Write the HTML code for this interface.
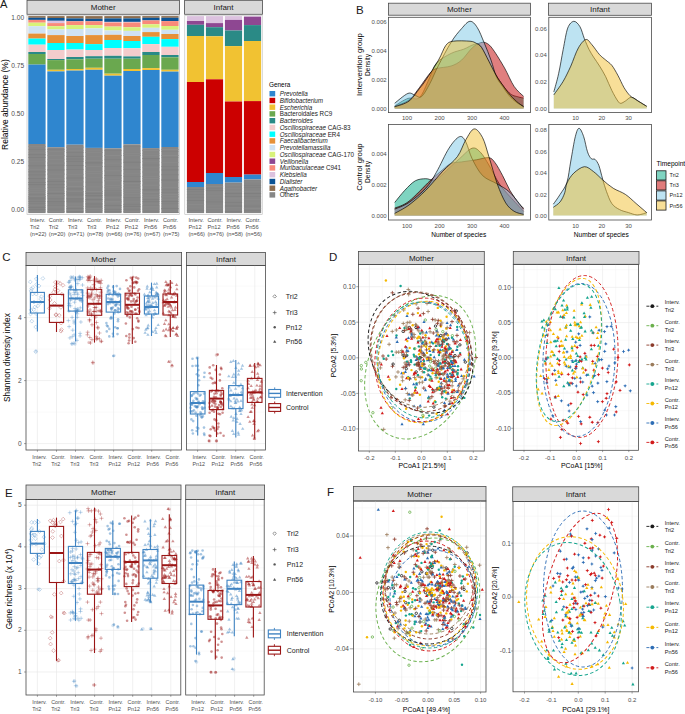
<!DOCTYPE html>
<html><head><meta charset="utf-8"><style>
html,body{margin:0;padding:0;background:#fff;}
svg{display:block;font-family:"Liberation Sans",sans-serif;}
</style></head><body>
<svg width="685" height="714" viewBox="0 0 685 714">
<rect width="685" height="714" fill="#fff"/>
<text x="0" y="8.4" font-size="11.2" fill="#1a1a1a">A</text>
<rect x="27" y="0.3" width="152.5" height="14" fill="#d9d9d9" stroke="#4a4a4a" stroke-width="0.8"/>
<text x="103.2" y="10.1" font-size="8" text-anchor="middle" fill="#1a1a1a">Mother</text>
<rect x="184.6" y="0.3" width="77.8" height="14" fill="#d9d9d9" stroke="#4a4a4a" stroke-width="0.8"/>
<text x="223.5" y="10.1" font-size="8" text-anchor="middle" fill="#1a1a1a">Infant</text>
<rect x="27" y="15.2" width="152.6" height="199.4" fill="none" stroke="#b8b8b8" stroke-width="0.6"/>
<rect x="184.8" y="15.2" width="77.4" height="199.4" fill="none" stroke="#b8b8b8" stroke-width="0.6"/>
<rect x="28.3" y="16.1" width="17.3" height="1.7" fill="#8c6d4f"/>
<rect x="28.3" y="17.8" width="17.3" height="2.1" fill="#0b5394"/>
<rect x="28.3" y="19.9" width="17.3" height="2.8" fill="#f98a7a"/>
<rect x="28.3" y="22.7" width="17.3" height="3.5" fill="#d9f27a"/>
<rect x="28.3" y="26.2" width="17.3" height="7.4" fill="#cfe2f3"/>
<rect x="28.3" y="33.6" width="17.3" height="5" fill="#e69138"/>
<rect x="28.3" y="38.6" width="17.3" height="6.1" fill="#00ffff"/>
<rect x="28.3" y="44.7" width="17.3" height="7.3" fill="#f4cccc"/>
<rect x="28.3" y="52" width="17.3" height="2" fill="#2a8a86"/>
<rect x="28.3" y="54" width="17.3" height="10.6" fill="#6aa84f"/>
<rect x="28.3" y="64.6" width="17.3" height="79.4" fill="#2f86cf"/>
<rect x="28.3" y="144" width="17.3" height="69.1" fill="#868686"/>
<rect x="28.3" y="146" width="17.3" height="0.6" fill="#8c8c8c"/>
<rect x="28.3" y="149.2" width="17.3" height="0.4" fill="#7e7e7e"/>
<rect x="28.3" y="152.3" width="17.3" height="0.4" fill="#8c8c8c"/>
<rect x="28.3" y="154.4" width="17.3" height="0.7" fill="#7e7e7e"/>
<rect x="28.3" y="157.1" width="17.3" height="0.7" fill="#7e7e7e"/>
<rect x="28.3" y="161.6" width="17.3" height="0.5" fill="#8c8c8c"/>
<rect x="28.3" y="165.5" width="17.3" height="0.7" fill="#7e7e7e"/>
<rect x="28.3" y="169.2" width="17.3" height="0.6" fill="#8c8c8c"/>
<rect x="28.3" y="171.4" width="17.3" height="0.9" fill="#808080"/>
<rect x="28.3" y="174.6" width="17.3" height="0.7" fill="#808080"/>
<rect x="28.3" y="178.3" width="17.3" height="0.8" fill="#7e7e7e"/>
<rect x="28.3" y="182" width="17.3" height="0.8" fill="#808080"/>
<rect x="28.3" y="184.3" width="17.3" height="0.8" fill="#7e7e7e"/>
<rect x="28.3" y="188.2" width="17.3" height="0.7" fill="#8a8a8a"/>
<rect x="28.3" y="190.4" width="17.3" height="0.7" fill="#8a8a8a"/>
<rect x="28.3" y="192.1" width="17.3" height="0.5" fill="#8c8c8c"/>
<rect x="28.3" y="194.2" width="17.3" height="0.5" fill="#808080"/>
<rect x="28.3" y="196.1" width="17.3" height="0.9" fill="#8a8a8a"/>
<rect x="28.3" y="197.6" width="17.3" height="1" fill="#7e7e7e"/>
<rect x="28.3" y="199.5" width="17.3" height="0.5" fill="#808080"/>
<rect x="28.3" y="200.9" width="17.3" height="0.7" fill="#7e7e7e"/>
<rect x="28.3" y="203.4" width="17.3" height="0.4" fill="#808080"/>
<rect x="28.3" y="205" width="17.3" height="0.6" fill="#8a8a8a"/>
<rect x="28.3" y="206.9" width="17.3" height="0.7" fill="#7e7e7e"/>
<rect x="28.3" y="209.4" width="17.3" height="0.7" fill="#7e7e7e"/>
<rect x="28.3" y="210.7" width="17.3" height="0.8" fill="#8a8a8a"/>
<rect x="47.3" y="16.1" width="17.3" height="1.9" fill="#8c6d4f"/>
<rect x="47.3" y="18" width="17.3" height="2.8" fill="#0b5394"/>
<rect x="47.3" y="20.8" width="17.3" height="2.3" fill="#dcc2df"/>
<rect x="47.3" y="23.1" width="17.3" height="3.1" fill="#f98a7a"/>
<rect x="47.3" y="26.2" width="17.3" height="3.3" fill="#d9f27a"/>
<rect x="47.3" y="29.5" width="17.3" height="5.6" fill="#cfe2f3"/>
<rect x="47.3" y="35.1" width="17.3" height="7.9" fill="#e69138"/>
<rect x="47.3" y="43" width="17.3" height="7" fill="#00ffff"/>
<rect x="47.3" y="50" width="17.3" height="9" fill="#f4cccc"/>
<rect x="47.3" y="59" width="17.3" height="1.1" fill="#2a8a86"/>
<rect x="47.3" y="60.1" width="17.3" height="9.7" fill="#6aa84f"/>
<rect x="47.3" y="69.8" width="17.3" height="1.6" fill="#f1c232"/>
<rect x="47.3" y="71.4" width="17.3" height="75.8" fill="#2f86cf"/>
<rect x="47.3" y="147.2" width="17.3" height="65.9" fill="#868686"/>
<rect x="47.3" y="149.2" width="17.3" height="0.6" fill="#808080"/>
<rect x="47.3" y="151.3" width="17.3" height="0.7" fill="#8c8c8c"/>
<rect x="47.3" y="155.1" width="17.3" height="0.7" fill="#8c8c8c"/>
<rect x="47.3" y="159.4" width="17.3" height="0.5" fill="#8c8c8c"/>
<rect x="47.3" y="162.6" width="17.3" height="1" fill="#8a8a8a"/>
<rect x="47.3" y="164.8" width="17.3" height="0.7" fill="#808080"/>
<rect x="47.3" y="169.5" width="17.3" height="0.9" fill="#808080"/>
<rect x="47.3" y="173.6" width="17.3" height="1" fill="#8a8a8a"/>
<rect x="47.3" y="178.5" width="17.3" height="0.5" fill="#8c8c8c"/>
<rect x="47.3" y="180.9" width="17.3" height="0.8" fill="#7e7e7e"/>
<rect x="47.3" y="184.4" width="17.3" height="0.8" fill="#808080"/>
<rect x="47.3" y="187.2" width="17.3" height="0.5" fill="#808080"/>
<rect x="47.3" y="191.1" width="17.3" height="0.6" fill="#8c8c8c"/>
<rect x="47.3" y="193.2" width="17.3" height="0.7" fill="#7e7e7e"/>
<rect x="47.3" y="195" width="17.3" height="0.9" fill="#8a8a8a"/>
<rect x="47.3" y="196.7" width="17.3" height="0.6" fill="#8a8a8a"/>
<rect x="47.3" y="198.7" width="17.3" height="0.4" fill="#7e7e7e"/>
<rect x="47.3" y="201.2" width="17.3" height="0.7" fill="#7e7e7e"/>
<rect x="47.3" y="202.8" width="17.3" height="0.4" fill="#7e7e7e"/>
<rect x="47.3" y="204.8" width="17.3" height="0.7" fill="#808080"/>
<rect x="47.3" y="206.8" width="17.3" height="0.4" fill="#8c8c8c"/>
<rect x="47.3" y="208.8" width="17.3" height="0.5" fill="#808080"/>
<rect x="47.3" y="211.2" width="17.3" height="0.8" fill="#8a8a8a"/>
<rect x="66.3" y="16.1" width="17.3" height="2.3" fill="#8c6d4f"/>
<rect x="66.3" y="18.4" width="17.3" height="2.9" fill="#0b5394"/>
<rect x="66.3" y="21.3" width="17.3" height="3.8" fill="#f98a7a"/>
<rect x="66.3" y="25.1" width="17.3" height="3.9" fill="#d9f27a"/>
<rect x="66.3" y="29" width="17.3" height="7" fill="#cfe2f3"/>
<rect x="66.3" y="36" width="17.3" height="7" fill="#e69138"/>
<rect x="66.3" y="43" width="17.3" height="6.6" fill="#00ffff"/>
<rect x="66.3" y="49.6" width="17.3" height="7.4" fill="#f4cccc"/>
<rect x="66.3" y="57" width="17.3" height="2.3" fill="#2a8a86"/>
<rect x="66.3" y="59.3" width="17.3" height="9.7" fill="#6aa84f"/>
<rect x="66.3" y="69" width="17.3" height="1.6" fill="#f1c232"/>
<rect x="66.3" y="70.6" width="17.3" height="74.1" fill="#2f86cf"/>
<rect x="66.3" y="144.7" width="17.3" height="68.4" fill="#868686"/>
<rect x="66.3" y="146.7" width="17.3" height="0.9" fill="#8a8a8a"/>
<rect x="66.3" y="150.1" width="17.3" height="0.6" fill="#8c8c8c"/>
<rect x="66.3" y="152.4" width="17.3" height="0.6" fill="#808080"/>
<rect x="66.3" y="155.9" width="17.3" height="0.8" fill="#7e7e7e"/>
<rect x="66.3" y="158.5" width="17.3" height="1" fill="#808080"/>
<rect x="66.3" y="160.9" width="17.3" height="0.7" fill="#7e7e7e"/>
<rect x="66.3" y="165.2" width="17.3" height="0.6" fill="#7e7e7e"/>
<rect x="66.3" y="169.3" width="17.3" height="0.6" fill="#808080"/>
<rect x="66.3" y="174" width="17.3" height="0.6" fill="#8c8c8c"/>
<rect x="66.3" y="177.6" width="17.3" height="0.9" fill="#808080"/>
<rect x="66.3" y="181.5" width="17.3" height="0.8" fill="#8c8c8c"/>
<rect x="66.3" y="186" width="17.3" height="0.9" fill="#8c8c8c"/>
<rect x="66.3" y="188.6" width="17.3" height="0.7" fill="#7e7e7e"/>
<rect x="66.3" y="191" width="17.3" height="0.9" fill="#8a8a8a"/>
<rect x="66.3" y="192.6" width="17.3" height="0.8" fill="#808080"/>
<rect x="66.3" y="194.4" width="17.3" height="1" fill="#808080"/>
<rect x="66.3" y="196.8" width="17.3" height="0.6" fill="#8c8c8c"/>
<rect x="66.3" y="198.1" width="17.3" height="0.7" fill="#808080"/>
<rect x="66.3" y="199.6" width="17.3" height="0.8" fill="#7e7e7e"/>
<rect x="66.3" y="201.4" width="17.3" height="0.8" fill="#7e7e7e"/>
<rect x="66.3" y="203.7" width="17.3" height="0.5" fill="#8a8a8a"/>
<rect x="66.3" y="205.9" width="17.3" height="0.9" fill="#8a8a8a"/>
<rect x="66.3" y="208.3" width="17.3" height="0.7" fill="#808080"/>
<rect x="66.3" y="209.6" width="17.3" height="1" fill="#8a8a8a"/>
<rect x="66.3" y="211.4" width="17.3" height="0.8" fill="#7e7e7e"/>
<rect x="85.3" y="16.1" width="17.3" height="2.7" fill="#8c6d4f"/>
<rect x="85.3" y="18.8" width="17.3" height="2.5" fill="#0b5394"/>
<rect x="85.3" y="21.3" width="17.3" height="3.8" fill="#f98a7a"/>
<rect x="85.3" y="25.1" width="17.3" height="3.3" fill="#d9f27a"/>
<rect x="85.3" y="28.4" width="17.3" height="6.7" fill="#cfe2f3"/>
<rect x="85.3" y="35.1" width="17.3" height="9" fill="#e69138"/>
<rect x="85.3" y="44.1" width="17.3" height="5.9" fill="#00ffff"/>
<rect x="85.3" y="50" width="17.3" height="6.2" fill="#f4cccc"/>
<rect x="85.3" y="56.2" width="17.3" height="2.5" fill="#2a8a86"/>
<rect x="85.3" y="58.7" width="17.3" height="9.1" fill="#6aa84f"/>
<rect x="85.3" y="67.8" width="17.3" height="2" fill="#f1c232"/>
<rect x="85.3" y="69.8" width="17.3" height="78.1" fill="#2f86cf"/>
<rect x="85.3" y="147.9" width="17.3" height="65.2" fill="#868686"/>
<rect x="85.3" y="149.9" width="17.3" height="0.5" fill="#8c8c8c"/>
<rect x="85.3" y="152" width="17.3" height="0.8" fill="#8a8a8a"/>
<rect x="85.3" y="156.4" width="17.3" height="0.5" fill="#8a8a8a"/>
<rect x="85.3" y="160.4" width="17.3" height="0.6" fill="#8c8c8c"/>
<rect x="85.3" y="162.4" width="17.3" height="0.9" fill="#7e7e7e"/>
<rect x="85.3" y="166" width="17.3" height="1" fill="#8a8a8a"/>
<rect x="85.3" y="171" width="17.3" height="0.5" fill="#8c8c8c"/>
<rect x="85.3" y="173.1" width="17.3" height="0.5" fill="#8c8c8c"/>
<rect x="85.3" y="177.4" width="17.3" height="0.6" fill="#8a8a8a"/>
<rect x="85.3" y="181.9" width="17.3" height="0.4" fill="#808080"/>
<rect x="85.3" y="186.5" width="17.3" height="0.8" fill="#8a8a8a"/>
<rect x="85.3" y="191" width="17.3" height="0.9" fill="#8c8c8c"/>
<rect x="85.3" y="192.9" width="17.3" height="0.7" fill="#7e7e7e"/>
<rect x="85.3" y="195.3" width="17.3" height="0.9" fill="#7e7e7e"/>
<rect x="85.3" y="197.5" width="17.3" height="0.5" fill="#8c8c8c"/>
<rect x="85.3" y="199.3" width="17.3" height="0.8" fill="#7e7e7e"/>
<rect x="85.3" y="200.9" width="17.3" height="0.7" fill="#8a8a8a"/>
<rect x="85.3" y="203.1" width="17.3" height="0.5" fill="#7e7e7e"/>
<rect x="85.3" y="204.6" width="17.3" height="0.6" fill="#7e7e7e"/>
<rect x="85.3" y="206.5" width="17.3" height="0.7" fill="#7e7e7e"/>
<rect x="85.3" y="208.3" width="17.3" height="0.8" fill="#8c8c8c"/>
<rect x="85.3" y="210.4" width="17.3" height="0.7" fill="#8a8a8a"/>
<rect x="104.3" y="16.1" width="17.3" height="2.3" fill="#8c6d4f"/>
<rect x="104.3" y="18.4" width="17.3" height="3.5" fill="#0b5394"/>
<rect x="104.3" y="21.9" width="17.3" height="0.6" fill="#dcc2df"/>
<rect x="104.3" y="22.5" width="17.3" height="4.1" fill="#f98a7a"/>
<rect x="104.3" y="26.6" width="17.3" height="3.9" fill="#d9f27a"/>
<rect x="104.3" y="30.5" width="17.3" height="4.3" fill="#cfe2f3"/>
<rect x="104.3" y="34.8" width="17.3" height="5.2" fill="#e69138"/>
<rect x="104.3" y="40" width="17.3" height="8" fill="#00ffff"/>
<rect x="104.3" y="48" width="17.3" height="7.8" fill="#f4cccc"/>
<rect x="104.3" y="55.8" width="17.3" height="2.9" fill="#2a8a86"/>
<rect x="104.3" y="58.7" width="17.3" height="15" fill="#6aa84f"/>
<rect x="104.3" y="73.7" width="17.3" height="2" fill="#f1c232"/>
<rect x="104.3" y="75.7" width="17.3" height="72.6" fill="#2f86cf"/>
<rect x="104.3" y="148.3" width="17.3" height="64.8" fill="#868686"/>
<rect x="104.3" y="150.3" width="17.3" height="0.5" fill="#808080"/>
<rect x="104.3" y="155.1" width="17.3" height="0.9" fill="#8c8c8c"/>
<rect x="104.3" y="159.6" width="17.3" height="0.5" fill="#7e7e7e"/>
<rect x="104.3" y="162.8" width="17.3" height="0.6" fill="#8c8c8c"/>
<rect x="104.3" y="166.1" width="17.3" height="0.5" fill="#808080"/>
<rect x="104.3" y="170.4" width="17.3" height="0.9" fill="#8c8c8c"/>
<rect x="104.3" y="175.2" width="17.3" height="0.8" fill="#808080"/>
<rect x="104.3" y="177.6" width="17.3" height="0.9" fill="#8a8a8a"/>
<rect x="104.3" y="180.3" width="17.3" height="1" fill="#8a8a8a"/>
<rect x="104.3" y="185" width="17.3" height="0.5" fill="#8c8c8c"/>
<rect x="104.3" y="187.4" width="17.3" height="0.7" fill="#8a8a8a"/>
<rect x="104.3" y="190.5" width="17.3" height="0.5" fill="#808080"/>
<rect x="104.3" y="191.8" width="17.3" height="0.6" fill="#808080"/>
<rect x="104.3" y="193.7" width="17.3" height="0.7" fill="#7e7e7e"/>
<rect x="104.3" y="195.4" width="17.3" height="0.7" fill="#808080"/>
<rect x="104.3" y="197.3" width="17.3" height="0.4" fill="#8c8c8c"/>
<rect x="104.3" y="199.7" width="17.3" height="0.5" fill="#808080"/>
<rect x="104.3" y="201.3" width="17.3" height="0.9" fill="#8c8c8c"/>
<rect x="104.3" y="202.8" width="17.3" height="0.5" fill="#8a8a8a"/>
<rect x="104.3" y="205.1" width="17.3" height="0.8" fill="#808080"/>
<rect x="104.3" y="206.9" width="17.3" height="0.7" fill="#8a8a8a"/>
<rect x="104.3" y="209" width="17.3" height="0.5" fill="#7e7e7e"/>
<rect x="104.3" y="211.2" width="17.3" height="0.5" fill="#7e7e7e"/>
<rect x="123.3" y="16.1" width="17.3" height="2.3" fill="#8c6d4f"/>
<rect x="123.3" y="18.4" width="17.3" height="3.5" fill="#0b5394"/>
<rect x="123.3" y="21.9" width="17.3" height="0.6" fill="#dcc2df"/>
<rect x="123.3" y="22.5" width="17.3" height="4.7" fill="#f98a7a"/>
<rect x="123.3" y="27.2" width="17.3" height="3.7" fill="#d9f27a"/>
<rect x="123.3" y="30.9" width="17.3" height="5.1" fill="#cfe2f3"/>
<rect x="123.3" y="36" width="17.3" height="5" fill="#e69138"/>
<rect x="123.3" y="41" width="17.3" height="7.2" fill="#00ffff"/>
<rect x="123.3" y="48.2" width="17.3" height="8.2" fill="#f4cccc"/>
<rect x="123.3" y="56.4" width="17.3" height="2.3" fill="#2a8a86"/>
<rect x="123.3" y="58.7" width="17.3" height="10.3" fill="#6aa84f"/>
<rect x="123.3" y="69" width="17.3" height="2" fill="#f1c232"/>
<rect x="123.3" y="71" width="17.3" height="73.3" fill="#2f86cf"/>
<rect x="123.3" y="144.3" width="17.3" height="68.8" fill="#868686"/>
<rect x="123.3" y="146.3" width="17.3" height="0.4" fill="#7e7e7e"/>
<rect x="123.3" y="150.7" width="17.3" height="0.5" fill="#8c8c8c"/>
<rect x="123.3" y="152.9" width="17.3" height="0.9" fill="#8a8a8a"/>
<rect x="123.3" y="154.9" width="17.3" height="1" fill="#8a8a8a"/>
<rect x="123.3" y="159.7" width="17.3" height="0.6" fill="#8c8c8c"/>
<rect x="123.3" y="161.8" width="17.3" height="0.8" fill="#7e7e7e"/>
<rect x="123.3" y="166.8" width="17.3" height="0.6" fill="#8c8c8c"/>
<rect x="123.3" y="169.4" width="17.3" height="0.6" fill="#808080"/>
<rect x="123.3" y="173" width="17.3" height="0.5" fill="#8a8a8a"/>
<rect x="123.3" y="176.5" width="17.3" height="0.5" fill="#808080"/>
<rect x="123.3" y="180.9" width="17.3" height="1" fill="#7e7e7e"/>
<rect x="123.3" y="182.9" width="17.3" height="0.8" fill="#8c8c8c"/>
<rect x="123.3" y="186.5" width="17.3" height="0.5" fill="#8a8a8a"/>
<rect x="123.3" y="188.8" width="17.3" height="0.9" fill="#8a8a8a"/>
<rect x="123.3" y="190.8" width="17.3" height="0.7" fill="#8a8a8a"/>
<rect x="123.3" y="193.3" width="17.3" height="0.6" fill="#8c8c8c"/>
<rect x="123.3" y="195.8" width="17.3" height="0.6" fill="#8c8c8c"/>
<rect x="123.3" y="197.5" width="17.3" height="0.6" fill="#7e7e7e"/>
<rect x="123.3" y="199.8" width="17.3" height="0.4" fill="#808080"/>
<rect x="123.3" y="201.5" width="17.3" height="0.4" fill="#8a8a8a"/>
<rect x="123.3" y="203.9" width="17.3" height="0.8" fill="#808080"/>
<rect x="123.3" y="205.9" width="17.3" height="0.8" fill="#7e7e7e"/>
<rect x="123.3" y="207.6" width="17.3" height="0.5" fill="#8a8a8a"/>
<rect x="123.3" y="208.9" width="17.3" height="0.6" fill="#808080"/>
<rect x="123.3" y="211.3" width="17.3" height="0.7" fill="#8c8c8c"/>
<rect x="142.3" y="16.1" width="17.3" height="1.7" fill="#8c6d4f"/>
<rect x="142.3" y="17.8" width="17.3" height="2.6" fill="#0b5394"/>
<rect x="142.3" y="20.4" width="17.3" height="3.9" fill="#f98a7a"/>
<rect x="142.3" y="24.3" width="17.3" height="3.5" fill="#d9f27a"/>
<rect x="142.3" y="27.8" width="17.3" height="4.3" fill="#cfe2f3"/>
<rect x="142.3" y="32.1" width="17.3" height="4.7" fill="#e69138"/>
<rect x="142.3" y="36.8" width="17.3" height="7.3" fill="#00ffff"/>
<rect x="142.3" y="44.1" width="17.3" height="7.9" fill="#f4cccc"/>
<rect x="142.3" y="52" width="17.3" height="3" fill="#2a8a86"/>
<rect x="142.3" y="55" width="17.3" height="13.1" fill="#6aa84f"/>
<rect x="142.3" y="68.1" width="17.3" height="1.9" fill="#f1c232"/>
<rect x="142.3" y="70" width="17.3" height="78.1" fill="#2f86cf"/>
<rect x="142.3" y="148.1" width="17.3" height="65" fill="#868686"/>
<rect x="142.3" y="150.1" width="17.3" height="0.9" fill="#8c8c8c"/>
<rect x="142.3" y="153.2" width="17.3" height="0.4" fill="#8a8a8a"/>
<rect x="142.3" y="155.4" width="17.3" height="0.6" fill="#8c8c8c"/>
<rect x="142.3" y="158.2" width="17.3" height="0.9" fill="#7e7e7e"/>
<rect x="142.3" y="161" width="17.3" height="0.5" fill="#8a8a8a"/>
<rect x="142.3" y="164.7" width="17.3" height="0.6" fill="#808080"/>
<rect x="142.3" y="167.6" width="17.3" height="0.5" fill="#8c8c8c"/>
<rect x="142.3" y="171.6" width="17.3" height="0.8" fill="#8a8a8a"/>
<rect x="142.3" y="175.9" width="17.3" height="0.8" fill="#8a8a8a"/>
<rect x="142.3" y="178.3" width="17.3" height="0.8" fill="#8c8c8c"/>
<rect x="142.3" y="180.5" width="17.3" height="0.9" fill="#8a8a8a"/>
<rect x="142.3" y="184.7" width="17.3" height="0.9" fill="#8c8c8c"/>
<rect x="142.3" y="189.4" width="17.3" height="0.9" fill="#7e7e7e"/>
<rect x="142.3" y="191.7" width="17.3" height="0.8" fill="#8c8c8c"/>
<rect x="142.3" y="193" width="17.3" height="0.4" fill="#808080"/>
<rect x="142.3" y="195.4" width="17.3" height="0.6" fill="#8a8a8a"/>
<rect x="142.3" y="197.4" width="17.3" height="0.8" fill="#8c8c8c"/>
<rect x="142.3" y="199.2" width="17.3" height="0.4" fill="#7e7e7e"/>
<rect x="142.3" y="201.4" width="17.3" height="0.7" fill="#7e7e7e"/>
<rect x="142.3" y="203.4" width="17.3" height="0.4" fill="#8a8a8a"/>
<rect x="142.3" y="205" width="17.3" height="0.4" fill="#808080"/>
<rect x="142.3" y="206.5" width="17.3" height="0.9" fill="#8c8c8c"/>
<rect x="142.3" y="208.6" width="17.3" height="1" fill="#8a8a8a"/>
<rect x="142.3" y="210.9" width="17.3" height="0.4" fill="#808080"/>
<rect x="161.3" y="16.1" width="17.3" height="1.7" fill="#8c6d4f"/>
<rect x="161.3" y="17.8" width="17.3" height="3.3" fill="#0b5394"/>
<rect x="161.3" y="21.1" width="17.3" height="4.9" fill="#f98a7a"/>
<rect x="161.3" y="26" width="17.3" height="3.8" fill="#d9f27a"/>
<rect x="161.3" y="29.8" width="17.3" height="4.2" fill="#cfe2f3"/>
<rect x="161.3" y="34" width="17.3" height="5.1" fill="#e69138"/>
<rect x="161.3" y="39.1" width="17.3" height="7.7" fill="#00ffff"/>
<rect x="161.3" y="46.8" width="17.3" height="8.2" fill="#f4cccc"/>
<rect x="161.3" y="55" width="17.3" height="2.3" fill="#2a8a86"/>
<rect x="161.3" y="57.3" width="17.3" height="12.5" fill="#6aa84f"/>
<rect x="161.3" y="69.8" width="17.3" height="1.8" fill="#f1c232"/>
<rect x="161.3" y="71.6" width="17.3" height="75.4" fill="#2f86cf"/>
<rect x="161.3" y="147" width="17.3" height="66.1" fill="#868686"/>
<rect x="161.3" y="149" width="17.3" height="0.8" fill="#8c8c8c"/>
<rect x="161.3" y="151.2" width="17.3" height="0.5" fill="#808080"/>
<rect x="161.3" y="155.2" width="17.3" height="0.8" fill="#8c8c8c"/>
<rect x="161.3" y="157.2" width="17.3" height="0.4" fill="#808080"/>
<rect x="161.3" y="162.1" width="17.3" height="0.5" fill="#8c8c8c"/>
<rect x="161.3" y="166.2" width="17.3" height="0.6" fill="#808080"/>
<rect x="161.3" y="169.6" width="17.3" height="0.7" fill="#7e7e7e"/>
<rect x="161.3" y="174.5" width="17.3" height="0.7" fill="#808080"/>
<rect x="161.3" y="179.5" width="17.3" height="1" fill="#7e7e7e"/>
<rect x="161.3" y="182.3" width="17.3" height="0.4" fill="#8a8a8a"/>
<rect x="161.3" y="187.3" width="17.3" height="0.6" fill="#8c8c8c"/>
<rect x="161.3" y="189.6" width="17.3" height="0.5" fill="#808080"/>
<rect x="161.3" y="192" width="17.3" height="0.5" fill="#808080"/>
<rect x="161.3" y="194.3" width="17.3" height="0.8" fill="#8c8c8c"/>
<rect x="161.3" y="196.2" width="17.3" height="0.9" fill="#8a8a8a"/>
<rect x="161.3" y="197.4" width="17.3" height="0.4" fill="#8a8a8a"/>
<rect x="161.3" y="199.5" width="17.3" height="0.6" fill="#8c8c8c"/>
<rect x="161.3" y="201.2" width="17.3" height="0.6" fill="#7e7e7e"/>
<rect x="161.3" y="203.5" width="17.3" height="0.4" fill="#808080"/>
<rect x="161.3" y="205.8" width="17.3" height="0.5" fill="#8c8c8c"/>
<rect x="161.3" y="208" width="17.3" height="0.9" fill="#808080"/>
<rect x="161.3" y="209.5" width="17.3" height="0.4" fill="#8a8a8a"/>
<rect x="161.3" y="212" width="17.3" height="0.8" fill="#808080"/>
<rect x="186.9" y="16.1" width="17.2" height="4.9" fill="#dcc2df"/>
<rect x="186.9" y="21" width="17.2" height="3.8" fill="#8e4792"/>
<rect x="186.9" y="24.8" width="17.2" height="11.2" fill="#2a8a86"/>
<rect x="186.9" y="36" width="17.2" height="46" fill="#f1c232"/>
<rect x="186.9" y="82" width="17.2" height="100" fill="#cc0000"/>
<rect x="186.9" y="182" width="17.2" height="5" fill="#2f86cf"/>
<rect x="186.9" y="187" width="17.2" height="26.1" fill="#868686"/>
<rect x="186.9" y="189" width="17.2" height="0.9" fill="#7e7e7e"/>
<rect x="186.9" y="191.2" width="17.2" height="0.4" fill="#808080"/>
<rect x="186.9" y="194.3" width="17.2" height="0.5" fill="#808080"/>
<rect x="186.9" y="196.9" width="17.2" height="0.6" fill="#808080"/>
<rect x="186.9" y="200.3" width="17.2" height="0.7" fill="#7e7e7e"/>
<rect x="186.9" y="203.9" width="17.2" height="0.8" fill="#8c8c8c"/>
<rect x="186.9" y="207.2" width="17.2" height="0.4" fill="#8a8a8a"/>
<rect x="186.9" y="209.8" width="17.2" height="0.9" fill="#808080"/>
<rect x="205.9" y="16.1" width="17.2" height="7" fill="#dcc2df"/>
<rect x="205.9" y="23.1" width="17.2" height="4.1" fill="#8e4792"/>
<rect x="205.9" y="27.2" width="17.2" height="9.1" fill="#2a8a86"/>
<rect x="205.9" y="36.3" width="17.2" height="43" fill="#f1c232"/>
<rect x="205.9" y="79.3" width="17.2" height="93.7" fill="#cc0000"/>
<rect x="205.9" y="173" width="17.2" height="11" fill="#2f86cf"/>
<rect x="205.9" y="184" width="17.2" height="29.1" fill="#868686"/>
<rect x="205.9" y="186" width="17.2" height="0.9" fill="#8c8c8c"/>
<rect x="205.9" y="187.9" width="17.2" height="0.6" fill="#808080"/>
<rect x="205.9" y="190.2" width="17.2" height="0.8" fill="#808080"/>
<rect x="205.9" y="192.7" width="17.2" height="0.5" fill="#8a8a8a"/>
<rect x="205.9" y="195.6" width="17.2" height="0.6" fill="#8c8c8c"/>
<rect x="205.9" y="198.7" width="17.2" height="0.4" fill="#8a8a8a"/>
<rect x="205.9" y="201.6" width="17.2" height="0.7" fill="#808080"/>
<rect x="205.9" y="205.6" width="17.2" height="0.7" fill="#8c8c8c"/>
<rect x="205.9" y="208.4" width="17.2" height="0.5" fill="#8c8c8c"/>
<rect x="205.9" y="210.8" width="17.2" height="0.5" fill="#8c8c8c"/>
<rect x="224.9" y="16.1" width="17.2" height="3.8" fill="#dcc2df"/>
<rect x="224.9" y="19.9" width="17.2" height="10.6" fill="#8e4792"/>
<rect x="224.9" y="30.5" width="17.2" height="15.6" fill="#2a8a86"/>
<rect x="224.9" y="46.1" width="17.2" height="55.4" fill="#f1c232"/>
<rect x="224.9" y="101.5" width="17.2" height="75.5" fill="#cc0000"/>
<rect x="224.9" y="177" width="17.2" height="5.6" fill="#2f86cf"/>
<rect x="224.9" y="182.6" width="17.2" height="30.5" fill="#868686"/>
<rect x="224.9" y="184.6" width="17.2" height="0.9" fill="#8c8c8c"/>
<rect x="224.9" y="188.3" width="17.2" height="0.8" fill="#8a8a8a"/>
<rect x="224.9" y="190.8" width="17.2" height="0.8" fill="#8c8c8c"/>
<rect x="224.9" y="193.2" width="17.2" height="0.6" fill="#7e7e7e"/>
<rect x="224.9" y="196" width="17.2" height="0.7" fill="#808080"/>
<rect x="224.9" y="197.8" width="17.2" height="0.7" fill="#8c8c8c"/>
<rect x="224.9" y="199.5" width="17.2" height="0.9" fill="#8a8a8a"/>
<rect x="224.9" y="202" width="17.2" height="0.7" fill="#808080"/>
<rect x="224.9" y="205.6" width="17.2" height="0.9" fill="#7e7e7e"/>
<rect x="224.9" y="207.4" width="17.2" height="0.7" fill="#8a8a8a"/>
<rect x="224.9" y="211.4" width="17.2" height="0.7" fill="#7e7e7e"/>
<rect x="243.9" y="16.1" width="17.2" height="0.6" fill="#dcc2df"/>
<rect x="243.9" y="16.7" width="17.2" height="8.4" fill="#8e4792"/>
<rect x="243.9" y="25.1" width="17.2" height="15.9" fill="#2a8a86"/>
<rect x="243.9" y="41" width="17.2" height="60.1" fill="#f1c232"/>
<rect x="243.9" y="101.1" width="17.2" height="73.5" fill="#cc0000"/>
<rect x="243.9" y="174.6" width="17.2" height="4.8" fill="#2f86cf"/>
<rect x="243.9" y="179.4" width="17.2" height="33.7" fill="#868686"/>
<rect x="243.9" y="181.4" width="17.2" height="1" fill="#8a8a8a"/>
<rect x="243.9" y="185.3" width="17.2" height="0.5" fill="#7e7e7e"/>
<rect x="243.9" y="187.4" width="17.2" height="0.5" fill="#7e7e7e"/>
<rect x="243.9" y="191.2" width="17.2" height="0.8" fill="#8a8a8a"/>
<rect x="243.9" y="193" width="17.2" height="0.9" fill="#7e7e7e"/>
<rect x="243.9" y="196.4" width="17.2" height="0.5" fill="#7e7e7e"/>
<rect x="243.9" y="199.5" width="17.2" height="0.6" fill="#8c8c8c"/>
<rect x="243.9" y="202.6" width="17.2" height="0.7" fill="#8a8a8a"/>
<rect x="243.9" y="205.8" width="17.2" height="0.5" fill="#7e7e7e"/>
<rect x="243.9" y="208.1" width="17.2" height="1" fill="#8c8c8c"/>
<rect x="243.9" y="210.6" width="17.2" height="0.5" fill="#7e7e7e"/>
<rect x="243.9" y="212.1" width="17.2" height="0.6" fill="#8a8a8a"/>
<text x="24.2" y="20" font-size="6.6" text-anchor="end" fill="#4d4d4d">1.00</text>
<text x="24.2" y="68" font-size="6.6" text-anchor="end" fill="#4d4d4d">0.75</text>
<text x="24.2" y="116.1" font-size="6.6" text-anchor="end" fill="#4d4d4d">0.50</text>
<text x="24.2" y="164.1" font-size="6.6" text-anchor="end" fill="#4d4d4d">0.25</text>
<text x="24.2" y="212.2" font-size="6.6" text-anchor="end" fill="#4d4d4d">0.00</text>
<text transform="translate(4.6,104.6) rotate(-90)" x="0" y="3.1" font-size="8.5" text-anchor="middle" fill="#000">Relative abundance (%)</text>
<text x="29.9" y="222.1" font-size="5.7" text-anchor="start" fill="#4d4d4d">Interv.</text>
<text x="29.9" y="229.2" font-size="5.7" text-anchor="start" fill="#4d4d4d">Tri2</text>
<text x="29.9" y="236.3" font-size="5.7" text-anchor="start" fill="#4d4d4d">(n=22)</text>
<text x="48.8" y="222.1" font-size="5.7" text-anchor="start" fill="#4d4d4d">Contr.</text>
<text x="48.8" y="229.2" font-size="5.7" text-anchor="start" fill="#4d4d4d">Tri2</text>
<text x="48.8" y="236.3" font-size="5.7" text-anchor="start" fill="#4d4d4d">(n=20)</text>
<text x="67.9" y="222.1" font-size="5.7" text-anchor="start" fill="#4d4d4d">Interv.</text>
<text x="67.9" y="229.2" font-size="5.7" text-anchor="start" fill="#4d4d4d">Tri3</text>
<text x="67.9" y="236.3" font-size="5.7" text-anchor="start" fill="#4d4d4d">(n=71)</text>
<text x="86.9" y="222.1" font-size="5.7" text-anchor="start" fill="#4d4d4d">Contr.</text>
<text x="86.9" y="229.2" font-size="5.7" text-anchor="start" fill="#4d4d4d">Tri3</text>
<text x="86.9" y="236.3" font-size="5.7" text-anchor="start" fill="#4d4d4d">(n=78)</text>
<text x="105.9" y="222.1" font-size="5.7" text-anchor="start" fill="#4d4d4d">Interv.</text>
<text x="105.9" y="229.2" font-size="5.7" text-anchor="start" fill="#4d4d4d">Pn12</text>
<text x="105.9" y="236.3" font-size="5.7" text-anchor="start" fill="#4d4d4d">(n=66)</text>
<text x="124.8" y="222.1" font-size="5.7" text-anchor="start" fill="#4d4d4d">Contr.</text>
<text x="124.8" y="229.2" font-size="5.7" text-anchor="start" fill="#4d4d4d">Pn12</text>
<text x="124.8" y="236.3" font-size="5.7" text-anchor="start" fill="#4d4d4d">(n=76)</text>
<text x="143.9" y="222.1" font-size="5.7" text-anchor="start" fill="#4d4d4d">Interv.</text>
<text x="143.9" y="229.2" font-size="5.7" text-anchor="start" fill="#4d4d4d">Pn56</text>
<text x="143.9" y="236.3" font-size="5.7" text-anchor="start" fill="#4d4d4d">(n=67)</text>
<text x="162.9" y="222.1" font-size="5.7" text-anchor="start" fill="#4d4d4d">Contr.</text>
<text x="162.9" y="229.2" font-size="5.7" text-anchor="start" fill="#4d4d4d">Pn56</text>
<text x="162.9" y="236.3" font-size="5.7" text-anchor="start" fill="#4d4d4d">(n=75)</text>
<text x="188.4" y="222.1" font-size="5.7" text-anchor="start" fill="#4d4d4d">Interv.</text>
<text x="188.4" y="229.2" font-size="5.7" text-anchor="start" fill="#4d4d4d">Pn12</text>
<text x="188.4" y="236.3" font-size="5.7" text-anchor="start" fill="#4d4d4d">(n=66)</text>
<text x="207.4" y="222.1" font-size="5.7" text-anchor="start" fill="#4d4d4d">Contr.</text>
<text x="207.4" y="229.2" font-size="5.7" text-anchor="start" fill="#4d4d4d">Pn12</text>
<text x="207.4" y="236.3" font-size="5.7" text-anchor="start" fill="#4d4d4d">(n=76)</text>
<text x="226.4" y="222.1" font-size="5.7" text-anchor="start" fill="#4d4d4d">Interv.</text>
<text x="226.4" y="229.2" font-size="5.7" text-anchor="start" fill="#4d4d4d">Pn56</text>
<text x="226.4" y="236.3" font-size="5.7" text-anchor="start" fill="#4d4d4d">(n=58)</text>
<text x="245.4" y="222.1" font-size="5.7" text-anchor="start" fill="#4d4d4d">Contr.</text>
<text x="245.4" y="229.2" font-size="5.7" text-anchor="start" fill="#4d4d4d">Pn56</text>
<text x="245.4" y="236.3" font-size="5.7" text-anchor="start" fill="#4d4d4d">(n=56)</text>
<text x="269" y="86.9" font-size="6.4" text-anchor="start" fill="#000">Genera</text>
<rect x="269.5" y="91" width="5.7" height="5.4" fill="#2f86cf"/>
<text x="279.7" y="96" font-size="6.3" fill="#1a1a1a" font-style="italic">Prevotella</text>
<rect x="269.5" y="97.8" width="5.7" height="5.4" fill="#cc0000"/>
<text x="279.7" y="102.7" font-size="6.3" fill="#1a1a1a" font-style="italic">Bifidobacterium</text>
<rect x="269.5" y="104.5" width="5.7" height="5.4" fill="#f1c232"/>
<text x="279.7" y="109.5" font-size="6.3" fill="#1a1a1a" font-style="italic">Escherichia</text>
<rect x="269.5" y="111.2" width="5.7" height="5.4" fill="#6aa84f"/>
<text x="279.7" y="116.2" font-size="6.3" fill="#1a1a1a">Bacteroidales RC9</text>
<rect x="269.5" y="118" width="5.7" height="5.4" fill="#2a8a86"/>
<text x="279.7" y="123" font-size="6.3" fill="#1a1a1a" font-style="italic">Bacteroides</text>
<rect x="269.5" y="124.8" width="5.7" height="5.4" fill="#f4cccc"/>
<text x="279.7" y="129.7" font-size="6.3" fill="#1a1a1a"><tspan font-style="italic">Oscillospiraceae</tspan> CAG-83</text>
<rect x="269.5" y="131.5" width="5.7" height="5.4" fill="#00ffff"/>
<text x="279.7" y="136.5" font-size="6.3" fill="#1a1a1a"><tspan font-style="italic">Oscillospiraceae</tspan> ER4</text>
<rect x="269.5" y="138.2" width="5.7" height="5.4" fill="#e69138"/>
<text x="279.7" y="143.2" font-size="6.3" fill="#1a1a1a" font-style="italic">Faecalibacterium</text>
<rect x="269.5" y="145" width="5.7" height="5.4" fill="#cfe2f3"/>
<text x="279.7" y="150" font-size="6.3" fill="#1a1a1a" font-style="italic">Prevotellamassilia</text>
<rect x="269.5" y="151.8" width="5.7" height="5.4" fill="#d9f27a"/>
<text x="279.7" y="156.7" font-size="6.3" fill="#1a1a1a"><tspan font-style="italic">Oscillospiraceae</tspan> CAG-170</text>
<rect x="269.5" y="158.5" width="5.7" height="5.4" fill="#8e4792"/>
<text x="279.7" y="163.5" font-size="6.3" fill="#1a1a1a" font-style="italic">Veillonella</text>
<rect x="269.5" y="165.2" width="5.7" height="5.4" fill="#f98a7a"/>
<text x="279.7" y="170.2" font-size="6.3" fill="#1a1a1a"><tspan font-style="italic">Muribaculaceae</tspan> C941</text>
<rect x="269.5" y="172" width="5.7" height="5.4" fill="#dcc2df"/>
<text x="279.7" y="177" font-size="6.3" fill="#1a1a1a" font-style="italic">Klebsiella</text>
<rect x="269.5" y="178.8" width="5.7" height="5.4" fill="#0b5394"/>
<text x="279.7" y="183.7" font-size="6.3" fill="#1a1a1a" font-style="italic">Dialister</text>
<rect x="269.5" y="185.5" width="5.7" height="5.4" fill="#8c6d4f"/>
<text x="279.7" y="190.5" font-size="6.3" fill="#1a1a1a" font-style="italic">Agathobacter</text>
<rect x="269.5" y="192.2" width="5.7" height="5.4" fill="#868686"/>
<text x="279.7" y="197.2" font-size="6.3" fill="#1a1a1a">Others</text>
<text x="356.1" y="14.3" font-size="11.5" fill="#1a1a1a">B</text>
<rect x="388.4" y="3.2" width="142" height="12" fill="#d9d9d9" stroke="#4a4a4a" stroke-width="0.8"/>
<text x="459.4" y="12" font-size="8" text-anchor="middle" fill="#1a1a1a">Mother</text>
<rect x="548.5" y="3.2" width="103.1" height="12.1" fill="#d9d9d9" stroke="#4a4a4a" stroke-width="0.8"/>
<text x="600" y="12.1" font-size="8" text-anchor="middle" fill="#1a1a1a">Infant</text>
<rect x="388.4" y="17.3" width="142" height="95.3" fill="none" stroke="#4a4a4a" stroke-width="0.8"/>
<rect x="388.4" y="124.4" width="142" height="95.6" fill="none" stroke="#4a4a4a" stroke-width="0.8"/>
<rect x="548.8" y="17.3" width="102.6" height="95.3" fill="none" stroke="#4a4a4a" stroke-width="0.8"/>
<rect x="548.8" y="124.4" width="102.6" height="95.6" fill="none" stroke="#4a4a4a" stroke-width="0.8"/>
<path d="M394.7,106 C396.9,104.7 403.8,99.8 408,98.4 C412.1,97 416,100.8 419.5,97.6 C423,94.3 426.2,84.8 429,79.1 C431.8,73.4 432.7,67.6 436.3,63.3 C440,59 446.5,55.8 451.1,53.4 C455.6,51.1 459.8,50.7 463.7,49.2 C467.5,47.7 471.4,45 474.2,44.4 C477,43.7 478.3,43 480.5,45.4 C482.7,47.8 484.6,53.6 487.2,58.7 C489.9,63.8 492.8,70.2 496.5,75.9 C500.1,81.6 505.4,89.2 509.1,92.7 C512.7,96.2 515.9,96.1 518.3,96.9 C520.8,97.8 522.7,97.8 523.6,98 L523.6,108.6 L394.7,108.6 Z" fill="#00a983" fill-opacity="0.5" stroke="none"/>
<path d="M394.7,106 C396.9,104.7 403.8,99.8 408,98.4 C412.1,97 416,100.8 419.5,97.6 C423,94.3 426.2,84.8 429,79.1 C431.8,73.4 432.7,67.6 436.3,63.3 C440,59 446.5,55.8 451.1,53.4 C455.6,51.1 459.8,50.7 463.7,49.2 C467.5,47.7 471.4,45 474.2,44.4 C477,43.7 478.3,43 480.5,45.4 C482.7,47.8 484.6,53.6 487.2,58.7 C489.9,63.8 492.8,70.2 496.5,75.9 C500.1,81.6 505.4,89.2 509.1,92.7 C512.7,96.2 515.9,96.1 518.3,96.9 C520.8,97.8 522.7,97.8 523.6,98" fill="none" stroke="#000" stroke-width="0.65"/>
<path d="M394.7,106.4 C397.1,105.3 404.9,103.2 409,100.1 C413.2,96.9 416,92 419.5,87.5 C423,83 427.2,76.3 430,73.2 C432.8,70 432.8,69.7 436.3,68.6 C439.9,67.4 446.9,67.4 451.1,66 C455.3,64.6 458.1,63.2 461.6,60.1 C465.1,57.1 468.9,50.9 472.1,48 C475.2,45 478,43.5 480.5,42.7 C482.9,41.9 484.7,42.2 486.8,43.3 C488.9,44.5 490.2,45.5 493.1,49.6 C496.1,53.7 501,61.8 504.5,67.9 C508,74.1 510.9,81.7 514.1,86.4 C517.3,91.2 522,94.7 523.6,96.3 L523.6,108.6 L394.7,108.6 Z" fill="#c10000" fill-opacity="0.5" stroke="none"/>
<path d="M394.7,106.4 C397.1,105.3 404.9,103.2 409,100.1 C413.2,96.9 416,92 419.5,87.5 C423,83 427.2,76.3 430,73.2 C432.8,70 432.8,69.7 436.3,68.6 C439.9,67.4 446.9,67.4 451.1,66 C455.3,64.6 458.1,63.2 461.6,60.1 C465.1,57.1 468.9,50.9 472.1,48 C475.2,45 478,43.5 480.5,42.7 C482.9,41.9 484.7,42.2 486.8,43.3 C488.9,44.5 490.2,45.5 493.1,49.6 C496.1,53.7 501,61.8 504.5,67.9 C508,74.1 510.9,81.7 514.1,86.4 C517.3,91.2 522,94.7 523.6,96.3" fill="none" stroke="#000" stroke-width="0.65"/>
<path d="M394.7,103.2 C396.9,101.6 404.5,94.7 408,93.4 C411.4,92.1 413.1,94.9 415.3,95.5 C417.6,96 419.2,98.5 421.6,96.5 C424.1,94.5 427.2,88.5 430,83.3 C432.8,78.1 434.9,72.2 438.5,65.4 C442,58.6 447.2,48.4 451.1,42.3 C454.9,36.1 458.4,32.1 461.6,28.6 C464.7,25.1 467.4,21.4 470,21.3 C472.6,21.1 475,23.9 477.3,27.6 C479.7,31.2 482,37.7 484.3,43.1 C486.6,48.5 489,54.5 491,60.1 C493,65.8 494.5,72.6 496.5,77 C498.4,81.3 500.5,83.3 502.6,86.4 C504.7,89.5 506.8,92.8 509.1,95.5 C511.4,98.1 513.8,100.4 516.2,102.2 C518.6,104 522.4,105.7 523.6,106.4 L523.6,108.6 L394.7,108.6 Z" fill="#7bc7e5" fill-opacity="0.5" stroke="none"/>
<path d="M394.7,103.2 C396.9,101.6 404.5,94.7 408,93.4 C411.4,92.1 413.1,94.9 415.3,95.5 C417.6,96 419.2,98.5 421.6,96.5 C424.1,94.5 427.2,88.5 430,83.3 C432.8,78.1 434.9,72.2 438.5,65.4 C442,58.6 447.2,48.4 451.1,42.3 C454.9,36.1 458.4,32.1 461.6,28.6 C464.7,25.1 467.4,21.4 470,21.3 C472.6,21.1 475,23.9 477.3,27.6 C479.7,31.2 482,37.7 484.3,43.1 C486.6,48.5 489,54.5 491,60.1 C493,65.8 494.5,72.6 496.5,77 C498.4,81.3 500.5,83.3 502.6,86.4 C504.7,89.5 506.8,92.8 509.1,95.5 C511.4,98.1 513.8,100.4 516.2,102.2 C518.6,104 522.4,105.7 523.6,106.4" fill="none" stroke="#000" stroke-width="0.65"/>
<path d="M394.7,106.8 C397.1,105.9 404.9,104.2 409,101.1 C413.2,98.1 416.7,92 419.5,88.5 C422.3,85 422.7,84.8 425.8,80.1 C429,75.4 435.1,65.9 438.5,60.1 C441.8,54.4 443.4,48.6 445.8,45.4 C448.3,42.3 449.1,41.9 453.2,41.2 C457.2,40.5 466.1,40.9 470,41.2 C473.8,41.6 474.4,42.3 476.3,43.3 C478.2,44.4 479.4,44.6 481.5,47.5 C483.6,50.5 486.4,56.5 488.9,61.2 C491.4,65.9 494.2,72 496.5,75.9 C498.7,79.9 500.5,82 502.6,85 C504.7,87.9 506.8,91.1 509.1,93.8 C511.4,96.5 513.8,99 516.2,101.1 C518.6,103.3 522.4,105.9 523.6,106.8 L523.6,108.6 L394.7,108.6 Z" fill="#f1bf31" fill-opacity="0.5" stroke="none"/>
<path d="M394.7,106.8 C397.1,105.9 404.9,104.2 409,101.1 C413.2,98.1 416.7,92 419.5,88.5 C422.3,85 422.7,84.8 425.8,80.1 C429,75.4 435.1,65.9 438.5,60.1 C441.8,54.4 443.4,48.6 445.8,45.4 C448.3,42.3 449.1,41.9 453.2,41.2 C457.2,40.5 466.1,40.9 470,41.2 C473.8,41.6 474.4,42.3 476.3,43.3 C478.2,44.4 479.4,44.6 481.5,47.5 C483.6,50.5 486.4,56.5 488.9,61.2 C491.4,65.9 494.2,72 496.5,75.9 C498.7,79.9 500.5,82 502.6,85 C504.7,87.9 506.8,91.1 509.1,93.8 C511.4,96.5 513.8,99 516.2,101.1 C518.6,103.3 522.4,105.9 523.6,106.8" fill="none" stroke="#000" stroke-width="0.65"/>
<path d="M394.7,202.5 C396.4,200.4 401.4,193.9 404.8,190.3 C408.3,186.7 411.8,182.7 415.3,180.8 C418.8,178.9 422.9,178.8 425.8,178.7 C428.8,178.6 430.9,180.4 433.2,180.2 C435.5,179.9 436.9,179.2 439.5,177.2 C442.1,175.2 445.6,171.3 449,168.2 C452.3,165.1 455.6,162.1 459.5,158.7 C463.3,155.4 468.6,149.3 472.1,148.2 C475.6,147.2 477.7,149.6 480.5,152.4 C483.3,155.2 485.8,159.8 488.9,165 C492.1,170.3 495.9,178.7 499.4,184 C502.9,189.2 505.9,192 509.9,196.6 C514,201.1 521.3,208.8 523.6,211.3 L523.6,215.5 L394.7,215.5 Z" fill="#00a983" fill-opacity="0.5" stroke="none"/>
<path d="M394.7,202.5 C396.4,200.4 401.4,193.9 404.8,190.3 C408.3,186.7 411.8,182.7 415.3,180.8 C418.8,178.9 422.9,178.8 425.8,178.7 C428.8,178.6 430.9,180.4 433.2,180.2 C435.5,179.9 436.9,179.2 439.5,177.2 C442.1,175.2 445.6,171.3 449,168.2 C452.3,165.1 455.6,162.1 459.5,158.7 C463.3,155.4 468.6,149.3 472.1,148.2 C475.6,147.2 477.7,149.6 480.5,152.4 C483.3,155.2 485.8,159.8 488.9,165 C492.1,170.3 495.9,178.7 499.4,184 C502.9,189.2 505.9,192 509.9,196.6 C514,201.1 521.3,208.8 523.6,211.3" fill="none" stroke="#000" stroke-width="0.65"/>
<path d="M394.7,208.1 C397.1,207 403.1,205.8 409,201.2 C414.9,196.6 424.4,186.1 430,180.8 C435.6,175.6 439.2,172.6 442.7,169.7 C446.2,166.8 447.9,164.7 451.1,163.4 C454.2,162.1 457.4,162.5 461.6,161.9 C465.8,161.3 471.7,160.5 476.3,159.8 C480.8,159.1 485.8,157.2 488.9,157.7 C492.1,158.2 492.9,160 495.2,162.9 C497.5,165.9 500.1,171 502.6,175.6 C505,180.1 507.3,185.7 509.9,190.3 C512.6,194.8 516.1,199.9 518.3,202.9 C520.6,205.9 522.7,207.3 523.6,208.1 L523.6,215.5 L394.7,215.5 Z" fill="#c10000" fill-opacity="0.5" stroke="none"/>
<path d="M394.7,208.1 C397.1,207 403.1,205.8 409,201.2 C414.9,196.6 424.4,186.1 430,180.8 C435.6,175.6 439.2,172.6 442.7,169.7 C446.2,166.8 447.9,164.7 451.1,163.4 C454.2,162.1 457.4,162.5 461.6,161.9 C465.8,161.3 471.7,160.5 476.3,159.8 C480.8,159.1 485.8,157.2 488.9,157.7 C492.1,158.2 492.9,160 495.2,162.9 C497.5,165.9 500.1,171 502.6,175.6 C505,180.1 507.3,185.7 509.9,190.3 C512.6,194.8 516.1,199.9 518.3,202.9 C520.6,205.9 522.7,207.3 523.6,208.1" fill="none" stroke="#000" stroke-width="0.65"/>
<path d="M394.7,209.2 C397.1,208.1 403.8,206 409,202.5 C414.2,199 421.3,193.2 425.8,188.2 C430.4,183.2 432.5,179.1 436.3,172.4 C440.2,165.7 445.1,154.2 449,148.2 C452.8,142.3 456.7,137.7 459.5,136.7 C462.3,135.6 463.7,138.2 465.8,141.9 C467.9,145.6 469.3,153.1 472.1,158.7 C474.9,164.3 478.4,171.3 482.6,175.6 C486.8,179.8 492.8,181.2 497.3,184 C501.9,186.8 505.5,188.2 509.9,192.4 C514.3,196.6 521.3,206.4 523.6,209.2 L523.6,215.5 L394.7,215.5 Z" fill="#7bc7e5" fill-opacity="0.5" stroke="none"/>
<path d="M394.7,209.2 C397.1,208.1 403.8,206 409,202.5 C414.2,199 421.3,193.2 425.8,188.2 C430.4,183.2 432.5,179.1 436.3,172.4 C440.2,165.7 445.1,154.2 449,148.2 C452.8,142.3 456.7,137.7 459.5,136.7 C462.3,135.6 463.7,138.2 465.8,141.9 C467.9,145.6 469.3,153.1 472.1,158.7 C474.9,164.3 478.4,171.3 482.6,175.6 C486.8,179.8 492.8,181.2 497.3,184 C501.9,186.8 505.5,188.2 509.9,192.4 C514.3,196.6 521.3,206.4 523.6,209.2" fill="none" stroke="#000" stroke-width="0.65"/>
<path d="M394.7,213.4 C397.1,212 403.8,208.8 409,205 C414.2,201.1 420.2,195.9 425.8,190.3 C431.4,184.7 437.4,177 442.7,171.3 C447.9,165.7 453.5,161.9 457.4,156.6 C461.2,151.4 463,144.4 465.8,139.8 C468.6,135.2 471.4,129.2 474.2,128.9 C477,128.5 480.1,133.1 482.6,137.7 C485,142.3 486.5,148.9 488.9,156.6 C491.4,164.3 494.5,176.3 497.3,184 C500.1,191.7 502.9,198.3 505.7,202.9 C508.5,207.4 511.2,209.4 514.1,211.3 C517.1,213.2 522,213.9 523.6,214.4 L523.6,215.5 L394.7,215.5 Z" fill="#f1bf31" fill-opacity="0.5" stroke="none"/>
<path d="M394.7,213.4 C397.1,212 403.8,208.8 409,205 C414.2,201.1 420.2,195.9 425.8,190.3 C431.4,184.7 437.4,177 442.7,171.3 C447.9,165.7 453.5,161.9 457.4,156.6 C461.2,151.4 463,144.4 465.8,139.8 C468.6,135.2 471.4,129.2 474.2,128.9 C477,128.5 480.1,133.1 482.6,137.7 C485,142.3 486.5,148.9 488.9,156.6 C491.4,164.3 494.5,176.3 497.3,184 C500.1,191.7 502.9,198.3 505.7,202.9 C508.5,207.4 511.2,209.4 514.1,211.3 C517.1,213.2 522,213.9 523.6,214.4" fill="none" stroke="#000" stroke-width="0.65"/>
<path d="M553.8,91.9 C554.6,88.9 557.1,80.8 558.6,73.7 C560.2,66.6 561.7,57 563.2,49.4 C564.7,41.8 566,32.8 567.7,28.1 C569.5,23.5 571.8,21.6 573.8,21.3 C575.8,21.1 578.1,23.7 579.9,26.6 C581.7,29.5 582.9,35 584.4,38.8 C586,42.6 587.5,46.4 589,49.4 C590.5,52.4 591.8,54.2 593.5,57 C595.3,59.8 597.6,62.8 599.6,66.1 C601.6,69.4 603.7,72.7 605.7,76.7 C607.7,80.8 609.7,86.3 611.8,90.4 C613.8,94.4 616.3,98.9 617.8,101 C619.4,103.2 619.6,103.3 620.9,103.3 C622.1,103.3 623.7,102 625.4,101 C627.2,100 629.2,97.1 631.5,97.2 C633.8,97.3 636.6,100.3 639.1,101.8 C641.6,103.3 645.4,105.6 646.7,106.3 L646.7,108.5 L553.8,108.5 Z" fill="#7bc7e5" fill-opacity="0.5" stroke="none"/>
<path d="M553.8,91.9 C554.6,88.9 557.1,80.8 558.6,73.7 C560.2,66.6 561.7,57 563.2,49.4 C564.7,41.8 566,32.8 567.7,28.1 C569.5,23.5 571.8,21.6 573.8,21.3 C575.8,21.1 578.1,23.7 579.9,26.6 C581.7,29.5 582.9,35 584.4,38.8 C586,42.6 587.5,46.4 589,49.4 C590.5,52.4 591.8,54.2 593.5,57 C595.3,59.8 597.6,62.8 599.6,66.1 C601.6,69.4 603.7,72.7 605.7,76.7 C607.7,80.8 609.7,86.3 611.8,90.4 C613.8,94.4 616.3,98.9 617.8,101 C619.4,103.2 619.6,103.3 620.9,103.3 C622.1,103.3 623.7,102 625.4,101 C627.2,100 629.2,97.1 631.5,97.2 C633.8,97.3 636.6,100.3 639.1,101.8 C641.6,103.3 645.4,105.6 646.7,106.3" fill="none" stroke="#000" stroke-width="0.65"/>
<path d="M553.8,94.9 C555.3,92.7 560.3,86.1 563.2,81.3 C566,76.5 568.2,71.7 570.8,66.1 C573.3,60.5 575.8,52.3 578.4,47.9 C580.9,43.5 583.7,40 586,39.5 C588.2,39 589.7,42.3 592,44.8 C594.3,47.4 597.3,52.2 599.6,54.7 C601.9,57.2 603.7,58.3 605.7,60 C607.7,61.8 609.7,62.8 611.8,65.3 C613.8,67.9 615.8,71.5 617.8,75.2 C619.9,78.9 621.9,83.9 623.9,87.4 C625.9,90.8 628.2,93.8 630,95.7 C631.8,97.6 632.8,97.6 634.5,98.7 C636.3,99.9 638.6,101.3 640.6,102.5 C642.6,103.8 645.7,105.7 646.7,106.3 L646.7,108.5 L553.8,108.5 Z" fill="#f1bf31" fill-opacity="0.5" stroke="none"/>
<path d="M553.8,94.9 C555.3,92.7 560.3,86.1 563.2,81.3 C566,76.5 568.2,71.7 570.8,66.1 C573.3,60.5 575.8,52.3 578.4,47.9 C580.9,43.5 583.7,40 586,39.5 C588.2,39 589.7,42.3 592,44.8 C594.3,47.4 597.3,52.2 599.6,54.7 C601.9,57.2 603.7,58.3 605.7,60 C607.7,61.8 609.7,62.8 611.8,65.3 C613.8,67.9 615.8,71.5 617.8,75.2 C619.9,78.9 621.9,83.9 623.9,87.4 C625.9,90.8 628.2,93.8 630,95.7 C631.8,97.6 632.8,97.6 634.5,98.7 C636.3,99.9 638.6,101.3 640.6,102.5 C642.6,103.8 645.7,105.7 646.7,106.3" fill="none" stroke="#000" stroke-width="0.65"/>
<path d="M553.3,204.2 C554.5,202.6 557.9,198 560.1,194.4 C562.4,190.7 565.2,187.8 567,182.2 C568.7,176.6 569.4,168.5 570.8,161 C572.2,153.4 573.9,142.1 575.3,136.7 C576.7,131.2 577.7,128.3 579.1,128.3 C580.5,128.3 582.3,132.7 583.7,136.7 C585.1,140.6 586.2,148.2 587.5,151.8 C588.7,155.5 590,157.4 591.3,158.7 C592.5,159.9 593.8,158.3 595.1,159.4 C596.3,160.6 597.6,162.2 598.9,165.5 C600.1,168.8 601.4,174.9 602.7,179.2 C603.9,183.5 604.9,187.3 606.4,191.3 C608,195.4 609.6,200.4 611.8,203.5 C613.9,206.5 616.6,208 619.4,209.5 C622.1,211.1 625.7,211.7 628.5,212.6 C631.2,213.5 633.8,214.6 636.1,214.8 C638.3,215.1 640.4,214.5 642.1,214.1 C643.9,213.7 645.9,212.8 646.7,212.6 L646.7,215.4 L553.3,215.4 Z" fill="#7bc7e5" fill-opacity="0.5" stroke="none"/>
<path d="M553.3,204.2 C554.5,202.6 557.9,198 560.1,194.4 C562.4,190.7 565.2,187.8 567,182.2 C568.7,176.6 569.4,168.5 570.8,161 C572.2,153.4 573.9,142.1 575.3,136.7 C576.7,131.2 577.7,128.3 579.1,128.3 C580.5,128.3 582.3,132.7 583.7,136.7 C585.1,140.6 586.2,148.2 587.5,151.8 C588.7,155.5 590,157.4 591.3,158.7 C592.5,159.9 593.8,158.3 595.1,159.4 C596.3,160.6 597.6,162.2 598.9,165.5 C600.1,168.8 601.4,174.9 602.7,179.2 C603.9,183.5 604.9,187.3 606.4,191.3 C608,195.4 609.6,200.4 611.8,203.5 C613.9,206.5 616.6,208 619.4,209.5 C622.1,211.1 625.7,211.7 628.5,212.6 C631.2,213.5 633.8,214.6 636.1,214.8 C638.3,215.1 640.4,214.5 642.1,214.1 C643.9,213.7 645.9,212.8 646.7,212.6" fill="none" stroke="#000" stroke-width="0.65"/>
<path d="M553.3,207.3 C554.5,206.4 558.2,204.3 560.1,201.9 C562,199.5 563.6,196 564.7,192.8 C565.8,189.7 565.5,186.3 567,183 C568.5,179.7 570.9,175.8 573.8,173.1 C576.7,170.4 581.1,167 584.4,166.7 C587.7,166.5 590.5,169.4 593.5,171.6 C596.6,173.8 599.4,177.1 602.7,179.9 C605.9,182.7 609.5,185.9 613.3,188.3 C617.1,190.7 621.6,191.8 625.4,194.4 C629.2,196.9 632.5,200.4 636.1,203.5 C639.6,206.5 644.9,211.1 646.7,212.6 L646.7,215.4 L553.3,215.4 Z" fill="#f1bf31" fill-opacity="0.5" stroke="none"/>
<path d="M553.3,207.3 C554.5,206.4 558.2,204.3 560.1,201.9 C562,199.5 563.6,196 564.7,192.8 C565.8,189.7 565.5,186.3 567,183 C568.5,179.7 570.9,175.8 573.8,173.1 C576.7,170.4 581.1,167 584.4,166.7 C587.7,166.5 590.5,169.4 593.5,171.6 C596.6,173.8 599.4,177.1 602.7,179.9 C605.9,182.7 609.5,185.9 613.3,188.3 C617.1,190.7 621.6,191.8 625.4,194.4 C629.2,196.9 632.5,200.4 636.1,203.5 C639.6,206.5 644.9,211.1 646.7,212.6" fill="none" stroke="#000" stroke-width="0.65"/>
<text x="386.6" y="23.8" font-size="6" text-anchor="end" fill="#4d4d4d">0.006</text>
<text x="386.6" y="52.8" font-size="6" text-anchor="end" fill="#4d4d4d">0.004</text>
<text x="386.6" y="81.8" font-size="6" text-anchor="end" fill="#4d4d4d">0.002</text>
<text x="386.6" y="110.6" font-size="6" text-anchor="end" fill="#4d4d4d">0.000</text>
<text x="386.6" y="156.2" font-size="6" text-anchor="end" fill="#4d4d4d">0.004</text>
<text x="386.6" y="187.2" font-size="6" text-anchor="end" fill="#4d4d4d">0.002</text>
<text x="386.6" y="217.8" font-size="6" text-anchor="end" fill="#4d4d4d">0.000</text>
<text x="546.8" y="30.7" font-size="6" text-anchor="end" fill="#4d4d4d">0.06</text>
<text x="546.8" y="57.4" font-size="6" text-anchor="end" fill="#4d4d4d">0.04</text>
<text x="546.8" y="84.2" font-size="6" text-anchor="end" fill="#4d4d4d">0.02</text>
<text x="546.8" y="110.8" font-size="6" text-anchor="end" fill="#4d4d4d">0.00</text>
<text x="546.8" y="131.8" font-size="6" text-anchor="end" fill="#4d4d4d">0.08</text>
<text x="546.8" y="153.6" font-size="6" text-anchor="end" fill="#4d4d4d">0.06</text>
<text x="546.8" y="175.2" font-size="6" text-anchor="end" fill="#4d4d4d">0.04</text>
<text x="546.8" y="196.6" font-size="6" text-anchor="end" fill="#4d4d4d">0.02</text>
<text x="546.8" y="218.2" font-size="6" text-anchor="end" fill="#4d4d4d">0.00</text>
<text x="407" y="119.8" font-size="6" text-anchor="middle" fill="#4d4d4d">100</text>
<text x="439.6" y="119.8" font-size="6" text-anchor="middle" fill="#4d4d4d">200</text>
<text x="472" y="119.8" font-size="6" text-anchor="middle" fill="#4d4d4d">300</text>
<text x="504.4" y="119.8" font-size="6" text-anchor="middle" fill="#4d4d4d">400</text>
<text x="575.6" y="119.8" font-size="6" text-anchor="middle" fill="#4d4d4d">10</text>
<text x="601.8" y="119.8" font-size="6" text-anchor="middle" fill="#4d4d4d">20</text>
<text x="628.5" y="119.8" font-size="6" text-anchor="middle" fill="#4d4d4d">30</text>
<text x="407" y="227.6" font-size="6" text-anchor="middle" fill="#4d4d4d">100</text>
<text x="439.6" y="227.6" font-size="6" text-anchor="middle" fill="#4d4d4d">200</text>
<text x="472" y="227.6" font-size="6" text-anchor="middle" fill="#4d4d4d">300</text>
<text x="504.4" y="227.6" font-size="6" text-anchor="middle" fill="#4d4d4d">400</text>
<text x="575.6" y="227.6" font-size="6" text-anchor="middle" fill="#4d4d4d">10</text>
<text x="601.8" y="227.6" font-size="6" text-anchor="middle" fill="#4d4d4d">20</text>
<text x="628.5" y="227.6" font-size="6" text-anchor="middle" fill="#4d4d4d">30</text>
<text x="458.7" y="236.6" font-size="6.6" text-anchor="middle" fill="#000">Number of species</text>
<text x="601.3" y="236.6" font-size="6.6" text-anchor="middle" fill="#000">Number of species</text>
<text transform="translate(359.6,64.5) rotate(-90)" x="0" y="2.6" font-size="7.8" text-anchor="middle" fill="#000">Intervention group</text>
<text transform="translate(367.6,65) rotate(-90)" x="0" y="2.2" font-size="6.6" text-anchor="middle" fill="#000">Density</text>
<text transform="translate(359.6,167) rotate(-90)" x="0" y="2.6" font-size="7.8" text-anchor="middle" fill="#000">Control group</text>
<text transform="translate(367.6,172) rotate(-90)" x="0" y="2.2" font-size="6.6" text-anchor="middle" fill="#000">Density</text>
<text x="656.5" y="165.6" font-size="6.6" text-anchor="start" fill="#000">Timepoint</text>
<rect x="656.6" y="170.8" width="9.4" height="9.2" fill="#7fd4c1" stroke="#1a1a1a" stroke-width="0.8"/>
<text x="669.6" y="177.4" font-size="5.5" text-anchor="start" fill="#1a1a1a">Tri2</text>
<rect x="656.6" y="180.8" width="9.4" height="9.2" fill="#e07b7b" stroke="#1a1a1a" stroke-width="0.8"/>
<text x="669.6" y="187.4" font-size="5.5" text-anchor="start" fill="#1a1a1a">Tri3</text>
<rect x="656.6" y="190.9" width="9.4" height="9.2" fill="#bde3f2" stroke="#1a1a1a" stroke-width="0.8"/>
<text x="669.6" y="197.4" font-size="5.5" text-anchor="start" fill="#1a1a1a">Pn12</text>
<rect x="656.6" y="200.9" width="9.4" height="9.2" fill="#f8df98" stroke="#1a1a1a" stroke-width="0.8"/>
<text x="669.6" y="207.5" font-size="5.5" text-anchor="start" fill="#1a1a1a">Pn56</text>
<text x="2.3" y="261.4" font-size="11.5" fill="#1a1a1a">C</text>
<rect x="26" y="252.4" width="155.6" height="13" fill="#d9d9d9" stroke="#4a4a4a" stroke-width="0.8"/>
<text x="103.8" y="261.7" font-size="8" text-anchor="middle" fill="#1a1a1a">Mother</text>
<rect x="186.4" y="252.4" width="79.2" height="13" fill="#d9d9d9" stroke="#4a4a4a" stroke-width="0.8"/>
<text x="226" y="261.7" font-size="8" text-anchor="middle" fill="#1a1a1a">Infant</text>
<line x1="26" y1="412.1" x2="181.4" y2="412.1" stroke="#f2f2f2" stroke-width="0.5"/>
<line x1="26" y1="349.1" x2="181.4" y2="349.1" stroke="#f2f2f2" stroke-width="0.5"/>
<line x1="26" y1="286.1" x2="181.4" y2="286.1" stroke="#f2f2f2" stroke-width="0.5"/>
<line x1="26" y1="443.6" x2="181.4" y2="443.6" stroke="#e6e6e6" stroke-width="0.6"/>
<line x1="26" y1="380.6" x2="181.4" y2="380.6" stroke="#e6e6e6" stroke-width="0.6"/>
<line x1="26" y1="317.6" x2="181.4" y2="317.6" stroke="#e6e6e6" stroke-width="0.6"/>
<line x1="37.4" y1="265.4" x2="37.4" y2="450" stroke="#e6e6e6" stroke-width="0.6"/>
<line x1="56.5" y1="265.4" x2="56.5" y2="450" stroke="#e6e6e6" stroke-width="0.6"/>
<line x1="75.5" y1="265.4" x2="75.5" y2="450" stroke="#e6e6e6" stroke-width="0.6"/>
<line x1="94.6" y1="265.4" x2="94.6" y2="450" stroke="#e6e6e6" stroke-width="0.6"/>
<line x1="113.6" y1="265.4" x2="113.6" y2="450" stroke="#e6e6e6" stroke-width="0.6"/>
<line x1="132.7" y1="265.4" x2="132.7" y2="450" stroke="#e6e6e6" stroke-width="0.6"/>
<line x1="151.7" y1="265.4" x2="151.7" y2="450" stroke="#e6e6e6" stroke-width="0.6"/>
<line x1="170.8" y1="265.4" x2="170.8" y2="450" stroke="#e6e6e6" stroke-width="0.6"/>
<g fill="none" stroke="#3f83c2" stroke-opacity="0.47" stroke-width="0.65"><path d="M33.7,307.8l1.9,1.9l-1.9,1.9l-1.9,-1.9Z"/><path d="M36.1,311.7l1.9,1.9l-1.9,1.9l-1.9,-1.9Z"/><path d="M42.9,276.5l1.9,1.9l-1.9,1.9l-1.9,-1.9Z"/><path d="M36.3,277.1l1.9,1.9l-1.9,1.9l-1.9,-1.9Z"/><path d="M40.2,300.7l1.9,1.9l-1.9,1.9l-1.9,-1.9Z"/><path d="M30.3,280l1.9,1.9l-1.9,1.9l-1.9,-1.9Z"/><path d="M31.2,308l1.9,1.9l-1.9,1.9l-1.9,-1.9Z"/><path d="M41.2,294.7l1.9,1.9l-1.9,1.9l-1.9,-1.9Z"/><path d="M34,300.1l1.9,1.9l-1.9,1.9l-1.9,-1.9Z"/><path d="M39,284l1.9,1.9l-1.9,1.9l-1.9,-1.9Z"/><path d="M31,289l1.9,1.9l-1.9,1.9l-1.9,-1.9Z"/><path d="M30.5,312.1l1.9,1.9l-1.9,1.9l-1.9,-1.9Z"/><path d="M32.9,285.5l1.9,1.9l-1.9,1.9l-1.9,-1.9Z"/><path d="M34.7,305.2l1.9,1.9l-1.9,1.9l-1.9,-1.9Z"/><path d="M32.6,292.2l1.9,1.9l-1.9,1.9l-1.9,-1.9Z"/><path d="M37.8,304l1.9,1.9l-1.9,1.9l-1.9,-1.9Z"/><path d="M40.6,297l1.9,1.9l-1.9,1.9l-1.9,-1.9Z"/><path d="M31.8,319.3l1.9,1.9l-1.9,1.9l-1.9,-1.9Z"/><path d="M36.3,292.2l1.9,1.9l-1.9,1.9l-1.9,-1.9Z"/><path d="M35.7,325.1l1.9,1.9l-1.9,1.9l-1.9,-1.9Z"/><path d="M31.5,287.1l1.9,1.9l-1.9,1.9l-1.9,-1.9Z"/><path d="M36.6,282.6l1.9,1.9l-1.9,1.9l-1.9,-1.9Z"/></g>
<line x1="37.4" y1="275" x2="37.4" y2="292.4" stroke="#3f83c2" stroke-width="1.1"/>
<line x1="37.4" y1="313" x2="37.4" y2="331.4" stroke="#3f83c2" stroke-width="1.1"/>
<rect x="30.4" y="292.4" width="14" height="20.6" fill="none" stroke="#3f83c2" stroke-width="1.1"/>
<line x1="30.4" y1="302" x2="44.4" y2="302" stroke="#3f83c2" stroke-width="2"/>
<g fill="none" stroke="#9b1616" stroke-opacity="0.47" stroke-width="0.65"><path d="M56.1,313.2l1.9,1.9l-1.9,1.9l-1.9,-1.9Z"/><path d="M55.1,287.4l1.9,1.9l-1.9,1.9l-1.9,-1.9Z"/><path d="M60.9,305.5l1.9,1.9l-1.9,1.9l-1.9,-1.9Z"/><path d="M50.2,298l1.9,1.9l-1.9,1.9l-1.9,-1.9Z"/><path d="M63,283.4l1.9,1.9l-1.9,1.9l-1.9,-1.9Z"/><path d="M59.2,313.4l1.9,1.9l-1.9,1.9l-1.9,-1.9Z"/><path d="M57.9,288.7l1.9,1.9l-1.9,1.9l-1.9,-1.9Z"/><path d="M61.2,321.2l1.9,1.9l-1.9,1.9l-1.9,-1.9Z"/><path d="M56,312.6l1.9,1.9l-1.9,1.9l-1.9,-1.9Z"/><path d="M61,329.3l1.9,1.9l-1.9,1.9l-1.9,-1.9Z"/><path d="M49.4,306.4l1.9,1.9l-1.9,1.9l-1.9,-1.9Z"/><path d="M58,280.6l1.9,1.9l-1.9,1.9l-1.9,-1.9Z"/><path d="M54.5,301.5l1.9,1.9l-1.9,1.9l-1.9,-1.9Z"/><path d="M60.1,281.5l1.9,1.9l-1.9,1.9l-1.9,-1.9Z"/><path d="M49.8,294.4l1.9,1.9l-1.9,1.9l-1.9,-1.9Z"/><path d="M62,292.3l1.9,1.9l-1.9,1.9l-1.9,-1.9Z"/><path d="M55.4,280.3l1.9,1.9l-1.9,1.9l-1.9,-1.9Z"/><path d="M55.3,284.6l1.9,1.9l-1.9,1.9l-1.9,-1.9Z"/><path d="M61.5,327.7l1.9,1.9l-1.9,1.9l-1.9,-1.9Z"/><path d="M53.5,290.3l1.9,1.9l-1.9,1.9l-1.9,-1.9Z"/></g>
<line x1="56.5" y1="280.6" x2="56.5" y2="294.4" stroke="#9b1616" stroke-width="1.1"/>
<line x1="56.5" y1="322.4" x2="56.5" y2="332" stroke="#9b1616" stroke-width="1.1"/>
<rect x="49.4" y="294.4" width="14.2" height="28" fill="none" stroke="#9b1616" stroke-width="1.1"/>
<line x1="49.4" y1="305.6" x2="63.6" y2="305.6" stroke="#9b1616" stroke-width="2"/>
<g fill="none" stroke="#3f83c2" stroke-opacity="0.47" stroke-width="0.7"><path d="M69.2,286.3h4M71.2,284.3v4"/><path d="M68.5,295h4M70.6,293v4"/><path d="M72,321h4M74.1,319v4"/><path d="M75.7,279.5h4M77.8,277.5v4"/><path d="M78.4,277.1h4M80.5,275.1v4"/><path d="M68.1,280.4h4M70.1,278.4v4"/><path d="M74.7,310.5h4M76.7,308.5v4"/><path d="M75,340.4h4M77,338.4v4"/><path d="M75.5,311.3h4M77.5,309.3v4"/><path d="M71.2,277h4M73.2,275v4"/><path d="M66.9,311.1h4M68.9,309.1v4"/><path d="M78.1,335.9h4M80.1,333.9v4"/><path d="M75.3,297.7h4M77.3,295.7v4"/><path d="M73.5,290.5h4M75.5,288.5v4"/><path d="M77.8,298.5h4M79.8,296.5v4"/><path d="M75.7,283.6h4M77.8,281.6v4"/><path d="M80.6,295.6h4M82.6,293.6v4"/><path d="M77.1,277.2h4M79.1,275.2v4"/><path d="M77.4,276.7h4M79.4,274.7v4"/><path d="M72.2,323h4M74.2,321v4"/><path d="M78.1,279.1h4M80.2,277.1v4"/><path d="M73,308.6h4M75,306.6v4"/><path d="M74.3,290.1h4M76.3,288.1v4"/><path d="M75.3,313.8h4M77.3,311.8v4"/><path d="M68.4,300.5h4M70.5,298.5v4"/><path d="M79.7,300.9h4M81.7,298.9v4"/><path d="M77.9,300.2h4M79.9,298.2v4"/><path d="M80.4,277.7h4M82.4,275.7v4"/><path d="M79.7,290.9h4M81.7,288.9v4"/><path d="M75.3,309.1h4M77.3,307v4"/><path d="M69.5,287h4M71.5,284.9v4"/><path d="M78.3,307.8h4M80.3,305.8v4"/><path d="M72.1,294.4h4M74.1,292.4v4"/><path d="M69.9,278.1h4M71.9,276.1v4"/><path d="M74.4,312.3h4M76.4,310.3v4"/><path d="M68,287.6h4M70,285.6v4"/><path d="M70.7,330.2h4M72.8,328.1v4"/><path d="M72.5,302.2h4M74.5,300.2v4"/><path d="M66.7,282.3h4M68.7,280.3v4"/><path d="M77.3,279.6h4M79.3,277.6v4"/><path d="M73.1,278.9h4M75.2,276.9v4"/><path d="M72.5,292.5h4M74.6,290.5v4"/><path d="M73.7,299.2h4M75.7,297.2v4"/><path d="M67.5,303.4h4M69.5,301.3v4"/><path d="M67.1,326.6h4M69.1,324.6v4"/><path d="M68.3,289.1h4M70.3,287.1v4"/><path d="M78.1,333.4h4M80.1,331.3v4"/><path d="M73.4,310.7h4M75.4,308.7v4"/><path d="M67.3,282h4M69.3,280v4"/><path d="M68.6,305.9h4M70.6,303.9v4"/><path d="M68.4,287.3h4M70.4,285.3v4"/><path d="M70.1,317.4h4M72.1,315.4v4"/><path d="M69,277h4M71,275v4"/><path d="M76.1,309.7h4M78.1,307.7v4"/><path d="M68,286.9h4M70,284.9v4"/><path d="M78.9,322h4M80.9,320v4"/><path d="M67.8,337.9h4M69.9,335.9v4"/><path d="M70.1,336.7h4M72.2,334.6v4"/><path d="M72.7,280h4M74.7,277.9v4"/><path d="M67,305.6h4M69,303.6v4"/><path d="M80.5,285h4M82.5,283v4"/><path d="M66.4,320.6h4M68.4,318.6v4"/><path d="M75.2,293h4M77.2,291v4"/><path d="M79.2,300.7h4M81.2,298.7v4"/><path d="M75.7,294.6h4M77.8,292.6v4"/><path d="M71.4,289.9h4M73.5,287.8v4"/><path d="M69.6,297.4h4M71.6,295.4v4"/><path d="M75.3,317.3h4M77.3,315.3v4"/><path d="M79.8,292.7h4M81.8,290.7v4"/><path d="M67.7,293h4M69.7,291v4"/><path d="M72.1,334.9h4M74.1,332.9v4"/></g>
<line x1="75.6" y1="276.5" x2="75.6" y2="289.8" stroke="#3f83c2" stroke-width="1.1"/>
<line x1="75.6" y1="311.1" x2="75.6" y2="341.5" stroke="#3f83c2" stroke-width="1.1"/>
<rect x="68.4" y="289.8" width="14.3" height="21.3" fill="none" stroke="#3f83c2" stroke-width="1.1"/>
<line x1="68.4" y1="298.5" x2="82.7" y2="298.5" stroke="#3f83c2" stroke-width="2"/>
<g fill="none" stroke="#9b1616" stroke-opacity="0.47" stroke-width="0.7"><path d="M94.6,289.7h4M96.6,287.7v4"/><path d="M91.7,284.7h4M93.7,282.7v4"/><path d="M85.9,280.5h4M87.9,278.5v4"/><path d="M86.1,279.3h4M88.1,277.2v4"/><path d="M98.8,283.4h4M100.8,281.4v4"/><path d="M94,294.6h4M96.1,292.6v4"/><path d="M87.8,337.5h4M89.8,335.5v4"/><path d="M86,297.2h4M88,295.2v4"/><path d="M85.4,334.8h4M87.4,332.8v4"/><path d="M96,328h4M98,326v4"/><path d="M86.8,295.3h4M88.8,293.2v4"/><path d="M90.1,290.4h4M92.1,288.4v4"/><path d="M95.5,338.4h4M97.5,336.4v4"/><path d="M91.6,303.7h4M93.6,301.7v4"/><path d="M94.5,322.5h4M96.5,320.5v4"/><path d="M87.7,277.4h4M89.7,275.4v4"/><path d="M87.6,320.8h4M89.6,318.8v4"/><path d="M93.9,281.3h4M96,279.3v4"/><path d="M98.6,311.5h4M100.6,309.4v4"/><path d="M97.4,338.9h4M99.4,336.9v4"/><path d="M95.7,327.2h4M97.7,325.2v4"/><path d="M94.3,278.9h4M96.3,276.9v4"/><path d="M87.4,313h4M89.4,311v4"/><path d="M98.7,292.2h4M100.7,290.1v4"/><path d="M85.7,293.1h4M87.7,291.1v4"/><path d="M94.4,307.3h4M96.4,305.3v4"/><path d="M93.8,317.1h4M95.8,315.1v4"/><path d="M97.1,310.6h4M99.1,308.6v4"/><path d="M98.5,287.6h4M100.5,285.6v4"/><path d="M85.8,276.7h4M87.8,274.7v4"/><path d="M97.2,281.6h4M99.2,279.6v4"/><path d="M86.7,277.4h4M88.7,275.4v4"/><path d="M91.4,280.3h4M93.4,278.3v4"/><path d="M89.4,296h4M91.4,294v4"/><path d="M99.2,280.4h4M101.2,278.4v4"/><path d="M85.7,332.2h4M87.7,330.2v4"/><path d="M96.4,300.7h4M98.4,298.7v4"/><path d="M93,307.7h4M95,305.6v4"/><path d="M86.6,311.7h4M88.6,309.7v4"/><path d="M88.2,276.1h4M90.2,274.1v4"/><path d="M92.4,315.4h4M94.4,313.4v4"/><path d="M87.9,310h4M90,308v4"/><path d="M97.3,298.4h4M99.3,296.4v4"/><path d="M89.4,313.8h4M91.4,311.8v4"/><path d="M92.5,307.5h4M94.5,305.5v4"/><path d="M86.4,305.9h4M88.5,303.9v4"/><path d="M94.3,336.8h4M96.3,334.8v4"/><path d="M91,299.8h4M93,297.8v4"/><path d="M85.6,287.9h4M87.7,285.9v4"/><path d="M98.3,296.2h4M100.3,294.2v4"/><path d="M88.6,287.9h4M90.7,285.8v4"/><path d="M96.1,303.2h4M98.2,301.2v4"/><path d="M90,324.8h4M92,322.8v4"/><path d="M94.8,311.2h4M96.8,309.2v4"/><path d="M96.4,281.9h4M98.4,279.9v4"/><path d="M98,282.2h4M100,280.2v4"/><path d="M89.6,294.4h4M91.6,292.3v4"/><path d="M87.5,319.5h4M89.5,317.5v4"/><path d="M92.8,297.9h4M94.8,295.8v4"/><path d="M88,297.9h4M90,295.9v4"/><path d="M88.1,280.5h4M90.1,278.5v4"/><path d="M89.6,293.2h4M91.7,291.2v4"/><path d="M86.9,296.5h4M88.9,294.5v4"/><path d="M92,287.9h4M94,285.9v4"/><path d="M91.6,311.5h4M93.6,309.5v4"/><path d="M89.6,314.8h4M91.6,312.8v4"/><path d="M95.9,296.1h4M97.9,294v4"/><path d="M97.6,295.7h4M99.6,293.7v4"/><path d="M97.5,333h4M99.5,331v4"/><path d="M94.5,339.3h4M96.5,337.2v4"/><path d="M87.1,278.5h4M89.1,276.5v4"/><path d="M95.4,296.1h4M97.4,294.1v4"/><path d="M95.5,281.4h4M97.6,279.4v4"/><path d="M92.2,311.4h4M94.3,309.4v4"/><path d="M92.7,311.6h4M94.8,309.6v4"/><path d="M90,339.7h4M92,337.7v4"/><path d="M98.4,310.9h4M100.4,308.9v4"/><path d="M88.4,295.9h4M90.4,293.9v4"/></g>
<line x1="94.5" y1="276.1" x2="94.5" y2="289.4" stroke="#9b1616" stroke-width="1.1"/>
<line x1="94.5" y1="315.3" x2="94.5" y2="342.6" stroke="#9b1616" stroke-width="1.1"/>
<rect x="87.3" y="289.4" width="14.4" height="25.9" fill="none" stroke="#9b1616" stroke-width="1.1"/>
<line x1="87.3" y1="303.8" x2="101.7" y2="303.8" stroke="#9b1616" stroke-width="2"/>
<g fill="#3f83c2" fill-opacity="0.47"><circle cx="111.2" cy="317" r="1.3"/><circle cx="113.1" cy="286.9" r="1.3"/><circle cx="111.5" cy="308.4" r="1.3"/><circle cx="112.8" cy="307.5" r="1.3"/><circle cx="116.7" cy="286.1" r="1.3"/><circle cx="111.7" cy="318.3" r="1.3"/><circle cx="119.4" cy="295.6" r="1.3"/><circle cx="107.8" cy="326.4" r="1.3"/><circle cx="119.9" cy="301.4" r="1.3"/><circle cx="109.3" cy="336.4" r="1.3"/><circle cx="117.9" cy="308.1" r="1.3"/><circle cx="109.5" cy="290.2" r="1.3"/><circle cx="112.9" cy="333.8" r="1.3"/><circle cx="108" cy="304.1" r="1.3"/><circle cx="110.1" cy="292.9" r="1.3"/><circle cx="112.3" cy="298.8" r="1.3"/><circle cx="116.6" cy="294.3" r="1.3"/><circle cx="110.5" cy="298.7" r="1.3"/><circle cx="115.4" cy="301.9" r="1.3"/><circle cx="118.5" cy="293.6" r="1.3"/><circle cx="119.2" cy="309" r="1.3"/><circle cx="115.3" cy="292.7" r="1.3"/><circle cx="119.9" cy="294.5" r="1.3"/><circle cx="108.3" cy="285.9" r="1.3"/><circle cx="111.2" cy="308.1" r="1.3"/><circle cx="117.6" cy="310.4" r="1.3"/><circle cx="115" cy="310.2" r="1.3"/><circle cx="117.5" cy="334.1" r="1.3"/><circle cx="113.8" cy="291.4" r="1.3"/><circle cx="114.2" cy="293.2" r="1.3"/><circle cx="108.2" cy="298.5" r="1.3"/><circle cx="112.9" cy="295.3" r="1.3"/><circle cx="113.4" cy="303" r="1.3"/><circle cx="118.3" cy="312.3" r="1.3"/><circle cx="115.8" cy="304.3" r="1.3"/><circle cx="120" cy="288.9" r="1.3"/><circle cx="115.4" cy="305.6" r="1.3"/><circle cx="116" cy="305.2" r="1.3"/><circle cx="113.2" cy="336.6" r="1.3"/><circle cx="115.2" cy="291.7" r="1.3"/><circle cx="111.5" cy="309.6" r="1.3"/><circle cx="117.3" cy="303.7" r="1.3"/><circle cx="112.3" cy="302" r="1.3"/><circle cx="118.1" cy="319.3" r="1.3"/><circle cx="110.1" cy="303.3" r="1.3"/><circle cx="117.6" cy="328.2" r="1.3"/><circle cx="110.5" cy="299.9" r="1.3"/><circle cx="106.8" cy="331.4" r="1.3"/><circle cx="106.9" cy="325.5" r="1.3"/><circle cx="108.9" cy="294.4" r="1.3"/><circle cx="117.6" cy="328.3" r="1.3"/><circle cx="115.2" cy="327.3" r="1.3"/><circle cx="109.3" cy="328.9" r="1.3"/><circle cx="107.7" cy="292.1" r="1.3"/><circle cx="117.4" cy="295" r="1.3"/><circle cx="118" cy="321.2" r="1.3"/><circle cx="110.5" cy="318.4" r="1.3"/><circle cx="112.4" cy="300" r="1.3"/><circle cx="114.4" cy="313.4" r="1.3"/><circle cx="117.9" cy="296.4" r="1.3"/><circle cx="106.4" cy="323.1" r="1.3"/><circle cx="119.7" cy="304.8" r="1.3"/><circle cx="107.4" cy="287.9" r="1.3"/><circle cx="115.2" cy="310.2" r="1.3"/><circle cx="115.8" cy="294.5" r="1.3"/><circle cx="108.1" cy="290.2" r="1.3"/></g>
<line x1="113.4" y1="285" x2="113.4" y2="294.3" stroke="#3f83c2" stroke-width="1.1"/>
<line x1="113.4" y1="312.1" x2="113.4" y2="336.7" stroke="#3f83c2" stroke-width="1.1"/>
<rect x="106.2" y="294.3" width="14.4" height="17.8" fill="none" stroke="#3f83c2" stroke-width="1.1"/>
<line x1="106.2" y1="302" x2="120.6" y2="302" stroke="#3f83c2" stroke-width="2"/>
<g fill="#9b1616" fill-opacity="0.47"><circle cx="128.6" cy="308.4" r="1.3"/><circle cx="136.2" cy="277.6" r="1.3"/><circle cx="126.3" cy="336" r="1.3"/><circle cx="138.5" cy="328" r="1.3"/><circle cx="135.4" cy="313.5" r="1.3"/><circle cx="134.5" cy="293.5" r="1.3"/><circle cx="135.6" cy="281.9" r="1.3"/><circle cx="132.1" cy="311.4" r="1.3"/><circle cx="133.4" cy="301" r="1.3"/><circle cx="127.2" cy="307.5" r="1.3"/><circle cx="134.2" cy="287.4" r="1.3"/><circle cx="136.4" cy="301.3" r="1.3"/><circle cx="129.1" cy="340.5" r="1.3"/><circle cx="133.7" cy="338.1" r="1.3"/><circle cx="127.3" cy="314.8" r="1.3"/><circle cx="128.6" cy="343.3" r="1.3"/><circle cx="136.2" cy="301.1" r="1.3"/><circle cx="135" cy="302.7" r="1.3"/><circle cx="127.4" cy="298.9" r="1.3"/><circle cx="129.3" cy="337.6" r="1.3"/><circle cx="139.4" cy="312" r="1.3"/><circle cx="136.6" cy="313.8" r="1.3"/><circle cx="132.8" cy="329.1" r="1.3"/><circle cx="136.4" cy="283.1" r="1.3"/><circle cx="125.9" cy="323.5" r="1.3"/><circle cx="138.4" cy="308.1" r="1.3"/><circle cx="132.9" cy="283.1" r="1.3"/><circle cx="130.8" cy="277.8" r="1.3"/><circle cx="129.7" cy="290.5" r="1.3"/><circle cx="126.4" cy="280.3" r="1.3"/><circle cx="130.3" cy="286.3" r="1.3"/><circle cx="138.4" cy="321.6" r="1.3"/><circle cx="130.5" cy="311.5" r="1.3"/><circle cx="129.6" cy="294.9" r="1.3"/><circle cx="133.8" cy="299.1" r="1.3"/><circle cx="137.6" cy="297.5" r="1.3"/><circle cx="138.4" cy="320.6" r="1.3"/><circle cx="131.5" cy="295.2" r="1.3"/><circle cx="137.2" cy="318.2" r="1.3"/><circle cx="130.5" cy="314.2" r="1.3"/><circle cx="130.4" cy="293.9" r="1.3"/><circle cx="138" cy="290.7" r="1.3"/><circle cx="135.3" cy="341.7" r="1.3"/><circle cx="128.5" cy="299.9" r="1.3"/><circle cx="132.4" cy="312.6" r="1.3"/><circle cx="130.4" cy="311.1" r="1.3"/><circle cx="127.6" cy="308.4" r="1.3"/><circle cx="137.2" cy="282.4" r="1.3"/><circle cx="135.3" cy="309.8" r="1.3"/><circle cx="127.2" cy="316" r="1.3"/><circle cx="129.4" cy="334.4" r="1.3"/><circle cx="129.8" cy="317.4" r="1.3"/><circle cx="132" cy="295.8" r="1.3"/><circle cx="127.2" cy="298.2" r="1.3"/><circle cx="127.9" cy="288.6" r="1.3"/><circle cx="128.3" cy="312.8" r="1.3"/><circle cx="136.3" cy="282" r="1.3"/><circle cx="134.1" cy="282.4" r="1.3"/><circle cx="137" cy="300.4" r="1.3"/><circle cx="127.2" cy="306.5" r="1.3"/><circle cx="135.4" cy="294.4" r="1.3"/><circle cx="128.9" cy="291.1" r="1.3"/><circle cx="129" cy="296.5" r="1.3"/><circle cx="132.2" cy="279.6" r="1.3"/><circle cx="126.7" cy="312.3" r="1.3"/><circle cx="133.2" cy="277.1" r="1.3"/><circle cx="139.1" cy="289.2" r="1.3"/><circle cx="128.5" cy="298.7" r="1.3"/><circle cx="131.1" cy="301.4" r="1.3"/><circle cx="139.2" cy="310.8" r="1.3"/><circle cx="131.5" cy="306.7" r="1.3"/><circle cx="136.5" cy="327.5" r="1.3"/><circle cx="138.2" cy="278.5" r="1.3"/><circle cx="127.1" cy="305.3" r="1.3"/><circle cx="135.3" cy="309.5" r="1.3"/><circle cx="126.4" cy="294.9" r="1.3"/></g>
<line x1="132.3" y1="276.8" x2="132.3" y2="293.2" stroke="#9b1616" stroke-width="1.1"/>
<line x1="132.3" y1="314.3" x2="132.3" y2="344" stroke="#9b1616" stroke-width="1.1"/>
<rect x="125.1" y="293.2" width="14.4" height="21.1" fill="none" stroke="#9b1616" stroke-width="1.1"/>
<line x1="125.1" y1="304.8" x2="139.5" y2="304.8" stroke="#9b1616" stroke-width="2"/>
<g fill="#3f83c2" fill-opacity="0.47"><path d="M147.3,284.6l1.7,2.9h-3.4Z"/><path d="M152.7,330.1l1.7,2.9h-3.4Z"/><path d="M154.9,295.5l1.7,2.9h-3.4Z"/><path d="M145.1,307.3l1.7,2.9h-3.4Z"/><path d="M156.7,292.2l1.7,2.9h-3.4Z"/><path d="M157.4,294.6l1.7,2.9h-3.4Z"/><path d="M148.1,310l1.7,2.9h-3.4Z"/><path d="M149.6,309.3l1.7,2.9h-3.4Z"/><path d="M152.9,301l1.7,2.9h-3.4Z"/><path d="M150.7,303.7l1.7,2.9h-3.4Z"/><path d="M156.1,290.5l1.7,2.9h-3.4Z"/><path d="M149.8,290.4l1.7,2.9h-3.4Z"/><path d="M158,292.6l1.7,2.9h-3.4Z"/><path d="M151.9,303.5l1.7,2.9h-3.4Z"/><path d="M147.5,293.9l1.7,2.9h-3.4Z"/><path d="M147.9,296.1l1.7,2.9h-3.4Z"/><path d="M154.4,282.2l1.7,2.9h-3.4Z"/><path d="M152.9,294.6l1.7,2.9h-3.4Z"/><path d="M145.8,327.8l1.7,2.9h-3.4Z"/><path d="M146.1,313.3l1.7,2.9h-3.4Z"/><path d="M148.3,303.3l1.7,2.9h-3.4Z"/><path d="M146.3,301.6l1.7,2.9h-3.4Z"/><path d="M152.5,315.5l1.7,2.9h-3.4Z"/><path d="M157.8,292l1.7,2.9h-3.4Z"/><path d="M156.4,301.9l1.7,2.9h-3.4Z"/><path d="M155.5,293.5l1.7,2.9h-3.4Z"/><path d="M149.1,298.6l1.7,2.9h-3.4Z"/><path d="M155.9,312l1.7,2.9h-3.4Z"/><path d="M145.1,330.9l1.7,2.9h-3.4Z"/><path d="M147.9,332.9l1.7,2.9h-3.4Z"/><path d="M149.5,305.7l1.7,2.9h-3.4Z"/><path d="M151.6,286.7l1.7,2.9h-3.4Z"/><path d="M158.3,296.8l1.7,2.9h-3.4Z"/><path d="M156,326.2l1.7,2.9h-3.4Z"/><path d="M153.5,313.1l1.7,2.9h-3.4Z"/><path d="M148.2,306.5l1.7,2.9h-3.4Z"/><path d="M147.9,326l1.7,2.9h-3.4Z"/><path d="M148.4,293.6l1.7,2.9h-3.4Z"/><path d="M146,306l1.7,2.9h-3.4Z"/><path d="M148.2,323.6l1.7,2.9h-3.4Z"/><path d="M146.4,303.9l1.7,2.9h-3.4Z"/><path d="M148.5,296.7l1.7,2.9h-3.4Z"/><path d="M147.8,299.5l1.7,2.9h-3.4Z"/><path d="M156.4,304.1l1.7,2.9h-3.4Z"/><path d="M147.2,326.6l1.7,2.9h-3.4Z"/><path d="M153.1,288.2l1.7,2.9h-3.4Z"/><path d="M147.8,299.9l1.7,2.9h-3.4Z"/><path d="M149.8,303.5l1.7,2.9h-3.4Z"/><path d="M156.7,285.6l1.7,2.9h-3.4Z"/><path d="M151.4,304.3l1.7,2.9h-3.4Z"/><path d="M148.6,312.1l1.7,2.9h-3.4Z"/><path d="M156.8,281.8l1.7,2.9h-3.4Z"/><path d="M149.9,295.4l1.7,2.9h-3.4Z"/><path d="M145.9,307.5l1.7,2.9h-3.4Z"/><path d="M154.9,311.6l1.7,2.9h-3.4Z"/><path d="M149.4,300.4l1.7,2.9h-3.4Z"/><path d="M156.1,331l1.7,2.9h-3.4Z"/><path d="M155.2,328.6l1.7,2.9h-3.4Z"/><path d="M154.5,308.4l1.7,2.9h-3.4Z"/><path d="M144.4,292.6l1.7,2.9h-3.4Z"/><path d="M158.2,323.2l1.7,2.9h-3.4Z"/><path d="M156.9,291.4l1.7,2.9h-3.4Z"/><path d="M150.9,287l1.7,2.9h-3.4Z"/><path d="M152.3,286.1l1.7,2.9h-3.4Z"/><path d="M155.6,300.1l1.7,2.9h-3.4Z"/><path d="M147,286.8l1.7,2.9h-3.4Z"/><path d="M152.6,296.9l1.7,2.9h-3.4Z"/></g>
<line x1="151.5" y1="282.6" x2="151.5" y2="296" stroke="#3f83c2" stroke-width="1.1"/>
<line x1="151.5" y1="314" x2="151.5" y2="336" stroke="#3f83c2" stroke-width="1.1"/>
<rect x="144.4" y="296" width="14.2" height="18" fill="none" stroke="#3f83c2" stroke-width="1.1"/>
<line x1="144.4" y1="307" x2="158.6" y2="307" stroke="#3f83c2" stroke-width="2"/>
<g fill="#9b1616" fill-opacity="0.47"><path d="M167.8,291.2l1.7,2.9h-3.4Z"/><path d="M166,334.4l1.7,2.9h-3.4Z"/><path d="M163.3,311.4l1.7,2.9h-3.4Z"/><path d="M170.3,304.2l1.7,2.9h-3.4Z"/><path d="M177.5,325.1l1.7,2.9h-3.4Z"/><path d="M168.7,328.4l1.7,2.9h-3.4Z"/><path d="M168.2,304.8l1.7,2.9h-3.4Z"/><path d="M169,282.4l1.7,2.9h-3.4Z"/><path d="M165.3,333.7l1.7,2.9h-3.4Z"/><path d="M168.9,301.1l1.7,2.9h-3.4Z"/><path d="M173.1,326.2l1.7,2.9h-3.4Z"/><path d="M168.4,283.4l1.7,2.9h-3.4Z"/><path d="M165.6,298.8l1.7,2.9h-3.4Z"/><path d="M176.6,283.1l1.7,2.9h-3.4Z"/><path d="M170.6,327.2l1.7,2.9h-3.4Z"/><path d="M169,290.8l1.7,2.9h-3.4Z"/><path d="M164.6,304.2l1.7,2.9h-3.4Z"/><path d="M173.1,329.2l1.7,2.9h-3.4Z"/><path d="M173.3,292.4l1.7,2.9h-3.4Z"/><path d="M164.5,322l1.7,2.9h-3.4Z"/><path d="M165.6,292.9l1.7,2.9h-3.4Z"/><path d="M176,332.5l1.7,2.9h-3.4Z"/><path d="M171.8,281.1l1.7,2.9h-3.4Z"/><path d="M170.4,303.2l1.7,2.9h-3.4Z"/><path d="M176.7,293.9l1.7,2.9h-3.4Z"/><path d="M169.3,302.1l1.7,2.9h-3.4Z"/><path d="M171.4,328.4l1.7,2.9h-3.4Z"/><path d="M167.1,297.3l1.7,2.9h-3.4Z"/><path d="M175.5,305.5l1.7,2.9h-3.4Z"/><path d="M163.4,328.8l1.7,2.9h-3.4Z"/><path d="M174.1,300.6l1.7,2.9h-3.4Z"/><path d="M166.5,293.4l1.7,2.9h-3.4Z"/><path d="M171.6,295.6l1.7,2.9h-3.4Z"/><path d="M175.6,292.4l1.7,2.9h-3.4Z"/><path d="M166.7,301.1l1.7,2.9h-3.4Z"/><path d="M172.9,314.8l1.7,2.9h-3.4Z"/><path d="M168.8,322.4l1.7,2.9h-3.4Z"/><path d="M164.4,290.4l1.7,2.9h-3.4Z"/><path d="M163.2,300.3l1.7,2.9h-3.4Z"/><path d="M167.9,283.4l1.7,2.9h-3.4Z"/><path d="M176.9,287.4l1.7,2.9h-3.4Z"/><path d="M171.1,311.5l1.7,2.9h-3.4Z"/><path d="M168.1,302.1l1.7,2.9h-3.4Z"/><path d="M163.5,298.2l1.7,2.9h-3.4Z"/><path d="M165.9,280.1l1.7,2.9h-3.4Z"/><path d="M169.8,325.5l1.7,2.9h-3.4Z"/><path d="M166.2,283.4l1.7,2.9h-3.4Z"/><path d="M171.5,305.5l1.7,2.9h-3.4Z"/><path d="M166,302.3l1.7,2.9h-3.4Z"/><path d="M177.5,334l1.7,2.9h-3.4Z"/><path d="M170.8,292.2l1.7,2.9h-3.4Z"/><path d="M164.9,303l1.7,2.9h-3.4Z"/><path d="M175.4,315.3l1.7,2.9h-3.4Z"/><path d="M173.4,313.9l1.7,2.9h-3.4Z"/><path d="M173.3,292.6l1.7,2.9h-3.4Z"/><path d="M165.8,318.4l1.7,2.9h-3.4Z"/><path d="M174.7,291.1l1.7,2.9h-3.4Z"/><path d="M164.4,288.4l1.7,2.9h-3.4Z"/><path d="M168.8,309.4l1.7,2.9h-3.4Z"/><path d="M169.8,310l1.7,2.9h-3.4Z"/><path d="M176.6,332.3l1.7,2.9h-3.4Z"/><path d="M174.6,300l1.7,2.9h-3.4Z"/><path d="M173.2,313.9l1.7,2.9h-3.4Z"/><path d="M168.9,313.3l1.7,2.9h-3.4Z"/><path d="M167,282.4l1.7,2.9h-3.4Z"/><path d="M168.9,287.8l1.7,2.9h-3.4Z"/><path d="M165.3,288.9l1.7,2.9h-3.4Z"/><path d="M176.7,327.1l1.7,2.9h-3.4Z"/><path d="M170.6,285.3l1.7,2.9h-3.4Z"/><path d="M176.6,326l1.7,2.9h-3.4Z"/><path d="M172.5,308.3l1.7,2.9h-3.4Z"/><path d="M173.1,326.2l1.7,2.9h-3.4Z"/><path d="M166.1,327.6l1.7,2.9h-3.4Z"/><path d="M173.1,315.2l1.7,2.9h-3.4Z"/><path d="M175,308l1.7,2.9h-3.4Z"/></g>
<line x1="170.3" y1="280" x2="170.3" y2="294" stroke="#9b1616" stroke-width="1.1"/>
<line x1="170.3" y1="315" x2="170.3" y2="337" stroke="#9b1616" stroke-width="1.1"/>
<rect x="163" y="294" width="14.6" height="21" fill="none" stroke="#9b1616" stroke-width="1.1"/>
<line x1="163" y1="302" x2="177.6" y2="302" stroke="#9b1616" stroke-width="2"/>
<rect x="26" y="265.4" width="155.4" height="184.6" fill="none" stroke="#4a4a4a" stroke-width="0.8"/>
<line x1="186.4" y1="412.1" x2="265.4" y2="412.1" stroke="#f2f2f2" stroke-width="0.5"/>
<line x1="186.4" y1="349.1" x2="265.4" y2="349.1" stroke="#f2f2f2" stroke-width="0.5"/>
<line x1="186.4" y1="286.1" x2="265.4" y2="286.1" stroke="#f2f2f2" stroke-width="0.5"/>
<line x1="186.4" y1="443.6" x2="265.4" y2="443.6" stroke="#e6e6e6" stroke-width="0.6"/>
<line x1="186.4" y1="380.6" x2="265.4" y2="380.6" stroke="#e6e6e6" stroke-width="0.6"/>
<line x1="186.4" y1="317.6" x2="265.4" y2="317.6" stroke="#e6e6e6" stroke-width="0.6"/>
<line x1="197.6" y1="265.4" x2="197.6" y2="450" stroke="#e6e6e6" stroke-width="0.6"/>
<line x1="216.7" y1="265.4" x2="216.7" y2="450" stroke="#e6e6e6" stroke-width="0.6"/>
<line x1="235.7" y1="265.4" x2="235.7" y2="450" stroke="#e6e6e6" stroke-width="0.6"/>
<line x1="254.8" y1="265.4" x2="254.8" y2="450" stroke="#e6e6e6" stroke-width="0.6"/>
<g fill="#3f83c2" fill-opacity="0.47"><circle cx="204.1" cy="393.6" r="1.3"/><circle cx="200.5" cy="412.4" r="1.3"/><circle cx="197" cy="427.6" r="1.3"/><circle cx="196.7" cy="407.2" r="1.3"/><circle cx="201.5" cy="416.8" r="1.3"/><circle cx="202.1" cy="407.3" r="1.3"/><circle cx="204.5" cy="403.8" r="1.3"/><circle cx="191.4" cy="419.4" r="1.3"/><circle cx="193.4" cy="400.8" r="1.3"/><circle cx="200.7" cy="394.7" r="1.3"/><circle cx="197.9" cy="365.8" r="1.3"/><circle cx="195.6" cy="412.6" r="1.3"/><circle cx="192.5" cy="411.4" r="1.3"/><circle cx="198.4" cy="385.3" r="1.3"/><circle cx="199.1" cy="380.3" r="1.3"/><circle cx="202.5" cy="408.8" r="1.3"/><circle cx="195.7" cy="398.1" r="1.3"/><circle cx="194.5" cy="393" r="1.3"/><circle cx="197" cy="407.3" r="1.3"/><circle cx="197.2" cy="398.9" r="1.3"/><circle cx="191.5" cy="395.4" r="1.3"/><circle cx="201.3" cy="413.8" r="1.3"/><circle cx="204.6" cy="407.7" r="1.3"/><circle cx="196.8" cy="374.2" r="1.3"/><circle cx="190.6" cy="403.8" r="1.3"/><circle cx="204" cy="427.6" r="1.3"/><circle cx="192.5" cy="366" r="1.3"/><circle cx="202.6" cy="408.9" r="1.3"/><circle cx="199.7" cy="395.8" r="1.3"/><circle cx="201.8" cy="417.6" r="1.3"/><circle cx="193.2" cy="421.1" r="1.3"/><circle cx="198.4" cy="370.1" r="1.3"/><circle cx="193.9" cy="410.2" r="1.3"/><circle cx="199.5" cy="404.3" r="1.3"/><circle cx="204.1" cy="433.6" r="1.3"/><circle cx="192.8" cy="402.8" r="1.3"/><circle cx="191.7" cy="404.6" r="1.3"/><circle cx="204.5" cy="372.7" r="1.3"/><circle cx="196.8" cy="392.5" r="1.3"/><circle cx="190.5" cy="407.8" r="1.3"/><circle cx="196.6" cy="431" r="1.3"/><circle cx="197.9" cy="406.4" r="1.3"/><circle cx="196.8" cy="399.2" r="1.3"/><circle cx="192.9" cy="433.5" r="1.3"/><circle cx="198.6" cy="401.5" r="1.3"/><circle cx="191.7" cy="396" r="1.3"/><circle cx="204.5" cy="401.9" r="1.3"/><circle cx="204.4" cy="435" r="1.3"/><circle cx="200.2" cy="415.3" r="1.3"/><circle cx="204.2" cy="377" r="1.3"/><circle cx="194.8" cy="406.1" r="1.3"/><circle cx="190.9" cy="411.4" r="1.3"/><circle cx="196.9" cy="406.8" r="1.3"/><circle cx="195.9" cy="406.4" r="1.3"/><circle cx="198.6" cy="375.6" r="1.3"/><circle cx="193.1" cy="394.2" r="1.3"/><circle cx="202.9" cy="416.4" r="1.3"/><circle cx="198.1" cy="393.7" r="1.3"/><circle cx="198.5" cy="402.6" r="1.3"/><circle cx="192.1" cy="404.4" r="1.3"/><circle cx="196.4" cy="415.7" r="1.3"/><circle cx="202.9" cy="401.4" r="1.3"/><circle cx="192.2" cy="430.3" r="1.3"/><circle cx="198.3" cy="428.4" r="1.3"/><circle cx="192.5" cy="358.7" r="1.3"/><circle cx="195.9" cy="365.7" r="1.3"/></g>
<line x1="197.7" y1="357.6" x2="197.7" y2="391.6" stroke="#3f83c2" stroke-width="1.1"/>
<line x1="197.7" y1="414" x2="197.7" y2="435.6" stroke="#3f83c2" stroke-width="1.1"/>
<rect x="190.4" y="391.6" width="14.6" height="22.4" fill="none" stroke="#3f83c2" stroke-width="1.1"/>
<line x1="190.4" y1="403" x2="205" y2="403" stroke="#3f83c2" stroke-width="2"/>
<g fill="#9b1616" fill-opacity="0.47"><circle cx="212.4" cy="401.8" r="1.3"/><circle cx="215.4" cy="404" r="1.3"/><circle cx="217.4" cy="433.5" r="1.3"/><circle cx="220" cy="414.2" r="1.3"/><circle cx="219.1" cy="405.1" r="1.3"/><circle cx="219.9" cy="374.5" r="1.3"/><circle cx="210.7" cy="429.3" r="1.3"/><circle cx="222.6" cy="412.7" r="1.3"/><circle cx="215.7" cy="369.9" r="1.3"/><circle cx="209.6" cy="412.7" r="1.3"/><circle cx="212" cy="405.8" r="1.3"/><circle cx="214.8" cy="382.5" r="1.3"/><circle cx="217.1" cy="407.2" r="1.3"/><circle cx="209.5" cy="435.6" r="1.3"/><circle cx="216.5" cy="393.3" r="1.3"/><circle cx="211.9" cy="410.6" r="1.3"/><circle cx="216.2" cy="420.4" r="1.3"/><circle cx="215" cy="406.6" r="1.3"/><circle cx="214" cy="411.7" r="1.3"/><circle cx="217.8" cy="407.6" r="1.3"/><circle cx="214.5" cy="393.7" r="1.3"/><circle cx="214.9" cy="401.5" r="1.3"/><circle cx="217.6" cy="390.5" r="1.3"/><circle cx="215.9" cy="390.8" r="1.3"/><circle cx="213.2" cy="365.3" r="1.3"/><circle cx="213.1" cy="400" r="1.3"/><circle cx="223.6" cy="435.8" r="1.3"/><circle cx="220.4" cy="401.2" r="1.3"/><circle cx="218.4" cy="426.9" r="1.3"/><circle cx="220.8" cy="395.8" r="1.3"/><circle cx="213.7" cy="428.3" r="1.3"/><circle cx="218.4" cy="423.5" r="1.3"/><circle cx="215.1" cy="401" r="1.3"/><circle cx="214" cy="396.9" r="1.3"/><circle cx="221" cy="367.9" r="1.3"/><circle cx="215.1" cy="430.6" r="1.3"/><circle cx="222.7" cy="405.2" r="1.3"/><circle cx="212.9" cy="383.3" r="1.3"/><circle cx="210.4" cy="436.1" r="1.3"/><circle cx="217.7" cy="408.2" r="1.3"/><circle cx="216" cy="397.2" r="1.3"/><circle cx="221.4" cy="369.1" r="1.3"/><circle cx="222.2" cy="393.8" r="1.3"/><circle cx="212.7" cy="426.8" r="1.3"/><circle cx="215.8" cy="391.3" r="1.3"/><circle cx="210.7" cy="377.7" r="1.3"/><circle cx="211.2" cy="391.5" r="1.3"/><circle cx="221.1" cy="391.8" r="1.3"/><circle cx="213.2" cy="409.7" r="1.3"/><circle cx="209.7" cy="373.2" r="1.3"/><circle cx="209.7" cy="407.1" r="1.3"/><circle cx="220.8" cy="402.1" r="1.3"/><circle cx="220.8" cy="407" r="1.3"/><circle cx="220.5" cy="402.2" r="1.3"/><circle cx="209.7" cy="367.4" r="1.3"/><circle cx="213.8" cy="403" r="1.3"/><circle cx="221.3" cy="404" r="1.3"/><circle cx="212.3" cy="390.8" r="1.3"/><circle cx="214.5" cy="419.4" r="1.3"/><circle cx="221.8" cy="403.5" r="1.3"/><circle cx="217.6" cy="409.2" r="1.3"/><circle cx="221" cy="402.3" r="1.3"/><circle cx="218.6" cy="391" r="1.3"/><circle cx="217.4" cy="429" r="1.3"/><circle cx="213.2" cy="400.6" r="1.3"/><circle cx="210.7" cy="401.1" r="1.3"/><circle cx="218.4" cy="413.7" r="1.3"/><circle cx="222.8" cy="409.2" r="1.3"/><circle cx="212.3" cy="378.8" r="1.3"/><circle cx="219.9" cy="380.4" r="1.3"/><circle cx="220.5" cy="433" r="1.3"/><circle cx="215.7" cy="383" r="1.3"/><circle cx="222.3" cy="388.2" r="1.3"/><circle cx="220.7" cy="394.5" r="1.3"/><circle cx="209.5" cy="403.1" r="1.3"/><circle cx="214.3" cy="428.1" r="1.3"/></g>
<line x1="216.5" y1="365" x2="216.5" y2="390.4" stroke="#9b1616" stroke-width="1.1"/>
<line x1="216.5" y1="409.6" x2="216.5" y2="437" stroke="#9b1616" stroke-width="1.1"/>
<rect x="209.4" y="390.4" width="14.2" height="19.2" fill="none" stroke="#9b1616" stroke-width="1.1"/>
<line x1="209.4" y1="398.6" x2="223.6" y2="398.6" stroke="#9b1616" stroke-width="2"/>
<g fill="#3f83c2" fill-opacity="0.47"><path d="M241.7,392.5l1.7,2.9h-3.4Z"/><path d="M241,399l1.7,2.9h-3.4Z"/><path d="M238.8,384.4l1.7,2.9h-3.4Z"/><path d="M233.3,392l1.7,2.9h-3.4Z"/><path d="M241.3,390.3l1.7,2.9h-3.4Z"/><path d="M240,406.5l1.7,2.9h-3.4Z"/><path d="M239.7,405.4l1.7,2.9h-3.4Z"/><path d="M233.4,359.1l1.7,2.9h-3.4Z"/><path d="M230.9,404.4l1.7,2.9h-3.4Z"/><path d="M236.9,420l1.7,2.9h-3.4Z"/><path d="M233.8,380.9l1.7,2.9h-3.4Z"/><path d="M241,412.2l1.7,2.9h-3.4Z"/><path d="M230.8,360.1l1.7,2.9h-3.4Z"/><path d="M235.8,366l1.7,2.9h-3.4Z"/><path d="M235.3,401.2l1.7,2.9h-3.4Z"/><path d="M237.8,393.4l1.7,2.9h-3.4Z"/><path d="M241.5,366.9l1.7,2.9h-3.4Z"/><path d="M228.8,374.4l1.7,2.9h-3.4Z"/><path d="M236.9,397.6l1.7,2.9h-3.4Z"/><path d="M241.5,408.3l1.7,2.9h-3.4Z"/><path d="M242.4,386.4l1.7,2.9h-3.4Z"/><path d="M238.5,361.4l1.7,2.9h-3.4Z"/><path d="M235.8,400.9l1.7,2.9h-3.4Z"/><path d="M235.7,392l1.7,2.9h-3.4Z"/><path d="M242.5,363.8l1.7,2.9h-3.4Z"/><path d="M231.2,414.8l1.7,2.9h-3.4Z"/><path d="M229.2,385.5l1.7,2.9h-3.4Z"/><path d="M233.8,372.5l1.7,2.9h-3.4Z"/><path d="M238,399.7l1.7,2.9h-3.4Z"/><path d="M242.7,426.9l1.7,2.9h-3.4Z"/><path d="M233.2,418.5l1.7,2.9h-3.4Z"/><path d="M234.2,406.3l1.7,2.9h-3.4Z"/><path d="M230.7,393.3l1.7,2.9h-3.4Z"/><path d="M238.6,432.8l1.7,2.9h-3.4Z"/><path d="M238.2,430.8l1.7,2.9h-3.4Z"/><path d="M229.1,398.2l1.7,2.9h-3.4Z"/><path d="M238.5,372.6l1.7,2.9h-3.4Z"/><path d="M235.2,399.3l1.7,2.9h-3.4Z"/><path d="M235.4,374.9l1.7,2.9h-3.4Z"/><path d="M234.1,396.5l1.7,2.9h-3.4Z"/><path d="M233.7,432.1l1.7,2.9h-3.4Z"/><path d="M232.4,406.3l1.7,2.9h-3.4Z"/><path d="M240.1,409l1.7,2.9h-3.4Z"/><path d="M232.4,429.1l1.7,2.9h-3.4Z"/><path d="M237.1,417l1.7,2.9h-3.4Z"/><path d="M239.5,408.8l1.7,2.9h-3.4Z"/><path d="M231,388.6l1.7,2.9h-3.4Z"/><path d="M230.8,399.4l1.7,2.9h-3.4Z"/><path d="M240.9,382.5l1.7,2.9h-3.4Z"/><path d="M233.8,416.2l1.7,2.9h-3.4Z"/><path d="M238.7,368.8l1.7,2.9h-3.4Z"/><path d="M238.1,392.3l1.7,2.9h-3.4Z"/><path d="M232.6,375.2l1.7,2.9h-3.4Z"/><path d="M230.2,394.2l1.7,2.9h-3.4Z"/><path d="M236,412l1.7,2.9h-3.4Z"/><path d="M235.6,386.9l1.7,2.9h-3.4Z"/><path d="M240.1,422.1l1.7,2.9h-3.4Z"/><path d="M228.6,396.7l1.7,2.9h-3.4Z"/></g>
<line x1="235.8" y1="360" x2="235.8" y2="385.6" stroke="#3f83c2" stroke-width="1.1"/>
<line x1="235.8" y1="408.6" x2="235.8" y2="437.6" stroke="#3f83c2" stroke-width="1.1"/>
<rect x="228.6" y="385.6" width="14.4" height="23" fill="none" stroke="#3f83c2" stroke-width="1.1"/>
<line x1="228.6" y1="395" x2="243" y2="395" stroke="#3f83c2" stroke-width="2"/>
<g fill="#9b1616" fill-opacity="0.47"><path d="M251.9,390.9l1.7,2.9h-3.4Z"/><path d="M251.3,409.9l1.7,2.9h-3.4Z"/><path d="M254.6,389.3l1.7,2.9h-3.4Z"/><path d="M261.3,379.8l1.7,2.9h-3.4Z"/><path d="M260.8,395.4l1.7,2.9h-3.4Z"/><path d="M258.3,361.9l1.7,2.9h-3.4Z"/><path d="M252.6,433.6l1.7,2.9h-3.4Z"/><path d="M260.8,390.6l1.7,2.9h-3.4Z"/><path d="M257.8,400l1.7,2.9h-3.4Z"/><path d="M252.2,392.7l1.7,2.9h-3.4Z"/><path d="M253,394.8l1.7,2.9h-3.4Z"/><path d="M258.4,375.2l1.7,2.9h-3.4Z"/><path d="M254.2,390.9l1.7,2.9h-3.4Z"/><path d="M253.5,396.8l1.7,2.9h-3.4Z"/><path d="M253.8,398.1l1.7,2.9h-3.4Z"/><path d="M259.4,389l1.7,2.9h-3.4Z"/><path d="M248.1,415.2l1.7,2.9h-3.4Z"/><path d="M258.6,428.4l1.7,2.9h-3.4Z"/><path d="M248.6,382l1.7,2.9h-3.4Z"/><path d="M258.3,362.7l1.7,2.9h-3.4Z"/><path d="M257.7,371.8l1.7,2.9h-3.4Z"/><path d="M257.5,378l1.7,2.9h-3.4Z"/><path d="M261.9,390.7l1.7,2.9h-3.4Z"/><path d="M252.3,405.9l1.7,2.9h-3.4Z"/><path d="M251.5,376.5l1.7,2.9h-3.4Z"/><path d="M251.2,384.2l1.7,2.9h-3.4Z"/><path d="M253.6,419.1l1.7,2.9h-3.4Z"/><path d="M260,384l1.7,2.9h-3.4Z"/><path d="M250.4,410l1.7,2.9h-3.4Z"/><path d="M252.9,389.6l1.7,2.9h-3.4Z"/><path d="M255.9,388.4l1.7,2.9h-3.4Z"/><path d="M250.4,395.9l1.7,2.9h-3.4Z"/><path d="M252,402.5l1.7,2.9h-3.4Z"/><path d="M252.2,370l1.7,2.9h-3.4Z"/><path d="M251.7,395.8l1.7,2.9h-3.4Z"/><path d="M254,422l1.7,2.9h-3.4Z"/><path d="M250.1,364l1.7,2.9h-3.4Z"/><path d="M260.2,363.4l1.7,2.9h-3.4Z"/><path d="M257.9,361.5l1.7,2.9h-3.4Z"/><path d="M257.9,364.7l1.7,2.9h-3.4Z"/><path d="M249.8,419.9l1.7,2.9h-3.4Z"/><path d="M254.2,419.3l1.7,2.9h-3.4Z"/><path d="M248.2,378.9l1.7,2.9h-3.4Z"/><path d="M257.7,396.7l1.7,2.9h-3.4Z"/><path d="M260,386.9l1.7,2.9h-3.4Z"/><path d="M253.9,363.8l1.7,2.9h-3.4Z"/><path d="M257.7,429.4l1.7,2.9h-3.4Z"/><path d="M255.4,365.3l1.7,2.9h-3.4Z"/><path d="M257.1,399.4l1.7,2.9h-3.4Z"/><path d="M252.2,400.1l1.7,2.9h-3.4Z"/><path d="M256.9,383.7l1.7,2.9h-3.4Z"/><path d="M250.1,363.6l1.7,2.9h-3.4Z"/><path d="M248.1,386.3l1.7,2.9h-3.4Z"/><path d="M250.5,392.5l1.7,2.9h-3.4Z"/><path d="M254.6,403.3l1.7,2.9h-3.4Z"/><path d="M260.3,395.4l1.7,2.9h-3.4Z"/></g>
<line x1="254.7" y1="363" x2="254.7" y2="378.4" stroke="#9b1616" stroke-width="1.1"/>
<line x1="254.7" y1="402.4" x2="254.7" y2="438.4" stroke="#9b1616" stroke-width="1.1"/>
<rect x="247.4" y="378.4" width="14.6" height="24" fill="none" stroke="#9b1616" stroke-width="1.1"/>
<line x1="247.4" y1="392.4" x2="262" y2="392.4" stroke="#9b1616" stroke-width="2"/>
<rect x="186.4" y="265.4" width="79" height="184.6" fill="none" stroke="#4a4a4a" stroke-width="0.8"/>
<text x="21.6" y="446" font-size="6.6" text-anchor="end" fill="#4d4d4d">0</text>
<line x1="24" y1="443.6" x2="26" y2="443.6" stroke="#4d4d4d" stroke-width="0.5"/>
<text x="21.6" y="383" font-size="6.6" text-anchor="end" fill="#4d4d4d">2</text>
<line x1="24" y1="380.6" x2="26" y2="380.6" stroke="#4d4d4d" stroke-width="0.5"/>
<text x="21.6" y="320" font-size="6.6" text-anchor="end" fill="#4d4d4d">4</text>
<line x1="24" y1="317.6" x2="26" y2="317.6" stroke="#4d4d4d" stroke-width="0.5"/>
<line x1="37.4" y1="450" x2="37.4" y2="451.8" stroke="#4d4d4d" stroke-width="0.5"/>
<text x="32.2" y="459.1" font-size="5.4" text-anchor="start" fill="#4d4d4d">Interv.</text>
<text x="32.2" y="465.7" font-size="5.4" text-anchor="start" fill="#4d4d4d">Tri2</text>
<line x1="56.5" y1="450" x2="56.5" y2="451.8" stroke="#4d4d4d" stroke-width="0.5"/>
<text x="51.2" y="459.1" font-size="5.4" text-anchor="start" fill="#4d4d4d">Contr.</text>
<text x="51.2" y="465.7" font-size="5.4" text-anchor="start" fill="#4d4d4d">Tri2</text>
<line x1="75.5" y1="450" x2="75.5" y2="451.8" stroke="#4d4d4d" stroke-width="0.5"/>
<text x="70.3" y="459.1" font-size="5.4" text-anchor="start" fill="#4d4d4d">Interv.</text>
<text x="70.3" y="465.7" font-size="5.4" text-anchor="start" fill="#4d4d4d">Tri3</text>
<line x1="94.6" y1="450" x2="94.6" y2="451.8" stroke="#4d4d4d" stroke-width="0.5"/>
<text x="89.4" y="459.1" font-size="5.4" text-anchor="start" fill="#4d4d4d">Contr.</text>
<text x="89.4" y="465.7" font-size="5.4" text-anchor="start" fill="#4d4d4d">Tri3</text>
<line x1="113.6" y1="450" x2="113.6" y2="451.8" stroke="#4d4d4d" stroke-width="0.5"/>
<text x="108.4" y="459.1" font-size="5.4" text-anchor="start" fill="#4d4d4d">Interv.</text>
<text x="108.4" y="465.7" font-size="5.4" text-anchor="start" fill="#4d4d4d">Pn12</text>
<line x1="132.7" y1="450" x2="132.7" y2="451.8" stroke="#4d4d4d" stroke-width="0.5"/>
<text x="127.5" y="459.1" font-size="5.4" text-anchor="start" fill="#4d4d4d">Contr.</text>
<text x="127.5" y="465.7" font-size="5.4" text-anchor="start" fill="#4d4d4d">Pn12</text>
<line x1="151.7" y1="450" x2="151.7" y2="451.8" stroke="#4d4d4d" stroke-width="0.5"/>
<text x="146.5" y="459.1" font-size="5.4" text-anchor="start" fill="#4d4d4d">Interv.</text>
<text x="146.5" y="465.7" font-size="5.4" text-anchor="start" fill="#4d4d4d">Pn56</text>
<line x1="170.8" y1="450" x2="170.8" y2="451.8" stroke="#4d4d4d" stroke-width="0.5"/>
<text x="165.6" y="459.1" font-size="5.4" text-anchor="start" fill="#4d4d4d">Contr.</text>
<text x="165.6" y="465.7" font-size="5.4" text-anchor="start" fill="#4d4d4d">Pn56</text>
<line x1="197.6" y1="450" x2="197.6" y2="451.8" stroke="#4d4d4d" stroke-width="0.5"/>
<text x="192.4" y="459.1" font-size="5.4" text-anchor="start" fill="#4d4d4d">Interv.</text>
<text x="192.4" y="465.7" font-size="5.4" text-anchor="start" fill="#4d4d4d">Pn12</text>
<line x1="216.7" y1="450" x2="216.7" y2="451.8" stroke="#4d4d4d" stroke-width="0.5"/>
<text x="211.5" y="459.1" font-size="5.4" text-anchor="start" fill="#4d4d4d">Contr.</text>
<text x="211.5" y="465.7" font-size="5.4" text-anchor="start" fill="#4d4d4d">Pn12</text>
<line x1="235.7" y1="450" x2="235.7" y2="451.8" stroke="#4d4d4d" stroke-width="0.5"/>
<text x="230.5" y="459.1" font-size="5.4" text-anchor="start" fill="#4d4d4d">Interv.</text>
<text x="230.5" y="465.7" font-size="5.4" text-anchor="start" fill="#4d4d4d">Pn56</text>
<line x1="254.8" y1="450" x2="254.8" y2="451.8" stroke="#4d4d4d" stroke-width="0.5"/>
<text x="249.6" y="459.1" font-size="5.4" text-anchor="start" fill="#4d4d4d">Contr.</text>
<text x="249.6" y="465.7" font-size="5.4" text-anchor="start" fill="#4d4d4d">Pn56</text>
<text transform="translate(7.4,357.6) rotate(-90)" x="0" y="2.8" font-size="8.4" text-anchor="middle" fill="#000">Shannon diversity index</text>
<g fill="none" stroke="#555555" stroke-opacity="1.0" stroke-width="0.65"><path d="M274.7,294.7l1.7,1.7l-1.7,1.7l-1.7,-1.7Z"/></g>
<text x="285.8" y="298.8" font-size="7" text-anchor="start" fill="#1a1a1a">Tri2</text>
<g fill="none" stroke="#555555" stroke-opacity="1.0" stroke-width="0.7"><path d="M272.8,312.6h3.8M274.7,310.7v3.8"/></g>
<text x="285.8" y="315.1" font-size="7" text-anchor="start" fill="#1a1a1a">Tri3</text>
<g fill="#555555" fill-opacity="1.0"><circle cx="274.7" cy="327.3" r="1.2"/></g>
<text x="285.8" y="329.8" font-size="7" text-anchor="start" fill="#1a1a1a">Pn12</text>
<g fill="#555555" fill-opacity="1.0"><path d="M274.7,340l1.6,2.8h-3.2Z"/></g>
<text x="285.8" y="344.1" font-size="7" text-anchor="start" fill="#1a1a1a">Pn56</text>
<line x1="274.7" y1="387.4" x2="274.7" y2="399.4" stroke="#3f83c2" stroke-width="0.9"/>
<rect x="268.8" y="389.5" width="11.8" height="7.8" fill="#fff" stroke="#3f83c2" stroke-width="1.1"/>
<line x1="268.8" y1="393.4" x2="280.6" y2="393.4" stroke="#3f83c2" stroke-width="1.4"/>
<text x="286" y="395.8" font-size="7" text-anchor="start" fill="#1a1a1a">Intervention</text>
<line x1="274.7" y1="401.5" x2="274.7" y2="413.5" stroke="#9b1616" stroke-width="0.9"/>
<rect x="268.8" y="403.6" width="11.8" height="7.8" fill="#fff" stroke="#9b1616" stroke-width="1.1"/>
<line x1="268.8" y1="407.5" x2="280.6" y2="407.5" stroke="#9b1616" stroke-width="1.4"/>
<text x="286" y="409.9" font-size="7" text-anchor="start" fill="#1a1a1a">Control</text>
<text x="4.9" y="496.6" font-size="11.5" fill="#1a1a1a">E</text>
<rect x="26" y="485" width="155" height="14.4" fill="#d9d9d9" stroke="#4a4a4a" stroke-width="0.8"/>
<text x="103.5" y="495" font-size="8" text-anchor="middle" fill="#1a1a1a">Mother</text>
<rect x="185.7" y="485" width="78.9" height="14.4" fill="#d9d9d9" stroke="#4a4a4a" stroke-width="0.8"/>
<text x="225.2" y="495" font-size="8" text-anchor="middle" fill="#1a1a1a">Infant</text>
<line x1="26" y1="651.1" x2="180.8" y2="651.1" stroke="#f2f2f2" stroke-width="0.5"/>
<line x1="26" y1="609.5" x2="180.8" y2="609.5" stroke="#f2f2f2" stroke-width="0.5"/>
<line x1="26" y1="567.8" x2="180.8" y2="567.8" stroke="#f2f2f2" stroke-width="0.5"/>
<line x1="26" y1="526.1" x2="180.8" y2="526.1" stroke="#f2f2f2" stroke-width="0.5"/>
<line x1="26" y1="672" x2="180.8" y2="672" stroke="#e6e6e6" stroke-width="0.6"/>
<line x1="26" y1="630.3" x2="180.8" y2="630.3" stroke="#e6e6e6" stroke-width="0.6"/>
<line x1="26" y1="588.6" x2="180.8" y2="588.6" stroke="#e6e6e6" stroke-width="0.6"/>
<line x1="26" y1="546.9" x2="180.8" y2="546.9" stroke="#e6e6e6" stroke-width="0.6"/>
<line x1="26" y1="505.2" x2="180.8" y2="505.2" stroke="#e6e6e6" stroke-width="0.6"/>
<line x1="37.4" y1="499.4" x2="37.4" y2="695" stroke="#e6e6e6" stroke-width="0.6"/>
<line x1="56.5" y1="499.4" x2="56.5" y2="695" stroke="#e6e6e6" stroke-width="0.6"/>
<line x1="75.5" y1="499.4" x2="75.5" y2="695" stroke="#e6e6e6" stroke-width="0.6"/>
<line x1="94.6" y1="499.4" x2="94.6" y2="695" stroke="#e6e6e6" stroke-width="0.6"/>
<line x1="113.6" y1="499.4" x2="113.6" y2="695" stroke="#e6e6e6" stroke-width="0.6"/>
<line x1="132.7" y1="499.4" x2="132.7" y2="695" stroke="#e6e6e6" stroke-width="0.6"/>
<line x1="151.7" y1="499.4" x2="151.7" y2="695" stroke="#e6e6e6" stroke-width="0.6"/>
<line x1="170.8" y1="499.4" x2="170.8" y2="695" stroke="#e6e6e6" stroke-width="0.6"/>
<g fill="none" stroke="#3f83c2" stroke-opacity="0.47" stroke-width="0.65"><path d="M34.6,520.6l1.9,1.9l-1.9,1.9l-1.9,-1.9Z"/><path d="M37,553.9l1.9,1.9l-1.9,1.9l-1.9,-1.9Z"/><path d="M38.5,562l1.9,1.9l-1.9,1.9l-1.9,-1.9Z"/><path d="M31.6,542.3l1.9,1.9l-1.9,1.9l-1.9,-1.9Z"/><path d="M32.4,533.8l1.9,1.9l-1.9,1.9l-1.9,-1.9Z"/><path d="M35.2,533.3l1.9,1.9l-1.9,1.9l-1.9,-1.9Z"/><path d="M35.4,536.8l1.9,1.9l-1.9,1.9l-1.9,-1.9Z"/><path d="M41.8,547.8l1.9,1.9l-1.9,1.9l-1.9,-1.9Z"/><path d="M31.8,526.4l1.9,1.9l-1.9,1.9l-1.9,-1.9Z"/><path d="M30.7,538.2l1.9,1.9l-1.9,1.9l-1.9,-1.9Z"/><path d="M36.1,542.3l1.9,1.9l-1.9,1.9l-1.9,-1.9Z"/><path d="M31.3,527.5l1.9,1.9l-1.9,1.9l-1.9,-1.9Z"/><path d="M39.7,555.7l1.9,1.9l-1.9,1.9l-1.9,-1.9Z"/><path d="M39.5,529.6l1.9,1.9l-1.9,1.9l-1.9,-1.9Z"/><path d="M31.7,520.4l1.9,1.9l-1.9,1.9l-1.9,-1.9Z"/><path d="M34.1,532.9l1.9,1.9l-1.9,1.9l-1.9,-1.9Z"/><path d="M38.4,520.2l1.9,1.9l-1.9,1.9l-1.9,-1.9Z"/><path d="M43.9,535.2l1.9,1.9l-1.9,1.9l-1.9,-1.9Z"/><path d="M44.4,541.8l1.9,1.9l-1.9,1.9l-1.9,-1.9Z"/><path d="M33.7,557.7l1.9,1.9l-1.9,1.9l-1.9,-1.9Z"/><path d="M31,531.9l1.9,1.9l-1.9,1.9l-1.9,-1.9Z"/><path d="M40.9,554l1.9,1.9l-1.9,1.9l-1.9,-1.9Z"/></g>
<line x1="37.4" y1="519" x2="37.4" y2="531.4" stroke="#3f83c2" stroke-width="1.1"/>
<line x1="37.4" y1="553.4" x2="37.4" y2="565" stroke="#3f83c2" stroke-width="1.1"/>
<rect x="30.4" y="531.4" width="14" height="22" fill="none" stroke="#3f83c2" stroke-width="1.1"/>
<line x1="30.4" y1="543.6" x2="44.4" y2="543.6" stroke="#3f83c2" stroke-width="2"/>
<g fill="none" stroke="#9b1616" stroke-opacity="0.47" stroke-width="0.65"><path d="M61.4,534.1l1.9,1.9l-1.9,1.9l-1.9,-1.9Z"/><path d="M53.5,518.3l1.9,1.9l-1.9,1.9l-1.9,-1.9Z"/><path d="M52.7,520.8l1.9,1.9l-1.9,1.9l-1.9,-1.9Z"/><path d="M50.2,636.3l1.9,1.9l-1.9,1.9l-1.9,-1.9Z"/><path d="M63.5,558.2l1.9,1.9l-1.9,1.9l-1.9,-1.9Z"/><path d="M59.3,559.2l1.9,1.9l-1.9,1.9l-1.9,-1.9Z"/><path d="M55.9,522.9l1.9,1.9l-1.9,1.9l-1.9,-1.9Z"/><path d="M55.2,524l1.9,1.9l-1.9,1.9l-1.9,-1.9Z"/><path d="M52.8,529.5l1.9,1.9l-1.9,1.9l-1.9,-1.9Z"/><path d="M54.3,592.5l1.9,1.9l-1.9,1.9l-1.9,-1.9Z"/><path d="M52.5,535.7l1.9,1.9l-1.9,1.9l-1.9,-1.9Z"/><path d="M63.7,579.3l1.9,1.9l-1.9,1.9l-1.9,-1.9Z"/><path d="M60.5,520.1l1.9,1.9l-1.9,1.9l-1.9,-1.9Z"/><path d="M52.2,630.5l1.9,1.9l-1.9,1.9l-1.9,-1.9Z"/><path d="M50.6,642.2l1.9,1.9l-1.9,1.9l-1.9,-1.9Z"/><path d="M63.2,517.2l1.9,1.9l-1.9,1.9l-1.9,-1.9Z"/><path d="M61.2,591.2l1.9,1.9l-1.9,1.9l-1.9,-1.9Z"/><path d="M55.6,521.2l1.9,1.9l-1.9,1.9l-1.9,-1.9Z"/><path d="M53.6,648.8l1.9,1.9l-1.9,1.9l-1.9,-1.9Z"/><path d="M50.3,518.9l1.9,1.9l-1.9,1.9l-1.9,-1.9Z"/></g>
<line x1="56.5" y1="517.6" x2="56.5" y2="526.4" stroke="#9b1616" stroke-width="1.1"/>
<line x1="56.5" y1="582.5" x2="56.5" y2="660.8" stroke="#9b1616" stroke-width="1.1"/>
<rect x="49.4" y="526.4" width="14.2" height="56.1" fill="none" stroke="#9b1616" stroke-width="1.1"/>
<line x1="49.4" y1="553" x2="63.6" y2="553" stroke="#9b1616" stroke-width="2"/>
<g fill="none" stroke="#3f83c2" stroke-opacity="0.47" stroke-width="0.7"><path d="M78.5,611.5h4M80.5,609.5v4"/><path d="M74.4,568.2h4M76.4,566.2v4"/><path d="M79.1,618.3h4M81.1,616.3v4"/><path d="M72,571h4M74,569v4"/><path d="M71.7,596.3h4M73.8,594.3v4"/><path d="M75.8,618.2h4M77.9,616.2v4"/><path d="M70.6,521.4h4M72.6,519.4v4"/><path d="M73.1,616.3h4M75.1,614.2v4"/><path d="M68.4,557.5h4M70.4,555.5v4"/><path d="M73,524.6h4M75,522.6v4"/><path d="M80.6,558.9h4M82.6,556.8v4"/><path d="M72.2,579.4h4M74.2,577.4v4"/><path d="M75.3,518.2h4M77.3,516.2v4"/><path d="M71.9,579.7h4M73.9,577.6v4"/><path d="M68.7,552h4M70.7,550v4"/><path d="M79,576.7h4M81,574.7v4"/><path d="M78.6,512.3h4M80.6,510.2v4"/><path d="M67.8,512.7h4M69.8,510.7v4"/><path d="M75.7,567.4h4M77.8,565.4v4"/><path d="M76.9,620.2h4M78.9,618.2v4"/><path d="M77.1,588.5h4M79.1,586.5v4"/><path d="M73.7,561.8h4M75.7,559.8v4"/><path d="M70.5,556.3h4M72.6,554.3v4"/><path d="M76.2,572.7h4M78.2,570.7v4"/><path d="M73.4,613.3h4M75.4,611.3v4"/><path d="M79.1,541.9h4M81.1,539.9v4"/><path d="M70.8,560.4h4M72.8,558.4v4"/><path d="M72.9,532.3h4M74.9,530.2v4"/><path d="M68.4,612.9h4M70.4,610.8v4"/><path d="M71.9,585.2h4M73.9,583.2v4"/><path d="M77.3,594h4M79.3,592v4"/><path d="M72.3,566.6h4M74.4,564.6v4"/><path d="M73.4,619.2h4M75.4,617.2v4"/><path d="M68.6,620h4M70.6,618v4"/><path d="M71.3,613.1h4M73.3,611.1v4"/><path d="M78.9,565.5h4M80.9,563.5v4"/><path d="M68.7,573.8h4M70.8,571.8v4"/><path d="M70.6,548.4h4M72.6,546.4v4"/><path d="M80.1,582.3h4M82.2,580.3v4"/><path d="M79.9,557.9h4M81.9,555.9v4"/><path d="M72.6,558.3h4M74.6,556.3v4"/><path d="M72,556.1h4M74,554v4"/><path d="M70.1,582.1h4M72.1,580.1v4"/><path d="M72.8,580.1h4M74.8,578.1v4"/><path d="M70.8,612.5h4M72.8,610.5v4"/><path d="M73.1,574.5h4M75.1,572.5v4"/><path d="M70.3,611.6h4M72.3,609.6v4"/><path d="M73.9,580.4h4M75.9,578.4v4"/><path d="M70,569.8h4M72,567.8v4"/><path d="M74.4,540.2h4M76.5,538.1v4"/><path d="M70.1,581.3h4M72.1,579.3v4"/><path d="M74.2,549h4M76.2,547v4"/><path d="M77.9,598.9h4M79.9,596.9v4"/><path d="M75.6,557.8h4M77.6,555.8v4"/><path d="M72,618.3h4M74,616.3v4"/><path d="M73.5,615.5h4M75.5,613.5v4"/><path d="M76.5,578.5h4M78.6,576.5v4"/><path d="M72.2,573.7h4M74.3,571.7v4"/><path d="M76.1,518.1h4M78.1,516.1v4"/><path d="M74.5,510.5h4M76.6,508.5v4"/><path d="M69.4,562.4h4M71.4,560.4v4"/><path d="M78.6,608.8h4M80.6,606.8v4"/><path d="M78.5,554.6h4M80.5,552.6v4"/><path d="M70.4,551h4M72.4,549v4"/><path d="M79.7,582.4h4M81.7,580.4v4"/><path d="M75.6,557.1h4M77.6,555.1v4"/><path d="M76.5,542.7h4M78.6,540.7v4"/><path d="M75,602.5h4M77.1,600.5v4"/><path d="M74.5,523.4h4M76.5,521.3v4"/><path d="M73.7,511.2h4M75.7,509.2v4"/><path d="M69.4,581.8h4M71.4,579.8v4"/></g>
<line x1="75.5" y1="510.4" x2="75.5" y2="546.4" stroke="#3f83c2" stroke-width="1.1"/>
<line x1="75.5" y1="583.5" x2="75.5" y2="620.8" stroke="#3f83c2" stroke-width="1.1"/>
<rect x="68.4" y="546.4" width="14.2" height="37.1" fill="none" stroke="#3f83c2" stroke-width="1.1"/>
<line x1="68.4" y1="563" x2="82.6" y2="563" stroke="#3f83c2" stroke-width="2"/>
<g fill="none" stroke="#9b1616" stroke-opacity="0.47" stroke-width="0.7"><path d="M91.7,584.3h4M93.7,582.3v4"/><path d="M93.9,628.9h4M95.9,626.9v4"/><path d="M92,574.9h4M94,572.9v4"/><path d="M98.8,564.7h4M100.8,562.7v4"/><path d="M89.3,510.8h4M91.4,508.8v4"/><path d="M96.5,511.1h4M98.5,509.1v4"/><path d="M91.4,573.5h4M93.4,571.5v4"/><path d="M95.7,578.7h4M97.7,576.7v4"/><path d="M93.8,530.5h4M95.8,528.5v4"/><path d="M99.6,588.7h4M101.6,586.7v4"/><path d="M99.5,613.6h4M101.5,611.6v4"/><path d="M87.2,572.4h4M89.2,570.4v4"/><path d="M95.5,580.9h4M97.5,578.9v4"/><path d="M88,566.7h4M90,564.7v4"/><path d="M88.1,564.2h4M90.1,562.2v4"/><path d="M88.1,620h4M90.1,618v4"/><path d="M93.4,519.5h4M95.4,517.5v4"/><path d="M98.9,638.2h4M101,636.1v4"/><path d="M86.2,636.5h4M88.2,634.5v4"/><path d="M97.7,552.9h4M99.7,550.9v4"/><path d="M90.4,609.7h4M92.4,607.7v4"/><path d="M99.6,578.8h4M101.6,576.8v4"/><path d="M87.8,554.2h4M89.8,552.2v4"/><path d="M96.9,590h4M98.9,588v4"/><path d="M86.8,556.7h4M88.8,554.7v4"/><path d="M92.1,584.9h4M94.1,582.9v4"/><path d="M98.2,651.4h4M100.2,649.3v4"/><path d="M92.6,649.2h4M94.6,647.2v4"/><path d="M85.6,562.9h4M87.6,560.9v4"/><path d="M99.4,649.8h4M101.4,647.8v4"/><path d="M90.8,583h4M92.8,581v4"/><path d="M85.5,602.1h4M87.5,600.1v4"/><path d="M90.7,576.9h4M92.8,574.9v4"/><path d="M96.6,587.1h4M98.6,585.1v4"/><path d="M98.1,554.2h4M100.1,552.2v4"/><path d="M94.3,522.1h4M96.3,520.1v4"/><path d="M88.2,536.2h4M90.3,534.2v4"/><path d="M90.8,590.3h4M92.8,588.2v4"/><path d="M87.1,577.1h4M89.1,575.1v4"/><path d="M93.7,571.5h4M95.7,569.5v4"/><path d="M86.3,620.1h4M88.3,618v4"/><path d="M91,528.7h4M93.1,526.7v4"/><path d="M94.6,608.3h4M96.7,606.3v4"/><path d="M98.4,514h4M100.4,511.9v4"/><path d="M99.5,518.3h4M101.5,516.3v4"/><path d="M96.6,568.8h4M98.6,566.8v4"/><path d="M85.8,637.8h4M87.9,635.8v4"/><path d="M96.8,593.2h4M98.9,591.2v4"/><path d="M88.7,554.4h4M90.8,552.4v4"/><path d="M89.1,650.4h4M91.1,648.4v4"/><path d="M96.2,553.2h4M98.2,551.1v4"/><path d="M95.5,593.1h4M97.5,591.1v4"/><path d="M87.6,586.1h4M89.6,584.1v4"/><path d="M98.1,542.9h4M100.1,540.8v4"/><path d="M93.3,545.7h4M95.3,543.7v4"/><path d="M93.8,630.6h4M95.9,628.6v4"/><path d="M93.1,510h4M95.2,508v4"/><path d="M85.4,569h4M87.4,567v4"/><path d="M97,544.8h4M99,542.8v4"/><path d="M94.6,557.5h4M96.7,555.5v4"/><path d="M86.9,570.3h4M88.9,568.3v4"/><path d="M86.5,510.9h4M88.6,508.9v4"/><path d="M99.4,589.2h4M101.5,587.2v4"/><path d="M89.7,563.9h4M91.8,561.8v4"/><path d="M93.6,573.1h4M95.6,571v4"/><path d="M86.4,560.4h4M88.4,558.4v4"/><path d="M96.3,580.9h4M98.4,578.9v4"/><path d="M99.5,568.5h4M101.5,566.5v4"/><path d="M96.2,606.6h4M98.2,604.6v4"/><path d="M86.1,508.6h4M88.1,506.6v4"/><path d="M98.4,602.1h4M100.4,600.1v4"/><path d="M89.5,535.3h4M91.5,533.3v4"/><path d="M96.6,558h4M98.6,556v4"/><path d="M87.6,524.7h4M89.6,522.7v4"/><path d="M94.7,592h4M96.7,590v4"/><path d="M96.1,578.4h4M98.1,576.4v4"/><path d="M85.5,543.6h4M87.5,541.6v4"/><path d="M90.4,532h4M92.4,530v4"/></g>
<line x1="94.5" y1="507.6" x2="94.5" y2="552.4" stroke="#9b1616" stroke-width="1.1"/>
<line x1="94.5" y1="594.2" x2="94.5" y2="653" stroke="#9b1616" stroke-width="1.1"/>
<rect x="87.4" y="552.4" width="14.2" height="41.8" fill="none" stroke="#9b1616" stroke-width="1.1"/>
<line x1="87.4" y1="569.6" x2="101.6" y2="569.6" stroke="#9b1616" stroke-width="2"/>
<g fill="#3f83c2" fill-opacity="0.47"><circle cx="109.1" cy="542" r="1.3"/><circle cx="108" cy="550.1" r="1.3"/><circle cx="111.8" cy="566.3" r="1.3"/><circle cx="107.4" cy="549.7" r="1.3"/><circle cx="106.4" cy="552.8" r="1.3"/><circle cx="119.1" cy="546.1" r="1.3"/><circle cx="115" cy="585.6" r="1.3"/><circle cx="118.4" cy="564.3" r="1.3"/><circle cx="119.3" cy="523.8" r="1.3"/><circle cx="119.3" cy="573.7" r="1.3"/><circle cx="110.6" cy="556.6" r="1.3"/><circle cx="114.6" cy="593.9" r="1.3"/><circle cx="106.6" cy="573" r="1.3"/><circle cx="106.8" cy="556.6" r="1.3"/><circle cx="106.7" cy="571.3" r="1.3"/><circle cx="113" cy="586" r="1.3"/><circle cx="118.6" cy="580.9" r="1.3"/><circle cx="115.7" cy="556.7" r="1.3"/><circle cx="118.3" cy="569.2" r="1.3"/><circle cx="108.6" cy="529.5" r="1.3"/><circle cx="107.2" cy="564.9" r="1.3"/><circle cx="110.5" cy="555.8" r="1.3"/><circle cx="106.9" cy="571.3" r="1.3"/><circle cx="109.4" cy="577.4" r="1.3"/><circle cx="117.7" cy="558.5" r="1.3"/><circle cx="106.9" cy="553.7" r="1.3"/><circle cx="109.5" cy="528.8" r="1.3"/><circle cx="107.6" cy="526.1" r="1.3"/><circle cx="113.2" cy="530.7" r="1.3"/><circle cx="117.1" cy="553.6" r="1.3"/><circle cx="116.7" cy="556.4" r="1.3"/><circle cx="108.8" cy="552.5" r="1.3"/><circle cx="114.9" cy="556.1" r="1.3"/><circle cx="106.4" cy="566.7" r="1.3"/><circle cx="106.1" cy="575.4" r="1.3"/><circle cx="112.3" cy="550.8" r="1.3"/><circle cx="112.6" cy="523.8" r="1.3"/><circle cx="112" cy="553.2" r="1.3"/><circle cx="110.9" cy="549.8" r="1.3"/><circle cx="113.6" cy="568.1" r="1.3"/><circle cx="116.4" cy="553.1" r="1.3"/><circle cx="118" cy="594" r="1.3"/><circle cx="113.2" cy="568.2" r="1.3"/><circle cx="118.1" cy="552" r="1.3"/><circle cx="109.5" cy="550.1" r="1.3"/><circle cx="106.7" cy="540.9" r="1.3"/><circle cx="108.6" cy="555.1" r="1.3"/><circle cx="119.8" cy="523.8" r="1.3"/><circle cx="105.8" cy="552.2" r="1.3"/><circle cx="112.4" cy="570" r="1.3"/><circle cx="112.8" cy="575.4" r="1.3"/><circle cx="117.2" cy="573.1" r="1.3"/><circle cx="115.1" cy="593.9" r="1.3"/><circle cx="112.3" cy="569.8" r="1.3"/><circle cx="109.8" cy="544.2" r="1.3"/><circle cx="114" cy="589.4" r="1.3"/><circle cx="110.8" cy="522.9" r="1.3"/><circle cx="111" cy="549.8" r="1.3"/><circle cx="108.7" cy="586.6" r="1.3"/><circle cx="110.1" cy="533.6" r="1.3"/><circle cx="116.5" cy="547.7" r="1.3"/><circle cx="111.6" cy="552.1" r="1.3"/><circle cx="109.1" cy="589.1" r="1.3"/><circle cx="114.4" cy="543.1" r="1.3"/><circle cx="111.2" cy="559.9" r="1.3"/><circle cx="109.6" cy="560.2" r="1.3"/></g>
<line x1="112.8" y1="520.5" x2="112.8" y2="548.4" stroke="#3f83c2" stroke-width="1.1"/>
<line x1="112.8" y1="569.4" x2="112.8" y2="595" stroke="#3f83c2" stroke-width="1.1"/>
<rect x="105.3" y="548.4" width="15.1" height="21" fill="none" stroke="#3f83c2" stroke-width="1.1"/>
<line x1="105.3" y1="556.8" x2="120.4" y2="556.8" stroke="#3f83c2" stroke-width="2"/>
<g fill="#9b1616" fill-opacity="0.47"><circle cx="138.7" cy="583.5" r="1.3"/><circle cx="135.2" cy="563.4" r="1.3"/><circle cx="125.5" cy="566.9" r="1.3"/><circle cx="132.6" cy="595.6" r="1.3"/><circle cx="135.1" cy="557.6" r="1.3"/><circle cx="137.5" cy="614.8" r="1.3"/><circle cx="128.5" cy="553" r="1.3"/><circle cx="136.9" cy="585.5" r="1.3"/><circle cx="136.6" cy="570.5" r="1.3"/><circle cx="126" cy="604.8" r="1.3"/><circle cx="132.8" cy="574.9" r="1.3"/><circle cx="127.1" cy="620.7" r="1.3"/><circle cx="132.6" cy="583.1" r="1.3"/><circle cx="128" cy="576.1" r="1.3"/><circle cx="131.9" cy="564.9" r="1.3"/><circle cx="133.3" cy="542.9" r="1.3"/><circle cx="135.9" cy="575.4" r="1.3"/><circle cx="134.1" cy="568.7" r="1.3"/><circle cx="138.2" cy="593" r="1.3"/><circle cx="138.1" cy="531.4" r="1.3"/><circle cx="138.2" cy="566.4" r="1.3"/><circle cx="129.5" cy="542.7" r="1.3"/><circle cx="127.6" cy="591.1" r="1.3"/><circle cx="124.9" cy="561.5" r="1.3"/><circle cx="130.4" cy="566.3" r="1.3"/><circle cx="137.9" cy="572.3" r="1.3"/><circle cx="130.6" cy="541.5" r="1.3"/><circle cx="124.6" cy="568.9" r="1.3"/><circle cx="138.2" cy="529.2" r="1.3"/><circle cx="133.5" cy="609.3" r="1.3"/><circle cx="135.4" cy="593.5" r="1.3"/><circle cx="136.2" cy="561.1" r="1.3"/><circle cx="132.8" cy="617.6" r="1.3"/><circle cx="132.1" cy="552.9" r="1.3"/><circle cx="124.4" cy="518.2" r="1.3"/><circle cx="124.4" cy="576.2" r="1.3"/><circle cx="134.6" cy="561.5" r="1.3"/><circle cx="138.3" cy="515.7" r="1.3"/><circle cx="131.9" cy="563.9" r="1.3"/><circle cx="131.2" cy="566.7" r="1.3"/><circle cx="125.6" cy="554.3" r="1.3"/><circle cx="133.3" cy="555.5" r="1.3"/><circle cx="134.8" cy="544.7" r="1.3"/><circle cx="127.1" cy="569.2" r="1.3"/><circle cx="126.6" cy="588.4" r="1.3"/><circle cx="127.7" cy="542" r="1.3"/><circle cx="132.8" cy="589.9" r="1.3"/><circle cx="135.9" cy="576.6" r="1.3"/><circle cx="133.9" cy="519" r="1.3"/><circle cx="132.7" cy="522.7" r="1.3"/><circle cx="127.8" cy="574.1" r="1.3"/><circle cx="132" cy="566.9" r="1.3"/><circle cx="127.5" cy="542.3" r="1.3"/><circle cx="134.3" cy="574.3" r="1.3"/><circle cx="128.8" cy="593.8" r="1.3"/><circle cx="127.6" cy="521.4" r="1.3"/><circle cx="138.2" cy="612" r="1.3"/><circle cx="134.7" cy="527.2" r="1.3"/><circle cx="125.6" cy="573.2" r="1.3"/><circle cx="126.5" cy="570" r="1.3"/><circle cx="129" cy="520.9" r="1.3"/><circle cx="134.2" cy="617.4" r="1.3"/><circle cx="125.4" cy="563" r="1.3"/><circle cx="125.3" cy="602.1" r="1.3"/><circle cx="136.6" cy="602.5" r="1.3"/><circle cx="135.6" cy="619.6" r="1.3"/><circle cx="135.4" cy="517.5" r="1.3"/><circle cx="126.3" cy="583.9" r="1.3"/><circle cx="125.3" cy="606.3" r="1.3"/><circle cx="136.6" cy="539.8" r="1.3"/><circle cx="126.4" cy="534.7" r="1.3"/><circle cx="124.8" cy="612.7" r="1.3"/><circle cx="134.4" cy="605.4" r="1.3"/><circle cx="133" cy="580.4" r="1.3"/><circle cx="129.9" cy="560.6" r="1.3"/><circle cx="137.2" cy="599.4" r="1.3"/></g>
<line x1="131.6" y1="515.6" x2="131.6" y2="552.4" stroke="#9b1616" stroke-width="1.1"/>
<line x1="131.6" y1="586.6" x2="131.6" y2="622" stroke="#9b1616" stroke-width="1.1"/>
<rect x="124.2" y="552.4" width="14.7" height="34.2" fill="none" stroke="#9b1616" stroke-width="1.1"/>
<line x1="124.2" y1="562" x2="138.9" y2="562" stroke="#9b1616" stroke-width="2"/>
<g fill="#3f83c2" fill-opacity="0.47"><path d="M144.5,563.6l1.7,2.9h-3.4Z"/><path d="M150,598.5l1.7,2.9h-3.4Z"/><path d="M148.9,595l1.7,2.9h-3.4Z"/><path d="M154,570.4l1.7,2.9h-3.4Z"/><path d="M150.6,543.8l1.7,2.9h-3.4Z"/><path d="M154.9,533.1l1.7,2.9h-3.4Z"/><path d="M147.7,591.4l1.7,2.9h-3.4Z"/><path d="M152.7,593l1.7,2.9h-3.4Z"/><path d="M146.5,547.8l1.7,2.9h-3.4Z"/><path d="M146.9,570.4l1.7,2.9h-3.4Z"/><path d="M157.6,548.9l1.7,2.9h-3.4Z"/><path d="M155.9,556.9l1.7,2.9h-3.4Z"/><path d="M148.6,597.6l1.7,2.9h-3.4Z"/><path d="M156.3,554.3l1.7,2.9h-3.4Z"/><path d="M156,566l1.7,2.9h-3.4Z"/><path d="M154.8,545.4l1.7,2.9h-3.4Z"/><path d="M146.8,598.7l1.7,2.9h-3.4Z"/><path d="M145.1,543l1.7,2.9h-3.4Z"/><path d="M148.2,542.4l1.7,2.9h-3.4Z"/><path d="M145.2,597.8l1.7,2.9h-3.4Z"/><path d="M154.6,522.2l1.7,2.9h-3.4Z"/><path d="M150,599.4l1.7,2.9h-3.4Z"/><path d="M155.3,569.3l1.7,2.9h-3.4Z"/><path d="M144.9,519.6l1.7,2.9h-3.4Z"/><path d="M148.5,577.1l1.7,2.9h-3.4Z"/><path d="M155.6,519.3l1.7,2.9h-3.4Z"/><path d="M148.6,532l1.7,2.9h-3.4Z"/><path d="M147.8,590.5l1.7,2.9h-3.4Z"/><path d="M153.8,571.9l1.7,2.9h-3.4Z"/><path d="M151.8,574l1.7,2.9h-3.4Z"/><path d="M149.2,593.2l1.7,2.9h-3.4Z"/><path d="M148.4,581.5l1.7,2.9h-3.4Z"/><path d="M153.2,575.3l1.7,2.9h-3.4Z"/><path d="M143.7,574l1.7,2.9h-3.4Z"/><path d="M149.4,539.3l1.7,2.9h-3.4Z"/><path d="M155,562.8l1.7,2.9h-3.4Z"/><path d="M153.9,524.4l1.7,2.9h-3.4Z"/><path d="M157.5,544.3l1.7,2.9h-3.4Z"/><path d="M153.4,558.7l1.7,2.9h-3.4Z"/><path d="M147.9,526.8l1.7,2.9h-3.4Z"/><path d="M150.4,534.2l1.7,2.9h-3.4Z"/><path d="M157.6,546.5l1.7,2.9h-3.4Z"/><path d="M156.3,580.9l1.7,2.9h-3.4Z"/><path d="M148.4,597.5l1.7,2.9h-3.4Z"/><path d="M150.4,518.4l1.7,2.9h-3.4Z"/><path d="M150.6,599.6l1.7,2.9h-3.4Z"/><path d="M154.8,593.8l1.7,2.9h-3.4Z"/><path d="M146.9,565.1l1.7,2.9h-3.4Z"/><path d="M150.6,559.9l1.7,2.9h-3.4Z"/><path d="M143.3,550.4l1.7,2.9h-3.4Z"/><path d="M154,568.4l1.7,2.9h-3.4Z"/><path d="M150.6,555.1l1.7,2.9h-3.4Z"/><path d="M156.2,565.1l1.7,2.9h-3.4Z"/><path d="M153.6,564.6l1.7,2.9h-3.4Z"/><path d="M147.1,593.7l1.7,2.9h-3.4Z"/><path d="M156.8,577.8l1.7,2.9h-3.4Z"/><path d="M144.2,550.3l1.7,2.9h-3.4Z"/><path d="M149.8,579.9l1.7,2.9h-3.4Z"/><path d="M154.2,584.6l1.7,2.9h-3.4Z"/><path d="M145.5,553.5l1.7,2.9h-3.4Z"/><path d="M147.6,565.5l1.7,2.9h-3.4Z"/><path d="M144.4,554.1l1.7,2.9h-3.4Z"/><path d="M150.5,556.9l1.7,2.9h-3.4Z"/><path d="M149.5,561.6l1.7,2.9h-3.4Z"/><path d="M150.7,600.3l1.7,2.9h-3.4Z"/><path d="M150.4,562.4l1.7,2.9h-3.4Z"/><path d="M148.7,557.9l1.7,2.9h-3.4Z"/></g>
<line x1="150.4" y1="519.4" x2="150.4" y2="549.5" stroke="#3f83c2" stroke-width="1.1"/>
<line x1="150.4" y1="578.2" x2="150.4" y2="602.4" stroke="#3f83c2" stroke-width="1.1"/>
<rect x="143" y="549.5" width="14.8" height="28.7" fill="none" stroke="#3f83c2" stroke-width="1.1"/>
<line x1="143" y1="560.4" x2="157.8" y2="560.4" stroke="#3f83c2" stroke-width="2"/>
<g fill="#9b1616" fill-opacity="0.47"><path d="M172.7,556.6l1.7,2.9h-3.4Z"/><path d="M174.2,573.5l1.7,2.9h-3.4Z"/><path d="M170,547l1.7,2.9h-3.4Z"/><path d="M169,575.8l1.7,2.9h-3.4Z"/><path d="M175.9,602.1l1.7,2.9h-3.4Z"/><path d="M172.9,539.4l1.7,2.9h-3.4Z"/><path d="M171.2,573l1.7,2.9h-3.4Z"/><path d="M170.4,526l1.7,2.9h-3.4Z"/><path d="M164.4,576.2l1.7,2.9h-3.4Z"/><path d="M164.1,590.4l1.7,2.9h-3.4Z"/><path d="M173.8,600.3l1.7,2.9h-3.4Z"/><path d="M169.7,561.5l1.7,2.9h-3.4Z"/><path d="M173.6,569.2l1.7,2.9h-3.4Z"/><path d="M163.8,580.1l1.7,2.9h-3.4Z"/><path d="M170.3,570.9l1.7,2.9h-3.4Z"/><path d="M163.1,545.5l1.7,2.9h-3.4Z"/><path d="M175,582.2l1.7,2.9h-3.4Z"/><path d="M175.7,567.7l1.7,2.9h-3.4Z"/><path d="M165.2,555.9l1.7,2.9h-3.4Z"/><path d="M165.3,525.3l1.7,2.9h-3.4Z"/><path d="M176.1,557.2l1.7,2.9h-3.4Z"/><path d="M170.1,518.4l1.7,2.9h-3.4Z"/><path d="M162.7,517.1l1.7,2.9h-3.4Z"/><path d="M168.2,574.2l1.7,2.9h-3.4Z"/><path d="M164,587.2l1.7,2.9h-3.4Z"/><path d="M164.5,556.1l1.7,2.9h-3.4Z"/><path d="M172.1,563l1.7,2.9h-3.4Z"/><path d="M163.7,566.8l1.7,2.9h-3.4Z"/><path d="M175.7,563.8l1.7,2.9h-3.4Z"/><path d="M174.5,557.2l1.7,2.9h-3.4Z"/><path d="M168.6,565.2l1.7,2.9h-3.4Z"/><path d="M171.8,554.5l1.7,2.9h-3.4Z"/><path d="M173.6,549.4l1.7,2.9h-3.4Z"/><path d="M171.1,595.2l1.7,2.9h-3.4Z"/><path d="M174.9,598.2l1.7,2.9h-3.4Z"/><path d="M162.5,566.1l1.7,2.9h-3.4Z"/><path d="M164.3,597.1l1.7,2.9h-3.4Z"/><path d="M169.6,575.8l1.7,2.9h-3.4Z"/><path d="M164.4,573.1l1.7,2.9h-3.4Z"/><path d="M172.3,609.5l1.7,2.9h-3.4Z"/><path d="M170.4,517.6l1.7,2.9h-3.4Z"/><path d="M175.9,552.1l1.7,2.9h-3.4Z"/><path d="M167.6,591.3l1.7,2.9h-3.4Z"/><path d="M173.6,579.1l1.7,2.9h-3.4Z"/><path d="M172.1,611.5l1.7,2.9h-3.4Z"/><path d="M165.9,575l1.7,2.9h-3.4Z"/><path d="M169.2,547.9l1.7,2.9h-3.4Z"/><path d="M163.3,579.6l1.7,2.9h-3.4Z"/><path d="M170.4,517l1.7,2.9h-3.4Z"/><path d="M175.6,594.6l1.7,2.9h-3.4Z"/><path d="M163.6,575.6l1.7,2.9h-3.4Z"/><path d="M174.7,557l1.7,2.9h-3.4Z"/><path d="M165.8,574.1l1.7,2.9h-3.4Z"/><path d="M169.3,584.7l1.7,2.9h-3.4Z"/><path d="M166.2,539.5l1.7,2.9h-3.4Z"/><path d="M175.7,579.6l1.7,2.9h-3.4Z"/><path d="M168.7,608.4l1.7,2.9h-3.4Z"/><path d="M169,551.7l1.7,2.9h-3.4Z"/><path d="M164.2,574.8l1.7,2.9h-3.4Z"/><path d="M169.9,553.3l1.7,2.9h-3.4Z"/><path d="M167.6,538.8l1.7,2.9h-3.4Z"/><path d="M162.6,576.6l1.7,2.9h-3.4Z"/><path d="M174.4,556.2l1.7,2.9h-3.4Z"/><path d="M168.9,531.7l1.7,2.9h-3.4Z"/><path d="M175.6,592.1l1.7,2.9h-3.4Z"/><path d="M173.9,557.6l1.7,2.9h-3.4Z"/><path d="M169.4,559l1.7,2.9h-3.4Z"/><path d="M175.5,558.4l1.7,2.9h-3.4Z"/><path d="M165.8,575.8l1.7,2.9h-3.4Z"/><path d="M171,549.9l1.7,2.9h-3.4Z"/><path d="M165.2,608.8l1.7,2.9h-3.4Z"/><path d="M166.7,566.9l1.7,2.9h-3.4Z"/><path d="M171.5,564.5l1.7,2.9h-3.4Z"/><path d="M165,568.6l1.7,2.9h-3.4Z"/><path d="M163.9,568.4l1.7,2.9h-3.4Z"/></g>
<line x1="169.3" y1="514.2" x2="169.3" y2="555.5" stroke="#9b1616" stroke-width="1.1"/>
<line x1="169.3" y1="583.5" x2="169.3" y2="613.5" stroke="#9b1616" stroke-width="1.1"/>
<rect x="162" y="555.5" width="14.7" height="28" fill="none" stroke="#9b1616" stroke-width="1.1"/>
<line x1="162" y1="565.2" x2="176.7" y2="565.2" stroke="#9b1616" stroke-width="2"/>
<rect x="26" y="499.4" width="154.8" height="195.6" fill="none" stroke="#4a4a4a" stroke-width="0.8"/>
<line x1="185.7" y1="651.1" x2="264.2" y2="651.1" stroke="#f2f2f2" stroke-width="0.5"/>
<line x1="185.7" y1="609.5" x2="264.2" y2="609.5" stroke="#f2f2f2" stroke-width="0.5"/>
<line x1="185.7" y1="567.8" x2="264.2" y2="567.8" stroke="#f2f2f2" stroke-width="0.5"/>
<line x1="185.7" y1="526.1" x2="264.2" y2="526.1" stroke="#f2f2f2" stroke-width="0.5"/>
<line x1="185.7" y1="672" x2="264.2" y2="672" stroke="#e6e6e6" stroke-width="0.6"/>
<line x1="185.7" y1="630.3" x2="264.2" y2="630.3" stroke="#e6e6e6" stroke-width="0.6"/>
<line x1="185.7" y1="588.6" x2="264.2" y2="588.6" stroke="#e6e6e6" stroke-width="0.6"/>
<line x1="185.7" y1="546.9" x2="264.2" y2="546.9" stroke="#e6e6e6" stroke-width="0.6"/>
<line x1="185.7" y1="505.2" x2="264.2" y2="505.2" stroke="#e6e6e6" stroke-width="0.6"/>
<line x1="196.5" y1="499.4" x2="196.5" y2="695" stroke="#e6e6e6" stroke-width="0.6"/>
<line x1="215.6" y1="499.4" x2="215.6" y2="695" stroke="#e6e6e6" stroke-width="0.6"/>
<line x1="234.6" y1="499.4" x2="234.6" y2="695" stroke="#e6e6e6" stroke-width="0.6"/>
<line x1="253.7" y1="499.4" x2="253.7" y2="695" stroke="#e6e6e6" stroke-width="0.6"/>
<g fill="#3f83c2" fill-opacity="0.47"><circle cx="202.5" cy="611.2" r="1.3"/><circle cx="197.4" cy="582.8" r="1.3"/><circle cx="203.3" cy="599.7" r="1.3"/><circle cx="190.7" cy="595.1" r="1.3"/><circle cx="203.3" cy="588.4" r="1.3"/><circle cx="194.1" cy="593.4" r="1.3"/><circle cx="193.9" cy="577.1" r="1.3"/><circle cx="195.9" cy="613.1" r="1.3"/><circle cx="202.8" cy="607.9" r="1.3"/><circle cx="192.1" cy="582.6" r="1.3"/><circle cx="198" cy="554.2" r="1.3"/><circle cx="192.8" cy="613.5" r="1.3"/><circle cx="192.3" cy="550.6" r="1.3"/><circle cx="198.9" cy="579.4" r="1.3"/><circle cx="199.1" cy="654.3" r="1.3"/><circle cx="195.4" cy="551.9" r="1.3"/><circle cx="196.7" cy="552.1" r="1.3"/><circle cx="197" cy="605.9" r="1.3"/><circle cx="203.5" cy="601.9" r="1.3"/><circle cx="191.1" cy="557.5" r="1.3"/><circle cx="199" cy="652.8" r="1.3"/><circle cx="189.7" cy="614.2" r="1.3"/><circle cx="201.2" cy="631.5" r="1.3"/><circle cx="201.8" cy="631.6" r="1.3"/><circle cx="190.1" cy="585.9" r="1.3"/><circle cx="194.8" cy="600.7" r="1.3"/><circle cx="191.2" cy="595.8" r="1.3"/><circle cx="191.6" cy="569.2" r="1.3"/><circle cx="200.8" cy="588.3" r="1.3"/><circle cx="197.5" cy="594.2" r="1.3"/><circle cx="196" cy="599.6" r="1.3"/><circle cx="191.3" cy="623.9" r="1.3"/><circle cx="194.4" cy="581.4" r="1.3"/><circle cx="195.5" cy="638.1" r="1.3"/><circle cx="203.3" cy="586.3" r="1.3"/><circle cx="202.6" cy="550.5" r="1.3"/><circle cx="190.5" cy="552.6" r="1.3"/><circle cx="198.6" cy="587.7" r="1.3"/><circle cx="196.7" cy="594.1" r="1.3"/><circle cx="195.5" cy="647.8" r="1.3"/><circle cx="197.8" cy="550.8" r="1.3"/><circle cx="199.9" cy="614.1" r="1.3"/><circle cx="193.4" cy="646.2" r="1.3"/><circle cx="196.8" cy="586.5" r="1.3"/><circle cx="192.6" cy="564.3" r="1.3"/><circle cx="195.8" cy="592.7" r="1.3"/><circle cx="199.4" cy="598.8" r="1.3"/><circle cx="197" cy="564.4" r="1.3"/><circle cx="192.9" cy="595.8" r="1.3"/><circle cx="195.3" cy="551.5" r="1.3"/><circle cx="190.1" cy="553.2" r="1.3"/><circle cx="198.3" cy="592.8" r="1.3"/><circle cx="192.9" cy="605" r="1.3"/><circle cx="197.4" cy="612.2" r="1.3"/><circle cx="197.8" cy="587" r="1.3"/><circle cx="195.6" cy="552.5" r="1.3"/><circle cx="203.5" cy="556.7" r="1.3"/><circle cx="190.4" cy="646.2" r="1.3"/><circle cx="203" cy="557.9" r="1.3"/><circle cx="201.3" cy="590.1" r="1.3"/><circle cx="191.6" cy="609.3" r="1.3"/><circle cx="191.2" cy="590.4" r="1.3"/><circle cx="202.4" cy="558.4" r="1.3"/><circle cx="200.9" cy="554.3" r="1.3"/><circle cx="191.5" cy="591.6" r="1.3"/><circle cx="197.8" cy="560.9" r="1.3"/></g>
<line x1="196.5" y1="550.2" x2="196.5" y2="585.1" stroke="#3f83c2" stroke-width="1.1"/>
<line x1="196.5" y1="614.4" x2="196.5" y2="654.6" stroke="#3f83c2" stroke-width="1.1"/>
<rect x="189.3" y="585.1" width="14.4" height="29.3" fill="none" stroke="#3f83c2" stroke-width="1.1"/>
<line x1="189.3" y1="601.7" x2="203.7" y2="601.7" stroke="#3f83c2" stroke-width="2"/>
<g fill="#9b1616" fill-opacity="0.47"><circle cx="221.6" cy="641.8" r="1.3"/><circle cx="219.5" cy="618" r="1.3"/><circle cx="211.1" cy="631.8" r="1.3"/><circle cx="216.2" cy="576" r="1.3"/><circle cx="215.4" cy="571.7" r="1.3"/><circle cx="210.8" cy="609.6" r="1.3"/><circle cx="218.3" cy="585.3" r="1.3"/><circle cx="221.5" cy="629.3" r="1.3"/><circle cx="213.9" cy="574.5" r="1.3"/><circle cx="218.7" cy="638.7" r="1.3"/><circle cx="213.3" cy="603.5" r="1.3"/><circle cx="219" cy="600.9" r="1.3"/><circle cx="219.4" cy="573.3" r="1.3"/><circle cx="218.1" cy="644.8" r="1.3"/><circle cx="213.3" cy="592.3" r="1.3"/><circle cx="215.7" cy="618.2" r="1.3"/><circle cx="211.5" cy="651.6" r="1.3"/><circle cx="219.6" cy="593.6" r="1.3"/><circle cx="212" cy="576.3" r="1.3"/><circle cx="221" cy="611" r="1.3"/><circle cx="214.2" cy="637" r="1.3"/><circle cx="210.8" cy="618.6" r="1.3"/><circle cx="221.4" cy="598.6" r="1.3"/><circle cx="221" cy="587.2" r="1.3"/><circle cx="219.3" cy="596" r="1.3"/><circle cx="221.2" cy="593.9" r="1.3"/><circle cx="216.7" cy="601.9" r="1.3"/><circle cx="213.8" cy="591.1" r="1.3"/><circle cx="213.5" cy="590.8" r="1.3"/><circle cx="217.1" cy="583.3" r="1.3"/><circle cx="217.9" cy="591.1" r="1.3"/><circle cx="220.5" cy="572.5" r="1.3"/><circle cx="216.4" cy="581.2" r="1.3"/><circle cx="212.8" cy="591.5" r="1.3"/><circle cx="209.9" cy="639.8" r="1.3"/><circle cx="214.1" cy="599.5" r="1.3"/><circle cx="209.8" cy="616.5" r="1.3"/><circle cx="213" cy="569.4" r="1.3"/><circle cx="215.6" cy="608.7" r="1.3"/><circle cx="218.4" cy="578.6" r="1.3"/><circle cx="217.7" cy="590.9" r="1.3"/><circle cx="210.7" cy="607.8" r="1.3"/><circle cx="210.5" cy="589.5" r="1.3"/><circle cx="221.7" cy="657.6" r="1.3"/><circle cx="218.1" cy="587.6" r="1.3"/><circle cx="210.8" cy="616.6" r="1.3"/><circle cx="214.7" cy="602.3" r="1.3"/><circle cx="218.4" cy="576.3" r="1.3"/><circle cx="209.8" cy="605.7" r="1.3"/><circle cx="211.3" cy="606.1" r="1.3"/><circle cx="216.8" cy="614.9" r="1.3"/><circle cx="217.1" cy="585.1" r="1.3"/><circle cx="222.3" cy="634" r="1.3"/><circle cx="209.8" cy="583.2" r="1.3"/><circle cx="221.1" cy="591.2" r="1.3"/><circle cx="222.5" cy="590.6" r="1.3"/><circle cx="213.3" cy="605.8" r="1.3"/><circle cx="218.3" cy="595.5" r="1.3"/><circle cx="219.9" cy="616.9" r="1.3"/><circle cx="220.9" cy="601.3" r="1.3"/><circle cx="208.8" cy="602.1" r="1.3"/><circle cx="209.1" cy="641.1" r="1.3"/><circle cx="219.8" cy="595.9" r="1.3"/><circle cx="217.6" cy="650.3" r="1.3"/><circle cx="218.5" cy="580" r="1.3"/><circle cx="212.5" cy="574.2" r="1.3"/><circle cx="219.5" cy="618.5" r="1.3"/><circle cx="216.3" cy="656.9" r="1.3"/><circle cx="222.1" cy="578.1" r="1.3"/><circle cx="217" cy="623.6" r="1.3"/><circle cx="222.1" cy="617.4" r="1.3"/><circle cx="210.7" cy="587" r="1.3"/><circle cx="221" cy="619.9" r="1.3"/><circle cx="218.1" cy="614.4" r="1.3"/><circle cx="221.1" cy="627.5" r="1.3"/><circle cx="213" cy="591.2" r="1.3"/></g>
<line x1="215.3" y1="568" x2="215.3" y2="590.5" stroke="#9b1616" stroke-width="1.1"/>
<line x1="215.3" y1="619.3" x2="215.3" y2="659.5" stroke="#9b1616" stroke-width="1.1"/>
<rect x="208" y="590.5" width="14.7" height="28.8" fill="none" stroke="#9b1616" stroke-width="1.1"/>
<line x1="208" y1="605.4" x2="222.7" y2="605.4" stroke="#9b1616" stroke-width="2"/>
<g fill="#3f83c2" fill-opacity="0.47"><path d="M236.1,580.3l1.7,2.9h-3.4Z"/><path d="M231.4,582.4l1.7,2.9h-3.4Z"/><path d="M240.2,600.9l1.7,2.9h-3.4Z"/><path d="M238.6,616.8l1.7,2.9h-3.4Z"/><path d="M238.8,601.1l1.7,2.9h-3.4Z"/><path d="M240.5,561.5l1.7,2.9h-3.4Z"/><path d="M229.2,630.2l1.7,2.9h-3.4Z"/><path d="M233.7,574.5l1.7,2.9h-3.4Z"/><path d="M231.2,601.8l1.7,2.9h-3.4Z"/><path d="M237.2,610.7l1.7,2.9h-3.4Z"/><path d="M230.3,584l1.7,2.9h-3.4Z"/><path d="M227.5,630.7l1.7,2.9h-3.4Z"/><path d="M232.3,630.7l1.7,2.9h-3.4Z"/><path d="M237.7,587l1.7,2.9h-3.4Z"/><path d="M229.4,569.6l1.7,2.9h-3.4Z"/><path d="M238.5,569.3l1.7,2.9h-3.4Z"/><path d="M232.2,596.1l1.7,2.9h-3.4Z"/><path d="M236.3,565l1.7,2.9h-3.4Z"/><path d="M235.5,587.7l1.7,2.9h-3.4Z"/><path d="M227.2,589.2l1.7,2.9h-3.4Z"/><path d="M235.1,575.3l1.7,2.9h-3.4Z"/><path d="M238.3,606.9l1.7,2.9h-3.4Z"/><path d="M238.5,599.5l1.7,2.9h-3.4Z"/><path d="M236.8,616.7l1.7,2.9h-3.4Z"/><path d="M229.6,627.4l1.7,2.9h-3.4Z"/><path d="M233.4,571.8l1.7,2.9h-3.4Z"/><path d="M237.5,580.9l1.7,2.9h-3.4Z"/><path d="M229.9,570.8l1.7,2.9h-3.4Z"/><path d="M241.3,561.6l1.7,2.9h-3.4Z"/><path d="M236.5,576.4l1.7,2.9h-3.4Z"/><path d="M239.4,589.1l1.7,2.9h-3.4Z"/><path d="M236.5,563.6l1.7,2.9h-3.4Z"/><path d="M228.1,590.2l1.7,2.9h-3.4Z"/><path d="M235.1,607.8l1.7,2.9h-3.4Z"/><path d="M239.7,575.5l1.7,2.9h-3.4Z"/><path d="M228.4,584.6l1.7,2.9h-3.4Z"/><path d="M234.2,580.6l1.7,2.9h-3.4Z"/><path d="M233.8,585.8l1.7,2.9h-3.4Z"/><path d="M237.6,597.7l1.7,2.9h-3.4Z"/><path d="M227.3,583.9l1.7,2.9h-3.4Z"/><path d="M237.2,581.1l1.7,2.9h-3.4Z"/><path d="M227.7,609.5l1.7,2.9h-3.4Z"/><path d="M232.8,577.2l1.7,2.9h-3.4Z"/><path d="M240.8,580.3l1.7,2.9h-3.4Z"/><path d="M238.2,568l1.7,2.9h-3.4Z"/><path d="M233,563.1l1.7,2.9h-3.4Z"/><path d="M235.2,572.2l1.7,2.9h-3.4Z"/><path d="M230.7,592.5l1.7,2.9h-3.4Z"/><path d="M232.5,605.4l1.7,2.9h-3.4Z"/><path d="M236.2,603.3l1.7,2.9h-3.4Z"/><path d="M229,617.8l1.7,2.9h-3.4Z"/><path d="M237.6,595.9l1.7,2.9h-3.4Z"/><path d="M236.6,594.2l1.7,2.9h-3.4Z"/><path d="M231.8,568.1l1.7,2.9h-3.4Z"/><path d="M236.8,562.2l1.7,2.9h-3.4Z"/><path d="M231.6,597.8l1.7,2.9h-3.4Z"/><path d="M237.7,606.6l1.7,2.9h-3.4Z"/><path d="M227.5,601.3l1.7,2.9h-3.4Z"/></g>
<line x1="234.3" y1="561.5" x2="234.3" y2="580.2" stroke="#3f83c2" stroke-width="1.1"/>
<line x1="234.3" y1="604.6" x2="234.3" y2="636.3" stroke="#3f83c2" stroke-width="1.1"/>
<rect x="227" y="580.2" width="14.7" height="24.4" fill="none" stroke="#3f83c2" stroke-width="1.1"/>
<line x1="227" y1="588.8" x2="241.7" y2="588.8" stroke="#3f83c2" stroke-width="2"/>
<g fill="#9b1616" fill-opacity="0.47"><path d="M251.9,558.8l1.7,2.9h-3.4Z"/><path d="M253.8,557.3l1.7,2.9h-3.4Z"/><path d="M251.8,604.5l1.7,2.9h-3.4Z"/><path d="M260.2,585.6l1.7,2.9h-3.4Z"/><path d="M258.2,596.3l1.7,2.9h-3.4Z"/><path d="M250.3,599.1l1.7,2.9h-3.4Z"/><path d="M252.7,580.9l1.7,2.9h-3.4Z"/><path d="M257.2,565.5l1.7,2.9h-3.4Z"/><path d="M253.7,583.7l1.7,2.9h-3.4Z"/><path d="M259.2,603.7l1.7,2.9h-3.4Z"/><path d="M252.2,594.1l1.7,2.9h-3.4Z"/><path d="M259.4,591.1l1.7,2.9h-3.4Z"/><path d="M256.5,594.7l1.7,2.9h-3.4Z"/><path d="M247.8,603.4l1.7,2.9h-3.4Z"/><path d="M246.5,598l1.7,2.9h-3.4Z"/><path d="M253.1,583l1.7,2.9h-3.4Z"/><path d="M249.5,583.6l1.7,2.9h-3.4Z"/><path d="M249.1,582.1l1.7,2.9h-3.4Z"/><path d="M252.3,575.2l1.7,2.9h-3.4Z"/><path d="M258.3,585.9l1.7,2.9h-3.4Z"/><path d="M247.7,598.7l1.7,2.9h-3.4Z"/><path d="M247.7,556.6l1.7,2.9h-3.4Z"/><path d="M254.7,597.5l1.7,2.9h-3.4Z"/><path d="M248.9,566.9l1.7,2.9h-3.4Z"/><path d="M254.7,587l1.7,2.9h-3.4Z"/><path d="M255.5,586.8l1.7,2.9h-3.4Z"/><path d="M253.4,600.2l1.7,2.9h-3.4Z"/><path d="M253.6,582.7l1.7,2.9h-3.4Z"/><path d="M252.2,616.7l1.7,2.9h-3.4Z"/><path d="M259.1,579.3l1.7,2.9h-3.4Z"/><path d="M248.2,559.9l1.7,2.9h-3.4Z"/><path d="M246.5,574.9l1.7,2.9h-3.4Z"/><path d="M251.4,597.7l1.7,2.9h-3.4Z"/><path d="M248.8,617.5l1.7,2.9h-3.4Z"/><path d="M248.9,574.7l1.7,2.9h-3.4Z"/><path d="M259.2,618.1l1.7,2.9h-3.4Z"/><path d="M251.6,556.5l1.7,2.9h-3.4Z"/><path d="M252,625.2l1.7,2.9h-3.4Z"/><path d="M259.9,611l1.7,2.9h-3.4Z"/><path d="M246.8,635.8l1.7,2.9h-3.4Z"/><path d="M247.3,597.2l1.7,2.9h-3.4Z"/><path d="M257.5,563.4l1.7,2.9h-3.4Z"/><path d="M254.9,562.7l1.7,2.9h-3.4Z"/><path d="M248.7,559.5l1.7,2.9h-3.4Z"/><path d="M249.3,594.3l1.7,2.9h-3.4Z"/><path d="M248.5,582.4l1.7,2.9h-3.4Z"/><path d="M251,575.9l1.7,2.9h-3.4Z"/><path d="M251.9,561l1.7,2.9h-3.4Z"/><path d="M251.7,590.9l1.7,2.9h-3.4Z"/><path d="M251.7,601.8l1.7,2.9h-3.4Z"/><path d="M249.5,604.3l1.7,2.9h-3.4Z"/><path d="M247.7,580.4l1.7,2.9h-3.4Z"/><path d="M249.8,620.7l1.7,2.9h-3.4Z"/><path d="M251.6,604.5l1.7,2.9h-3.4Z"/><path d="M255.3,559.5l1.7,2.9h-3.4Z"/><path d="M248.4,620.1l1.7,2.9h-3.4Z"/></g>
<line x1="253.4" y1="555.9" x2="253.4" y2="581.5" stroke="#9b1616" stroke-width="1.1"/>
<line x1="253.4" y1="607" x2="253.4" y2="637.6" stroke="#9b1616" stroke-width="1.1"/>
<rect x="245.9" y="581.5" width="15.1" height="25.5" fill="none" stroke="#9b1616" stroke-width="1.1"/>
<line x1="245.9" y1="594.9" x2="261" y2="594.9" stroke="#9b1616" stroke-width="2"/>
<rect x="185.7" y="499.4" width="78.5" height="195.6" fill="none" stroke="#4a4a4a" stroke-width="0.8"/>
<text x="21.6" y="673.5" font-size="6.6" text-anchor="end" fill="#4d4d4d">1</text>
<line x1="24" y1="672" x2="26" y2="672" stroke="#4d4d4d" stroke-width="0.5"/>
<text x="21.6" y="631.8" font-size="6.6" text-anchor="end" fill="#4d4d4d">2</text>
<line x1="24" y1="630.3" x2="26" y2="630.3" stroke="#4d4d4d" stroke-width="0.5"/>
<text x="21.6" y="590.1" font-size="6.6" text-anchor="end" fill="#4d4d4d">3</text>
<line x1="24" y1="588.6" x2="26" y2="588.6" stroke="#4d4d4d" stroke-width="0.5"/>
<text x="21.6" y="548.4" font-size="6.6" text-anchor="end" fill="#4d4d4d">4</text>
<line x1="24" y1="546.9" x2="26" y2="546.9" stroke="#4d4d4d" stroke-width="0.5"/>
<text x="21.6" y="506.7" font-size="6.6" text-anchor="end" fill="#4d4d4d">5</text>
<line x1="24" y1="505.2" x2="26" y2="505.2" stroke="#4d4d4d" stroke-width="0.5"/>
<line x1="37.4" y1="695" x2="37.4" y2="696.8" stroke="#4d4d4d" stroke-width="0.5"/>
<text x="32.2" y="704.3" font-size="5.4" text-anchor="start" fill="#4d4d4d">Interv.</text>
<text x="32.2" y="710.9" font-size="5.4" text-anchor="start" fill="#4d4d4d">Tri2</text>
<line x1="56.5" y1="695" x2="56.5" y2="696.8" stroke="#4d4d4d" stroke-width="0.5"/>
<text x="51.2" y="704.3" font-size="5.4" text-anchor="start" fill="#4d4d4d">Contr.</text>
<text x="51.2" y="710.9" font-size="5.4" text-anchor="start" fill="#4d4d4d">Tri2</text>
<line x1="75.5" y1="695" x2="75.5" y2="696.8" stroke="#4d4d4d" stroke-width="0.5"/>
<text x="70.3" y="704.3" font-size="5.4" text-anchor="start" fill="#4d4d4d">Interv.</text>
<text x="70.3" y="710.9" font-size="5.4" text-anchor="start" fill="#4d4d4d">Tri3</text>
<line x1="94.6" y1="695" x2="94.6" y2="696.8" stroke="#4d4d4d" stroke-width="0.5"/>
<text x="89.4" y="704.3" font-size="5.4" text-anchor="start" fill="#4d4d4d">Contr.</text>
<text x="89.4" y="710.9" font-size="5.4" text-anchor="start" fill="#4d4d4d">Tri3</text>
<line x1="113.6" y1="695" x2="113.6" y2="696.8" stroke="#4d4d4d" stroke-width="0.5"/>
<text x="108.4" y="704.3" font-size="5.4" text-anchor="start" fill="#4d4d4d">Interv.</text>
<text x="108.4" y="710.9" font-size="5.4" text-anchor="start" fill="#4d4d4d">Pn12</text>
<line x1="132.7" y1="695" x2="132.7" y2="696.8" stroke="#4d4d4d" stroke-width="0.5"/>
<text x="127.5" y="704.3" font-size="5.4" text-anchor="start" fill="#4d4d4d">Contr.</text>
<text x="127.5" y="710.9" font-size="5.4" text-anchor="start" fill="#4d4d4d">Pn12</text>
<line x1="151.7" y1="695" x2="151.7" y2="696.8" stroke="#4d4d4d" stroke-width="0.5"/>
<text x="146.5" y="704.3" font-size="5.4" text-anchor="start" fill="#4d4d4d">Interv.</text>
<text x="146.5" y="710.9" font-size="5.4" text-anchor="start" fill="#4d4d4d">Pn56</text>
<line x1="170.8" y1="695" x2="170.8" y2="696.8" stroke="#4d4d4d" stroke-width="0.5"/>
<text x="165.6" y="704.3" font-size="5.4" text-anchor="start" fill="#4d4d4d">Contr.</text>
<text x="165.6" y="710.9" font-size="5.4" text-anchor="start" fill="#4d4d4d">Pn56</text>
<line x1="196.5" y1="695" x2="196.5" y2="696.8" stroke="#4d4d4d" stroke-width="0.5"/>
<text x="191.3" y="704.3" font-size="5.4" text-anchor="start" fill="#4d4d4d">Interv.</text>
<text x="191.3" y="710.9" font-size="5.4" text-anchor="start" fill="#4d4d4d">Pn12</text>
<line x1="215.6" y1="695" x2="215.6" y2="696.8" stroke="#4d4d4d" stroke-width="0.5"/>
<text x="210.4" y="704.3" font-size="5.4" text-anchor="start" fill="#4d4d4d">Contr.</text>
<text x="210.4" y="710.9" font-size="5.4" text-anchor="start" fill="#4d4d4d">Pn12</text>
<line x1="234.6" y1="695" x2="234.6" y2="696.8" stroke="#4d4d4d" stroke-width="0.5"/>
<text x="229.4" y="704.3" font-size="5.4" text-anchor="start" fill="#4d4d4d">Interv.</text>
<text x="229.4" y="710.9" font-size="5.4" text-anchor="start" fill="#4d4d4d">Pn56</text>
<line x1="253.7" y1="695" x2="253.7" y2="696.8" stroke="#4d4d4d" stroke-width="0.5"/>
<text x="248.5" y="704.3" font-size="5.4" text-anchor="start" fill="#4d4d4d">Contr.</text>
<text x="248.5" y="710.9" font-size="5.4" text-anchor="start" fill="#4d4d4d">Pn56</text>
<text transform="translate(9.4,589) rotate(-90)" x="0" y="2.8" font-size="8.4" text-anchor="middle" fill="#000">Gene richness (x 10<tspan font-size="5" dy="-3">4</tspan><tspan dy="3">)</tspan></text>
<g fill="none" stroke="#555555" stroke-opacity="1.0" stroke-width="0.65"><path d="M274.6,531.8l1.7,1.7l-1.7,1.7l-1.7,-1.7Z"/></g>
<text x="286.8" y="536" font-size="7" text-anchor="start" fill="#1a1a1a">Tri2</text>
<g fill="none" stroke="#555555" stroke-opacity="1.0" stroke-width="0.7"><path d="M272.7,549.6h3.8M274.6,547.7v3.8"/></g>
<text x="286.8" y="552.1" font-size="7" text-anchor="start" fill="#1a1a1a">Tri3</text>
<g fill="#555555" fill-opacity="1.0"><circle cx="274.6" cy="564.4" r="1.2"/></g>
<text x="286.8" y="566.9" font-size="7" text-anchor="start" fill="#1a1a1a">Pn12</text>
<g fill="#555555" fill-opacity="1.0"><path d="M274.6,577.9l1.6,2.8h-3.2Z"/></g>
<text x="286.8" y="582" font-size="7" text-anchor="start" fill="#1a1a1a">Pn56</text>
<line x1="274.4" y1="627.9" x2="274.4" y2="639.9" stroke="#3f83c2" stroke-width="0.9"/>
<rect x="268.3" y="630" width="12.2" height="7.8" fill="#fff" stroke="#3f83c2" stroke-width="1.1"/>
<line x1="268.3" y1="633.9" x2="280.5" y2="633.9" stroke="#3f83c2" stroke-width="1.4"/>
<text x="286.8" y="636.4" font-size="7" text-anchor="start" fill="#1a1a1a">Intervention</text>
<line x1="274.4" y1="644.2" x2="274.4" y2="656.2" stroke="#9b1616" stroke-width="0.9"/>
<rect x="268.3" y="646.3" width="12.2" height="7.8" fill="#fff" stroke="#9b1616" stroke-width="1.1"/>
<line x1="268.3" y1="650.2" x2="280.5" y2="650.2" stroke="#9b1616" stroke-width="1.4"/>
<text x="286.8" y="652.7" font-size="7" text-anchor="start" fill="#1a1a1a">Control</text>
<circle cx="36" cy="351" r="1.7" fill="#3f83c2" fill-opacity="0.22"/>
<circle cx="72" cy="344" r="1.7" fill="#3f83c2" fill-opacity="0.22"/>
<circle cx="75" cy="344" r="1.7" fill="#3f83c2" fill-opacity="0.22"/>
<circle cx="89" cy="342.4" r="1.7" fill="#9b1616" fill-opacity="0.22"/>
<circle cx="101" cy="341.6" r="1.7" fill="#9b1616" fill-opacity="0.22"/>
<circle cx="93" cy="363" r="1.7" fill="#9b1616" fill-opacity="0.22"/>
<circle cx="114" cy="355.6" r="1.7" fill="#3f83c2" fill-opacity="0.22"/>
<circle cx="170" cy="361.6" r="1.7" fill="#9b1616" fill-opacity="0.22"/>
<circle cx="172" cy="366" r="1.7" fill="#9b1616" fill-opacity="0.22"/>
<circle cx="197.6" cy="357.6" r="1.7" fill="#3f83c2" fill-opacity="0.22"/>
<circle cx="216.4" cy="355" r="1.7" fill="#9b1616" fill-opacity="0.22"/>
<circle cx="209.6" cy="441" r="1.7" fill="#9b1616" fill-opacity="0.22"/>
<circle cx="216.4" cy="441" r="1.7" fill="#9b1616" fill-opacity="0.22"/>
<circle cx="254.4" cy="438.4" r="1.7" fill="#9b1616" fill-opacity="0.22"/>
<circle cx="38.3" cy="589.2" r="1.7" fill="#3f83c2" fill-opacity="0.22"/>
<circle cx="52" cy="617.4" r="1.7" fill="#9b1616" fill-opacity="0.22"/>
<circle cx="63.6" cy="612.8" r="1.7" fill="#9b1616" fill-opacity="0.22"/>
<circle cx="58" cy="660.8" r="1.7" fill="#9b1616" fill-opacity="0.22"/>
<circle cx="74.7" cy="681" r="1.7" fill="#3f83c2" fill-opacity="0.22"/>
<circle cx="76.7" cy="686" r="1.7" fill="#3f83c2" fill-opacity="0.22"/>
<circle cx="93.8" cy="685" r="1.7" fill="#9b1616" fill-opacity="0.22"/>
<circle cx="93.2" cy="635" r="1.7" fill="#9b1616" fill-opacity="0.22"/>
<circle cx="113" cy="625.5" r="1.7" fill="#3f83c2" fill-opacity="0.22"/>
<circle cx="118" cy="627.5" r="1.7" fill="#3f83c2" fill-opacity="0.22"/>
<circle cx="143" cy="628.7" r="1.7" fill="#3f83c2" fill-opacity="0.22"/>
<circle cx="150.4" cy="628.7" r="1.7" fill="#3f83c2" fill-opacity="0.22"/>
<circle cx="169.3" cy="509.3" r="1.7" fill="#9b1616" fill-opacity="0.22"/>
<circle cx="196.6" cy="662" r="1.7" fill="#3f83c2" fill-opacity="0.22"/>
<circle cx="211.2" cy="672.4" r="1.7" fill="#9b1616" fill-opacity="0.22"/>
<circle cx="215.4" cy="672.4" r="1.7" fill="#9b1616" fill-opacity="0.22"/>
<circle cx="234.1" cy="658.3" r="1.7" fill="#3f83c2" fill-opacity="0.22"/>
<circle cx="233.7" cy="669.8" r="1.7" fill="#3f83c2" fill-opacity="0.22"/>
<g fill="none" stroke="#3f83c2" stroke-opacity="0.5" stroke-width="0.65"><path d="M35.7,350l1.8,1.8l-1.8,1.8l-1.8,-1.8Z"/><path d="M39.6,587.8l1.8,1.8l-1.8,1.8l-1.8,-1.8Z"/></g>
<g fill="none" stroke="#3f83c2" stroke-opacity="0.5" stroke-width="0.7"><path d="M69.9,343.7h3.9M71.9,341.7v3.9"/><path d="M72,343.2h3.9M74,341.2v3.9"/><path d="M71.9,681.3h3.9M73.8,679.4v3.9"/><path d="M73.8,685.7h3.9M75.8,683.7v3.9"/></g>
<g fill="none" stroke="#9b1616" stroke-opacity="0.5" stroke-width="0.7"><path d="M88.5,343h3.9M90.5,341v3.9"/><path d="M99.5,341.3h3.9M101.5,339.3v3.9"/><path d="M90.9,362.4h3.9M92.8,360.4v3.9"/><path d="M92.5,685h3.9M94.5,683v3.9"/><path d="M89.9,635.7h3.9M91.8,633.7v3.9"/></g>
<g fill="#3f83c2" fill-opacity="0.5"><circle cx="113.4" cy="356" r="1.3"/><circle cx="196.9" cy="358.1" r="1.3"/><circle cx="113.9" cy="624.6" r="1.3"/><circle cx="117.8" cy="626.6" r="1.3"/><path d="M141.6,627.8l1.7,2.8h-3.3Z"/><path d="M151.1,627.1l1.7,2.8h-3.3Z"/><circle cx="195.5" cy="661.1" r="1.3"/><path d="M232.8,657.4l1.7,2.8h-3.3Z"/><path d="M232.2,667.2l1.7,2.8h-3.3Z"/></g>
<g fill="#9b1616" fill-opacity="0.5"><path d="M168.6,360l1.7,2.8h-3.3Z"/><path d="M172,363.4l1.7,2.8h-3.3Z"/><circle cx="217.7" cy="354.5" r="1.3"/><circle cx="208.9" cy="440.9" r="1.3"/><circle cx="216.5" cy="440.9" r="1.3"/><path d="M254.3,436.9l1.7,2.8h-3.3Z"/><path d="M168.1,507.1l1.7,2.8h-3.3Z"/><circle cx="210.9" cy="672.1" r="1.3"/><circle cx="215.8" cy="672.2" r="1.3"/></g>
<g fill="none" stroke="#9b1616" stroke-opacity="0.5" stroke-width="0.65"><path d="M51,614.8l1.8,1.8l-1.8,1.8l-1.8,-1.8Z"/><path d="M64.3,611.4l1.8,1.8l-1.8,1.8l-1.8,-1.8Z"/><path d="M58.6,658.4l1.8,1.8l-1.8,1.8l-1.8,-1.8Z"/></g>
<text x="329" y="261.1" font-size="11.5" fill="#1a1a1a">D</text>
<rect x="358.4" y="251.4" width="125.9" height="13" fill="#d9d9d9" stroke="#4a4a4a" stroke-width="0.8"/>
<text x="421.4" y="260.7" font-size="8" text-anchor="middle" fill="#1a1a1a">Mother</text>
<rect x="513.3" y="251.5" width="125.7" height="12.8" fill="#d9d9d9" stroke="#4a4a4a" stroke-width="0.8"/>
<text x="576.1" y="260.7" font-size="8" text-anchor="middle" fill="#1a1a1a">Infant</text>
<line x1="382.3" y1="264.4" x2="382.3" y2="451" stroke="#f3f3f3" stroke-width="0.5"/>
<line x1="408.3" y1="264.4" x2="408.3" y2="451" stroke="#f3f3f3" stroke-width="0.5"/>
<line x1="434.3" y1="264.4" x2="434.3" y2="451" stroke="#f3f3f3" stroke-width="0.5"/>
<line x1="460.3" y1="264.4" x2="460.3" y2="451" stroke="#f3f3f3" stroke-width="0.5"/>
<line x1="358.4" y1="446.7" x2="484.3" y2="446.7" stroke="#f3f3f3" stroke-width="0.5"/>
<line x1="358.4" y1="411.1" x2="484.3" y2="411.1" stroke="#f3f3f3" stroke-width="0.5"/>
<line x1="358.4" y1="375.6" x2="484.3" y2="375.6" stroke="#f3f3f3" stroke-width="0.5"/>
<line x1="358.4" y1="340" x2="484.3" y2="340" stroke="#f3f3f3" stroke-width="0.5"/>
<line x1="358.4" y1="304.5" x2="484.3" y2="304.5" stroke="#f3f3f3" stroke-width="0.5"/>
<line x1="358.4" y1="268.9" x2="484.3" y2="268.9" stroke="#f3f3f3" stroke-width="0.5"/>
<line x1="369.3" y1="264.4" x2="369.3" y2="451" stroke="#e8e8e8" stroke-width="0.6"/>
<line x1="395.3" y1="264.4" x2="395.3" y2="451" stroke="#e8e8e8" stroke-width="0.6"/>
<line x1="421.3" y1="264.4" x2="421.3" y2="451" stroke="#e8e8e8" stroke-width="0.6"/>
<line x1="447.3" y1="264.4" x2="447.3" y2="451" stroke="#e8e8e8" stroke-width="0.6"/>
<line x1="473.3" y1="264.4" x2="473.3" y2="451" stroke="#e8e8e8" stroke-width="0.6"/>
<line x1="358.4" y1="428.9" x2="484.3" y2="428.9" stroke="#e8e8e8" stroke-width="0.6"/>
<line x1="358.4" y1="393.4" x2="484.3" y2="393.4" stroke="#e8e8e8" stroke-width="0.6"/>
<line x1="358.4" y1="357.8" x2="484.3" y2="357.8" stroke="#e8e8e8" stroke-width="0.6"/>
<line x1="358.4" y1="322.2" x2="484.3" y2="322.2" stroke="#e8e8e8" stroke-width="0.6"/>
<line x1="358.4" y1="286.7" x2="484.3" y2="286.7" stroke="#e8e8e8" stroke-width="0.6"/>
<g fill="none" stroke="#8b3a2a" stroke-opacity="1.0" stroke-width="0.8"><path d="M415.4,328.7h3.8M417.3,326.8v3.8"/><path d="M421.9,388.1h3.8M423.8,386.2v3.8"/><path d="M455,341.8h3.8M456.9,339.9v3.8"/><path d="M424.6,349.9h3.8M426.5,348v3.8"/><path d="M435.6,323.4h3.8M437.5,321.5v3.8"/><path d="M406.1,362.3h3.8M408,360.4v3.8"/></g>
<g fill="#d21c1c" fill-opacity="1.0"><path d="M428.7,358.1l1.6,2.8h-3.2Z"/><path d="M445.5,352.9l1.6,2.8h-3.2Z"/><path d="M442,344.9l1.6,2.8h-3.2Z"/><path d="M422.9,335.7l1.6,2.8h-3.2Z"/><path d="M450.2,326.3l1.6,2.8h-3.2Z"/><path d="M406.6,376.5l1.6,2.8h-3.2Z"/><path d="M449.9,366.4l1.6,2.8h-3.2Z"/><path d="M430.4,385.2l1.6,2.8h-3.2Z"/><path d="M447.5,385.9l1.6,2.8h-3.2Z"/></g>
<g fill="#15a58e" fill-opacity="1.0"><circle cx="447.1" cy="344" r="1.2"/><circle cx="422.3" cy="331.9" r="1.2"/><circle cx="464.3" cy="397.9" r="1.2"/><circle cx="442.7" cy="350.2" r="1.2"/><circle cx="409.8" cy="398.4" r="1.2"/><circle cx="439.8" cy="386.7" r="1.2"/><circle cx="407.2" cy="355.2" r="1.2"/><circle cx="453.4" cy="357.5" r="1.2"/><circle cx="445.8" cy="398.6" r="1.2"/></g>
<g fill="#2d6db5" fill-opacity="1.0"><path d="M464.4,358l1.6,2.8h-3.2Z"/><path d="M461.6,374.3l1.6,2.8h-3.2Z"/><path d="M423.6,351.3l1.6,2.8h-3.2Z"/><path d="M467.5,345.9l1.6,2.8h-3.2Z"/><path d="M396.3,335.6l1.6,2.8h-3.2Z"/><path d="M441.3,381.2l1.6,2.8h-3.2Z"/><path d="M408,349.3l1.6,2.8h-3.2Z"/><path d="M425.7,377l1.6,2.8h-3.2Z"/><path d="M420.9,338.3l1.6,2.8h-3.2Z"/></g>
<g fill="#f5b800" fill-opacity="1.0"><circle cx="423.2" cy="416.8" r="1.2"/><circle cx="440.9" cy="326.4" r="1.2"/><circle cx="447.9" cy="335.3" r="1.2"/><circle cx="419.1" cy="354.2" r="1.2"/><circle cx="433.7" cy="370.4" r="1.2"/></g>
<g fill="none" stroke="#1a1a1a" stroke-opacity="1.0" stroke-width="0.8"><circle cx="459.9" cy="344.9" r="1.2"/><circle cx="416.2" cy="371.9" r="1.2"/></g>
<g fill="none" stroke="#9a7b5b" stroke-opacity="1.0" stroke-width="0.8"><path d="M426,374.9h3.8M427.9,373v3.8"/><path d="M400.3,377h3.8M402.2,375.1v3.8"/><path d="M428.2,331.8h3.8M430.1,330v3.8"/><path d="M404.6,352.2h3.8M406.5,350.3v3.8"/><path d="M429.4,359.7h3.8M431.3,357.8v3.8"/><path d="M390.4,331.4h3.8M392.3,329.6v3.8"/><path d="M406.8,294.6h3.8M408.7,292.7v3.8"/><path d="M421.8,355.4h3.8M423.7,353.5v3.8"/><path d="M426.2,311.5h3.8M428.1,309.6v3.8"/></g>
<g fill="none" stroke="#6ab04c" stroke-opacity="1.0" stroke-width="0.8"><circle cx="407.7" cy="329" r="1.2"/></g>
<g fill="none" stroke="#9a7b5b" stroke-opacity="1.0" stroke-width="0.8"><path d="M461.3,378.9h3.8M463.2,377v3.8"/><path d="M396.8,352.1h3.8M398.7,350.2v3.8"/><path d="M408.8,332.8h3.8M410.7,330.9v3.8"/><path d="M440.8,340.2h3.8M442.7,338.3v3.8"/><path d="M394.1,376.9h3.8M395.9,375v3.8"/><path d="M425.9,370.1h3.8M427.8,368.3v3.8"/></g>
<g fill="#2d6db5" fill-opacity="1.0"><path d="M410.1,376.4l1.6,2.8h-3.2Z"/><path d="M425.2,378.3l1.6,2.8h-3.2Z"/><path d="M414.1,404.4l1.6,2.8h-3.2Z"/><path d="M421.3,348.8l1.6,2.8h-3.2Z"/><path d="M428.8,395.2l1.6,2.8h-3.2Z"/><path d="M408.4,336.2l1.6,2.8h-3.2Z"/><path d="M447.1,321.2l1.6,2.8h-3.2Z"/><path d="M429.5,368.2l1.6,2.8h-3.2Z"/></g>
<g fill="none" stroke="#6ab04c" stroke-opacity="1.0" stroke-width="0.8"><circle cx="365.8" cy="362.4" r="1.2"/><circle cx="452.4" cy="335.7" r="1.2"/><circle cx="436.2" cy="329.5" r="1.2"/><circle cx="435.7" cy="368.2" r="1.2"/><circle cx="421" cy="410.6" r="1.2"/></g>
<g fill="#d21c1c" fill-opacity="1.0"><path d="M414,372.8l1.6,2.8h-3.2Z"/><path d="M419.1,362.6l1.6,2.8h-3.2Z"/><path d="M449.7,352.3l1.6,2.8h-3.2Z"/><path d="M404.5,353.1l1.6,2.8h-3.2Z"/><path d="M446.1,358l1.6,2.8h-3.2Z"/><path d="M387,334.3l1.6,2.8h-3.2Z"/><path d="M451.1,375l1.6,2.8h-3.2Z"/><path d="M402,387.2l1.6,2.8h-3.2Z"/></g>
<g fill="none" stroke="#8b3a2a" stroke-opacity="1.0" stroke-width="0.8"><path d="M474.2,357.5h3.8M476.1,355.6v3.8"/><path d="M416.8,363.1h3.8M418.7,361.3v3.8"/><path d="M407.4,400.4h3.8M409.3,398.5v3.8"/><path d="M431.9,361.6h3.8M433.8,359.7v3.8"/><path d="M445.8,349.5h3.8M447.7,347.6v3.8"/><path d="M416.2,308.3h3.8M418.1,306.4v3.8"/><path d="M381.1,356h3.8M383,354.2v3.8"/><path d="M421.5,313.6h3.8M423.4,311.7v3.8"/><path d="M436.4,320.4h3.8M438.3,318.6v3.8"/></g>
<g fill="none" stroke="#1a1a1a" stroke-opacity="1.0" stroke-width="0.8"><circle cx="465.3" cy="362.1" r="1.2"/><circle cx="447.8" cy="362.8" r="1.2"/></g>
<g fill="#f5b800" fill-opacity="1.0"><circle cx="415.8" cy="388.1" r="1.2"/><circle cx="412.7" cy="325.2" r="1.2"/><circle cx="443.1" cy="367.8" r="1.2"/><circle cx="440.3" cy="352" r="1.2"/><circle cx="440.1" cy="366.6" r="1.2"/><circle cx="435.1" cy="342.6" r="1.2"/><circle cx="430" cy="342.5" r="1.2"/><circle cx="446.2" cy="328.6" r="1.2"/><circle cx="448.6" cy="356.8" r="1.2"/></g>
<g fill="#15a58e" fill-opacity="1.0"><circle cx="460.1" cy="353.1" r="1.2"/><circle cx="396.5" cy="335.4" r="1.2"/><circle cx="452.5" cy="392.4" r="1.2"/></g>
<g fill="none" stroke="#9a7b5b" stroke-opacity="1.0" stroke-width="0.8"><path d="M423.8,337.5h3.8M425.7,335.6v3.8"/><path d="M410.1,333.2h3.8M412,331.3v3.8"/><path d="M467.7,332.6h3.8M469.6,330.7v3.8"/><path d="M454.7,372.3h3.8M456.6,370.4v3.8"/><path d="M442.5,405.9h3.8M444.4,404v3.8"/><path d="M443.2,390.6h3.8M445.1,388.7v3.8"/><path d="M436.8,371.6h3.8M438.6,369.7v3.8"/><path d="M450.6,381.7h3.8M452.5,379.8v3.8"/><path d="M418.6,338.4h3.8M420.5,336.5v3.8"/><path d="M414.3,303.9h3.8M416.2,302v3.8"/><path d="M445.2,349.9h3.8M447.1,348v3.8"/></g>
<g fill="#d21c1c" fill-opacity="1.0"><path d="M406.2,337.7l1.6,2.8h-3.2Z"/><path d="M423.5,357.9l1.6,2.8h-3.2Z"/><path d="M461.1,367.6l1.6,2.8h-3.2Z"/><path d="M414.4,371.3l1.6,2.8h-3.2Z"/><path d="M414.8,390.6l1.6,2.8h-3.2Z"/><path d="M438,337.3l1.6,2.8h-3.2Z"/><path d="M455.2,341.7l1.6,2.8h-3.2Z"/><path d="M421.8,328.8l1.6,2.8h-3.2Z"/><path d="M451.3,396.2l1.6,2.8h-3.2Z"/></g>
<g fill="none" stroke="#8b3a2a" stroke-opacity="1.0" stroke-width="0.8"><path d="M447,366.5h3.8M448.9,364.6v3.8"/><path d="M410.1,394.8h3.8M412,392.9v3.8"/><path d="M430,396.7h3.8M431.9,394.8v3.8"/><path d="M410.9,314.3h3.8M412.8,312.4v3.8"/><path d="M423.3,368h3.8M425.1,366.1v3.8"/><path d="M416.5,364.5h3.8M418.4,362.6v3.8"/></g>
<g fill="#2d6db5" fill-opacity="1.0"><path d="M427.5,358.4l1.6,2.8h-3.2Z"/><path d="M441.3,384.8l1.6,2.8h-3.2Z"/><path d="M428.3,358l1.6,2.8h-3.2Z"/><path d="M406.5,345.7l1.6,2.8h-3.2Z"/><path d="M458.3,383.8l1.6,2.8h-3.2Z"/><path d="M440.6,361.7l1.6,2.8h-3.2Z"/><path d="M422.2,364.7l1.6,2.8h-3.2Z"/><path d="M424.8,339l1.6,2.8h-3.2Z"/></g>
<g fill="#f5b800" fill-opacity="1.0"><circle cx="425.5" cy="341.4" r="1.2"/><circle cx="429.7" cy="379.9" r="1.2"/><circle cx="431.8" cy="368.6" r="1.2"/><circle cx="420.3" cy="349.7" r="1.2"/><circle cx="432.8" cy="350.4" r="1.2"/><circle cx="422.1" cy="377.2" r="1.2"/><circle cx="437.5" cy="372.7" r="1.2"/><circle cx="423.8" cy="345.5" r="1.2"/><circle cx="463.7" cy="376" r="1.2"/><circle cx="438.1" cy="334.8" r="1.2"/></g>
<g fill="none" stroke="#1a1a1a" stroke-opacity="1.0" stroke-width="0.8"><circle cx="411.9" cy="337" r="1.2"/><circle cx="455" cy="355.6" r="1.2"/></g>
<g fill="#15a58e" fill-opacity="1.0"><circle cx="457.7" cy="373.1" r="1.2"/><circle cx="410.9" cy="360.2" r="1.2"/><circle cx="437.4" cy="388" r="1.2"/><circle cx="408.2" cy="377.2" r="1.2"/></g>
<g fill="#d21c1c" fill-opacity="1.0"><path d="M420.3,367.3l1.6,2.8h-3.2Z"/><path d="M388.3,374.9l1.6,2.8h-3.2Z"/><path d="M418.4,417.2l1.6,2.8h-3.2Z"/><path d="M429.2,384.1l1.6,2.8h-3.2Z"/><path d="M429.8,326.5l1.6,2.8h-3.2Z"/><path d="M452.8,372.3l1.6,2.8h-3.2Z"/></g>
<g fill="none" stroke="#6ab04c" stroke-opacity="1.0" stroke-width="0.8"><circle cx="361.2" cy="380.7" r="1.2"/><circle cx="426.1" cy="345.5" r="1.2"/><circle cx="372.9" cy="412.7" r="1.2"/><circle cx="361.4" cy="369" r="1.2"/><circle cx="430.6" cy="361.7" r="1.2"/></g>
<g fill="#f5b800" fill-opacity="1.0"><circle cx="425.5" cy="335.2" r="1.2"/><circle cx="426.9" cy="352.9" r="1.2"/><circle cx="411.5" cy="370.1" r="1.2"/><circle cx="419.9" cy="394.8" r="1.2"/><circle cx="438.7" cy="381.7" r="1.2"/><circle cx="414.5" cy="392.9" r="1.2"/><circle cx="441.5" cy="369.6" r="1.2"/></g>
<g fill="none" stroke="#9a7b5b" stroke-opacity="1.0" stroke-width="0.8"><path d="M422.4,344.6h3.8M424.3,342.7v3.8"/><path d="M403.3,399.8h3.8M405.2,397.9v3.8"/><path d="M416.2,376.2h3.8M418.1,374.3v3.8"/><path d="M400.7,380.7h3.8M402.6,378.8v3.8"/><path d="M433.7,360.5h3.8M435.6,358.6v3.8"/><path d="M378.5,367.9h3.8M380.4,366v3.8"/><path d="M417.5,382.7h3.8M419.4,380.8v3.8"/><path d="M399.6,352.4h3.8M401.5,350.5v3.8"/></g>
<g fill="#15a58e" fill-opacity="1.0"><circle cx="404.5" cy="327.9" r="1.2"/><circle cx="432.9" cy="390" r="1.2"/><circle cx="450.1" cy="373.6" r="1.2"/><circle cx="393.1" cy="355" r="1.2"/></g>
<g fill="none" stroke="#1a1a1a" stroke-opacity="1.0" stroke-width="0.8"><circle cx="409.3" cy="327.5" r="1.2"/><circle cx="403.1" cy="331.4" r="1.2"/><circle cx="433.9" cy="407.1" r="1.2"/></g>
<g fill="#2d6db5" fill-opacity="1.0"><path d="M439.3,334.6l1.6,2.8h-3.2Z"/><path d="M431.8,340.4l1.6,2.8h-3.2Z"/><path d="M397.2,340.1l1.6,2.8h-3.2Z"/><path d="M406.5,354.2l1.6,2.8h-3.2Z"/><path d="M419,325.8l1.6,2.8h-3.2Z"/></g>
<g fill="none" stroke="#8b3a2a" stroke-opacity="1.0" stroke-width="0.8"><path d="M401.4,367.4h3.8M403.3,365.6v3.8"/><path d="M442.6,373.2h3.8M444.4,371.3v3.8"/><path d="M384.3,359.1h3.8M386.2,357.2v3.8"/><path d="M402.8,330.6h3.8M404.6,328.8v3.8"/><path d="M404.1,366.3h3.8M406,364.4v3.8"/><path d="M419.2,357.5h3.8M421.1,355.7v3.8"/><path d="M442.4,334.7h3.8M444.3,332.8v3.8"/><path d="M431.4,333h3.8M433.3,331.1v3.8"/><path d="M416.1,364.8h3.8M418,363v3.8"/><path d="M456.3,390.8h3.8M458.2,388.9v3.8"/><path d="M437.6,353h3.8M439.5,351.1v3.8"/><path d="M467.9,355.3h3.8M469.8,353.4v3.8"/></g>
<g fill="#15a58e" fill-opacity="1.0"><circle cx="431.4" cy="378.8" r="1.2"/><circle cx="444.2" cy="341.7" r="1.2"/><circle cx="416.8" cy="364.1" r="1.2"/><circle cx="414.3" cy="348.8" r="1.2"/><circle cx="457.4" cy="374.5" r="1.2"/><circle cx="391.9" cy="351.4" r="1.2"/><circle cx="442.4" cy="341.5" r="1.2"/><circle cx="433" cy="343.4" r="1.2"/><circle cx="416.5" cy="383.4" r="1.2"/><circle cx="411.1" cy="362" r="1.2"/><circle cx="420.2" cy="333.5" r="1.2"/><circle cx="388.3" cy="355.7" r="1.2"/><circle cx="428.5" cy="398.2" r="1.2"/></g>
<g fill="none" stroke="#9a7b5b" stroke-opacity="1.0" stroke-width="0.8"><path d="M415.3,363.4h3.8M417.2,361.5v3.8"/><path d="M433.3,320h3.8M435.2,318.1v3.8"/><path d="M423.8,342.1h3.8M425.6,340.2v3.8"/><path d="M410.9,395.1h3.8M412.8,393.2v3.8"/><path d="M404.3,326.2h3.8M406.1,324.3v3.8"/><path d="M430.1,368.3h3.8M432,366.4v3.8"/><path d="M404.8,329h3.8M406.7,327.1v3.8"/><path d="M403.6,388.5h3.8M405.5,386.7v3.8"/><path d="M419.1,341.1h3.8M421,339.3v3.8"/></g>
<g fill="#2d6db5" fill-opacity="1.0"><path d="M441.4,343l1.6,2.8h-3.2Z"/><path d="M420.2,404l1.6,2.8h-3.2Z"/><path d="M455.6,377l1.6,2.8h-3.2Z"/><path d="M407,314.2l1.6,2.8h-3.2Z"/><path d="M420.9,359.8l1.6,2.8h-3.2Z"/><path d="M416.6,382.6l1.6,2.8h-3.2Z"/><path d="M466.6,381.9l1.6,2.8h-3.2Z"/><path d="M416.7,354.9l1.6,2.8h-3.2Z"/><path d="M426.4,330.6l1.6,2.8h-3.2Z"/></g>
<g fill="#f5b800" fill-opacity="1.0"><circle cx="417.9" cy="313.1" r="1.2"/><circle cx="437.9" cy="389.6" r="1.2"/><circle cx="417.4" cy="338.2" r="1.2"/><circle cx="418.7" cy="336.6" r="1.2"/><circle cx="437.4" cy="377.6" r="1.2"/><circle cx="437.8" cy="349.9" r="1.2"/><circle cx="447" cy="377.7" r="1.2"/></g>
<g fill="#d21c1c" fill-opacity="1.0"><path d="M460.3,352.8l1.6,2.8h-3.2Z"/><path d="M405.4,345l1.6,2.8h-3.2Z"/><path d="M399.7,326.2l1.6,2.8h-3.2Z"/><path d="M438,302.7l1.6,2.8h-3.2Z"/><path d="M435.9,344.2l1.6,2.8h-3.2Z"/></g>
<g fill="none" stroke="#8b3a2a" stroke-opacity="1.0" stroke-width="0.8"><path d="M440.6,344.1h3.8M442.5,342.2v3.8"/><path d="M424.6,343.8h3.8M426.5,341.9v3.8"/><path d="M425.3,357.9h3.8M427.1,356v3.8"/><path d="M433.9,373.3h3.8M435.8,371.4v3.8"/></g>
<g fill="none" stroke="#1a1a1a" stroke-opacity="1.0" stroke-width="0.8"><circle cx="404.4" cy="357.1" r="1.2"/></g>
<g fill="none" stroke="#6ab04c" stroke-opacity="1.0" stroke-width="0.8"><circle cx="442.8" cy="331.6" r="1.2"/><circle cx="430.1" cy="379.7" r="1.2"/></g>
<g fill="none" stroke="#1a1a1a" stroke-opacity="1.0" stroke-width="0.8"><circle cx="446.4" cy="339.4" r="1.2"/><circle cx="423" cy="364.1" r="1.2"/><circle cx="406.3" cy="368.7" r="1.2"/><circle cx="437.9" cy="362.7" r="1.2"/><circle cx="403.1" cy="355.1" r="1.2"/><circle cx="419.9" cy="357.6" r="1.2"/></g>
<g fill="#d21c1c" fill-opacity="1.0"><path d="M468.3,367.7l1.6,2.8h-3.2Z"/><path d="M448.6,386.3l1.6,2.8h-3.2Z"/><path d="M434.6,361.2l1.6,2.8h-3.2Z"/><path d="M403.4,371.4l1.6,2.8h-3.2Z"/><path d="M442.9,338.1l1.6,2.8h-3.2Z"/><path d="M381.3,362.8l1.6,2.8h-3.2Z"/><path d="M449.8,363l1.6,2.8h-3.2Z"/><path d="M410.9,329.4l1.6,2.8h-3.2Z"/><path d="M411.6,337l1.6,2.8h-3.2Z"/></g>
<g fill="#f5b800" fill-opacity="1.0"><circle cx="407.3" cy="341.1" r="1.2"/><circle cx="444.2" cy="338.6" r="1.2"/><circle cx="422.2" cy="363.4" r="1.2"/><circle cx="415.7" cy="379.4" r="1.2"/><circle cx="407.7" cy="313.4" r="1.2"/><circle cx="430.7" cy="358.5" r="1.2"/><circle cx="415.1" cy="356.1" r="1.2"/><circle cx="420.5" cy="351.7" r="1.2"/><circle cx="440.6" cy="320.7" r="1.2"/><circle cx="451.2" cy="380.5" r="1.2"/></g>
<g fill="none" stroke="#8b3a2a" stroke-opacity="1.0" stroke-width="0.8"><path d="M443.3,405.9h3.8M445.2,404.1v3.8"/><path d="M417,359.2h3.8M418.9,357.3v3.8"/><path d="M415.7,408.1h3.8M417.5,406.2v3.8"/><path d="M438.5,389.1h3.8M440.3,387.2v3.8"/><path d="M456.6,319.9h3.8M458.5,318v3.8"/></g>
<g fill="#2d6db5" fill-opacity="1.0"><path d="M439.7,366.9l1.6,2.8h-3.2Z"/><path d="M455.6,379.1l1.6,2.8h-3.2Z"/><path d="M433.4,350l1.6,2.8h-3.2Z"/><path d="M409.1,392.6l1.6,2.8h-3.2Z"/><path d="M429.8,349.2l1.6,2.8h-3.2Z"/><path d="M431.6,368.8l1.6,2.8h-3.2Z"/><path d="M420.7,365.7l1.6,2.8h-3.2Z"/><path d="M408.2,362.6l1.6,2.8h-3.2Z"/><path d="M411.8,332.6l1.6,2.8h-3.2Z"/></g>
<g fill="none" stroke="#9a7b5b" stroke-opacity="1.0" stroke-width="0.8"><path d="M412.6,377.5h3.8M414.5,375.6v3.8"/><path d="M394.5,330h3.8M396.4,328.1v3.8"/><path d="M421,333h3.8M422.9,331.1v3.8"/><path d="M394.4,352.2h3.8M396.3,350.3v3.8"/><path d="M377.8,362.8h3.8M379.7,360.9v3.8"/><path d="M440.5,359.9h3.8M442.4,358v3.8"/><path d="M428,398.6h3.8M429.9,396.7v3.8"/></g>
<g fill="#15a58e" fill-opacity="1.0"><circle cx="430.6" cy="355" r="1.2"/><circle cx="430.3" cy="376.6" r="1.2"/><circle cx="424" cy="368.6" r="1.2"/><circle cx="439.4" cy="389.8" r="1.2"/></g>
<g fill="#15a58e" fill-opacity="1.0"><circle cx="425.3" cy="368.8" r="1.2"/><circle cx="414.4" cy="356.5" r="1.2"/><circle cx="457.4" cy="346.7" r="1.2"/><circle cx="438.3" cy="365.5" r="1.2"/><circle cx="383.7" cy="358.7" r="1.2"/><circle cx="419.5" cy="358.1" r="1.2"/><circle cx="436.3" cy="345.9" r="1.2"/><circle cx="429.1" cy="415.6" r="1.2"/><circle cx="428.5" cy="370.4" r="1.2"/><circle cx="406.9" cy="361.6" r="1.2"/><circle cx="450.2" cy="366.9" r="1.2"/><circle cx="417.9" cy="374.9" r="1.2"/></g>
<g fill="none" stroke="#1a1a1a" stroke-opacity="1.0" stroke-width="0.8"><circle cx="435.5" cy="326.1" r="1.2"/></g>
<g fill="none" stroke="#8b3a2a" stroke-opacity="1.0" stroke-width="0.8"><path d="M404.1,355.9h3.8M406,354v3.8"/><path d="M439.8,393.8h3.8M441.6,391.9v3.8"/><path d="M430.7,319.4h3.8M432.6,317.5v3.8"/><path d="M407.4,364.8h3.8M409.3,362.9v3.8"/><path d="M427,357.8h3.8M428.9,355.9v3.8"/><path d="M455.2,335.4h3.8M457,333.5v3.8"/><path d="M407.6,379h3.8M409.5,377.1v3.8"/></g>
<g fill="#2d6db5" fill-opacity="1.0"><path d="M453.4,337.7l1.6,2.8h-3.2Z"/><path d="M447.6,366.2l1.6,2.8h-3.2Z"/><path d="M401.7,371.5l1.6,2.8h-3.2Z"/><path d="M436.9,329.3l1.6,2.8h-3.2Z"/><path d="M405.4,370.1l1.6,2.8h-3.2Z"/></g>
<g fill="none" stroke="#9a7b5b" stroke-opacity="1.0" stroke-width="0.8"><path d="M402.7,355.5h3.8M404.6,353.7v3.8"/><path d="M392.9,315.3h3.8M394.7,313.4v3.8"/><path d="M418.4,377.5h3.8M420.3,375.6v3.8"/><path d="M413.6,324.7h3.8M415.5,322.8v3.8"/><path d="M401.9,310h3.8M403.7,308.1v3.8"/><path d="M465.9,383.8h3.8M467.8,381.9v3.8"/><path d="M425.1,303.5h3.8M427,301.6v3.8"/><path d="M420.7,371.6h3.8M422.6,369.7v3.8"/><path d="M399.9,350.5h3.8M401.8,348.7v3.8"/></g>
<g fill="#d21c1c" fill-opacity="1.0"><path d="M452,375l1.6,2.8h-3.2Z"/><path d="M432.7,390.5l1.6,2.8h-3.2Z"/><path d="M428.9,336.5l1.6,2.8h-3.2Z"/><path d="M417.1,357.1l1.6,2.8h-3.2Z"/><path d="M433.2,401.6l1.6,2.8h-3.2Z"/><path d="M460.4,338.2l1.6,2.8h-3.2Z"/></g>
<g fill="none" stroke="#6ab04c" stroke-opacity="1.0" stroke-width="0.8"><circle cx="391.6" cy="407.7" r="1.2"/></g>
<g fill="#f5b800" fill-opacity="1.0"><circle cx="446.1" cy="392.5" r="1.2"/><circle cx="442.7" cy="337.1" r="1.2"/><circle cx="426.1" cy="346.8" r="1.2"/><circle cx="408.1" cy="378" r="1.2"/><circle cx="445.6" cy="381.2" r="1.2"/><circle cx="436.6" cy="413.8" r="1.2"/><circle cx="404" cy="358.3" r="1.2"/><circle cx="438.7" cy="388.3" r="1.2"/><circle cx="440" cy="339.3" r="1.2"/></g>
<g fill="none" stroke="#6ab04c" stroke-opacity="1.0" stroke-width="0.8"><circle cx="424.7" cy="355.7" r="1.2"/><circle cx="361.3" cy="365.6" r="1.2"/><circle cx="425.3" cy="320" r="1.2"/></g>
<g fill="none" stroke="#8b3a2a" stroke-opacity="1.0" stroke-width="0.8"><path d="M459.5,393.8h3.8M461.4,391.9v3.8"/><path d="M420,353h3.8M421.9,351.1v3.8"/><path d="M390.6,366.3h3.8M392.5,364.4v3.8"/><path d="M435,389.3h3.8M436.9,387.4v3.8"/><path d="M452.7,310.4h3.8M454.6,308.6v3.8"/><path d="M437.3,344.8h3.8M439.2,342.9v3.8"/><path d="M432.1,349.8h3.8M434,347.9v3.8"/><path d="M422.2,355h3.8M424.1,353.1v3.8"/><path d="M436.8,374h3.8M438.7,372.2v3.8"/></g>
<g fill="#15a58e" fill-opacity="1.0"><circle cx="396.3" cy="389" r="1.2"/><circle cx="442.2" cy="397.3" r="1.2"/><circle cx="435.9" cy="375.2" r="1.2"/><circle cx="418.8" cy="346.4" r="1.2"/><circle cx="439.7" cy="345.8" r="1.2"/><circle cx="424" cy="361.1" r="1.2"/><circle cx="422.8" cy="342.4" r="1.2"/><circle cx="418.1" cy="341.5" r="1.2"/><circle cx="424.1" cy="372.2" r="1.2"/></g>
<g fill="#f5b800" fill-opacity="1.0"><circle cx="453.1" cy="369.4" r="1.2"/><circle cx="389.6" cy="379.6" r="1.2"/><circle cx="437.8" cy="307.9" r="1.2"/><circle cx="443.6" cy="350.7" r="1.2"/><circle cx="434.9" cy="401.2" r="1.2"/><circle cx="409.7" cy="347.9" r="1.2"/></g>
<g fill="#d21c1c" fill-opacity="1.0"><path d="M428.2,399.7l1.6,2.8h-3.2Z"/><path d="M415.6,371.5l1.6,2.8h-3.2Z"/><path d="M408.7,327.1l1.6,2.8h-3.2Z"/><path d="M402.9,349.9l1.6,2.8h-3.2Z"/><path d="M442.6,360.7l1.6,2.8h-3.2Z"/><path d="M445.9,347.3l1.6,2.8h-3.2Z"/></g>
<g fill="none" stroke="#9a7b5b" stroke-opacity="1.0" stroke-width="0.8"><path d="M405.5,393.5h3.8M407.4,391.7v3.8"/><path d="M401.4,323.5h3.8M403.3,321.6v3.8"/><path d="M416.9,330.9h3.8M418.8,329v3.8"/><path d="M417.6,368.9h3.8M419.5,367v3.8"/><path d="M403.2,362.9h3.8M405,361v3.8"/><path d="M442.8,350.6h3.8M444.6,348.7v3.8"/><path d="M412.2,337.2h3.8M414.1,335.3v3.8"/><path d="M387.2,344.3h3.8M389.1,342.4v3.8"/><path d="M405.5,322.7h3.8M407.3,320.8v3.8"/><path d="M412.3,334.5h3.8M414.2,332.6v3.8"/></g>
<g fill="#2d6db5" fill-opacity="1.0"><path d="M416.2,358.3l1.6,2.8h-3.2Z"/><path d="M448.6,336.5l1.6,2.8h-3.2Z"/><path d="M413.7,382.5l1.6,2.8h-3.2Z"/><path d="M444.4,376.7l1.6,2.8h-3.2Z"/></g>
<g fill="none" stroke="#1a1a1a" stroke-opacity="1.0" stroke-width="0.8"><circle cx="416" cy="327.4" r="1.2"/><circle cx="440.8" cy="335.5" r="1.2"/><circle cx="456.3" cy="310.9" r="1.2"/></g>
<g fill="#d21c1c" fill-opacity="1.0"><path d="M452.3,401.4l1.6,2.8h-3.2Z"/><path d="M466.6,339l1.6,2.8h-3.2Z"/><path d="M415.3,388.5l1.6,2.8h-3.2Z"/><path d="M432,379l1.6,2.8h-3.2Z"/><path d="M451.9,362.1l1.6,2.8h-3.2Z"/><path d="M429.2,300.7l1.6,2.8h-3.2Z"/><path d="M419.3,348.8l1.6,2.8h-3.2Z"/><path d="M420.2,313.6l1.6,2.8h-3.2Z"/><path d="M455.3,310.6l1.6,2.8h-3.2Z"/><path d="M418,340.6l1.6,2.8h-3.2Z"/><path d="M417.2,390.9l1.6,2.8h-3.2Z"/></g>
<g fill="none" stroke="#8b3a2a" stroke-opacity="1.0" stroke-width="0.8"><path d="M419.3,346.9h3.8M421.2,345v3.8"/><path d="M417.4,366.2h3.8M419.2,364.3v3.8"/><path d="M436.4,342h3.8M438.3,340.1v3.8"/><path d="M422.2,364.2h3.8M424.1,362.3v3.8"/><path d="M408.4,328.3h3.8M410.3,326.4v3.8"/><path d="M409.5,330h3.8M411.4,328.1v3.8"/><path d="M439.6,415.5h3.8M441.5,413.6v3.8"/><path d="M428.2,346.5h3.8M430.1,344.6v3.8"/><path d="M416.4,362.6h3.8M418.3,360.7v3.8"/></g>
<g fill="#2d6db5" fill-opacity="1.0"><path d="M405.6,386.5l1.6,2.8h-3.2Z"/><path d="M434.2,355.5l1.6,2.8h-3.2Z"/><path d="M424,320.3l1.6,2.8h-3.2Z"/><path d="M474.1,374.7l1.6,2.8h-3.2Z"/><path d="M440.2,348.2l1.6,2.8h-3.2Z"/><path d="M428.6,373.2l1.6,2.8h-3.2Z"/></g>
<g fill="#f5b800" fill-opacity="1.0"><circle cx="429" cy="348.8" r="1.2"/><circle cx="422.2" cy="365.9" r="1.2"/><circle cx="403.2" cy="373.1" r="1.2"/><circle cx="445.8" cy="346.5" r="1.2"/><circle cx="452.7" cy="350.6" r="1.2"/><circle cx="454.2" cy="363.5" r="1.2"/><circle cx="446.6" cy="316.7" r="1.2"/><circle cx="432.6" cy="373.3" r="1.2"/><circle cx="419.2" cy="337.1" r="1.2"/><circle cx="400.1" cy="384.8" r="1.2"/></g>
<g fill="#15a58e" fill-opacity="1.0"><circle cx="414.6" cy="364.6" r="1.2"/><circle cx="435.5" cy="402" r="1.2"/><circle cx="418.7" cy="358.5" r="1.2"/><circle cx="413.8" cy="354.7" r="1.2"/><circle cx="457.1" cy="349.9" r="1.2"/><circle cx="458" cy="366.2" r="1.2"/></g>
<g fill="none" stroke="#1a1a1a" stroke-opacity="1.0" stroke-width="0.8"><circle cx="471.7" cy="364" r="1.2"/><circle cx="393.1" cy="364.1" r="1.2"/></g>
<g fill="none" stroke="#9a7b5b" stroke-opacity="1.0" stroke-width="0.8"><path d="M414.6,325.3h3.8M416.5,323.4v3.8"/><path d="M436.9,374.2h3.8M438.7,372.4v3.8"/><path d="M436.6,360.9h3.8M438.5,359v3.8"/><path d="M435.5,343h3.8M437.4,341.2v3.8"/><path d="M420.5,382.1h3.8M422.4,380.3v3.8"/></g>
<g fill="none" stroke="#6ab04c" stroke-opacity="1.0" stroke-width="0.8"><circle cx="414.8" cy="348.7" r="1.2"/></g>
<g fill="#d21c1c" fill-opacity="1.0"><path d="M418,325.3l1.6,2.8h-3.2Z"/><path d="M443.5,360.5l1.6,2.8h-3.2Z"/><path d="M445.4,363.7l1.6,2.8h-3.2Z"/><path d="M432.5,387.4l1.6,2.8h-3.2Z"/><path d="M397,397.7l1.6,2.8h-3.2Z"/><path d="M447.6,412.5l1.6,2.8h-3.2Z"/></g>
<g fill="#2d6db5" fill-opacity="1.0"><path d="M443.3,366.3l1.6,2.8h-3.2Z"/><path d="M406.8,348.7l1.6,2.8h-3.2Z"/><path d="M422.2,341.6l1.6,2.8h-3.2Z"/><path d="M425.5,388.5l1.6,2.8h-3.2Z"/></g>
<g fill="none" stroke="#8b3a2a" stroke-opacity="1.0" stroke-width="0.8"><path d="M404.3,364.8h3.8M406.2,362.9v3.8"/><path d="M414.8,364.8h3.8M416.7,362.9v3.8"/><path d="M457.2,318.4h3.8M459.1,316.5v3.8"/><path d="M389.1,397.8h3.8M391,395.9v3.8"/></g>
<g fill="none" stroke="#9a7b5b" stroke-opacity="1.0" stroke-width="0.8"><path d="M408,322.2h3.8M409.9,320.3v3.8"/><path d="M396.1,372h3.8M398,370.1v3.8"/><path d="M441.4,335.7h3.8M443.3,333.9v3.8"/><path d="M441.4,355.2h3.8M443.3,353.3v3.8"/></g>
<g fill="#15a58e" fill-opacity="1.0"><circle cx="415.3" cy="387.4" r="1.2"/><circle cx="440" cy="363.5" r="1.2"/></g>
<g fill="none" stroke="#6ab04c" stroke-opacity="1.0" stroke-width="0.8"><circle cx="429.7" cy="366.1" r="1.2"/><circle cx="422.9" cy="415.3" r="1.2"/></g>
<g fill="#f5b800" fill-opacity="1.0"><circle cx="452.6" cy="389.9" r="1.2"/><circle cx="427.2" cy="359" r="1.2"/><circle cx="406.1" cy="408.8" r="1.2"/></g>
<g fill="#15a58e" fill-opacity="1.0"><circle cx="449.9" cy="365.4" r="1.2"/><circle cx="449.1" cy="348.9" r="1.2"/><circle cx="445" cy="363.1" r="1.2"/><circle cx="441.9" cy="373.9" r="1.2"/><circle cx="440" cy="378.5" r="1.2"/><circle cx="457.2" cy="327" r="1.2"/><circle cx="451" cy="360.9" r="1.2"/><circle cx="450.7" cy="348.6" r="1.2"/><circle cx="452" cy="337.7" r="1.2"/><circle cx="444.7" cy="362.1" r="1.2"/><circle cx="449.3" cy="355.9" r="1.2"/></g>
<g fill="none" stroke="#8b3a2a" stroke-opacity="1.0" stroke-width="0.8"><path d="M451.8,356.7h3.8M453.7,354.8v3.8"/><path d="M446.7,344.9h3.8M448.6,343v3.8"/><path d="M444.4,381.8h3.8M446.3,379.9v3.8"/><path d="M451.7,360.6h3.8M453.6,358.7v3.8"/><path d="M442.7,387.1h3.8M444.6,385.2v3.8"/><path d="M444.3,333.6h3.8M446.2,331.7v3.8"/><path d="M434.9,364.9h3.8M436.8,363v3.8"/><path d="M453,371.3h3.8M454.9,369.4v3.8"/><path d="M443.7,353.9h3.8M445.5,352v3.8"/><path d="M432.8,391.1h3.8M434.7,389.2v3.8"/></g>
<g fill="#2d6db5" fill-opacity="1.0"><path d="M452.8,350l1.6,2.8h-3.2Z"/><path d="M455,364.2l1.6,2.8h-3.2Z"/><path d="M457.2,390.3l1.6,2.8h-3.2Z"/><path d="M449.5,345.5l1.6,2.8h-3.2Z"/><path d="M456.6,348.3l1.6,2.8h-3.2Z"/><path d="M451.6,360.3l1.6,2.8h-3.2Z"/><path d="M450.6,323.4l1.6,2.8h-3.2Z"/></g>
<g fill="#d21c1c" fill-opacity="1.0"><path d="M436.7,337.7l1.6,2.8h-3.2Z"/><path d="M440,372l1.6,2.8h-3.2Z"/><path d="M455.3,359l1.6,2.8h-3.2Z"/><path d="M448,390.9l1.6,2.8h-3.2Z"/><path d="M446.3,349.5l1.6,2.8h-3.2Z"/><path d="M438.5,350l1.6,2.8h-3.2Z"/><path d="M445,346.1l1.6,2.8h-3.2Z"/><path d="M457.8,375.1l1.6,2.8h-3.2Z"/><path d="M447.5,368.4l1.6,2.8h-3.2Z"/></g>
<g fill="none" stroke="#9a7b5b" stroke-opacity="1.0" stroke-width="0.8"><path d="M439.9,323h3.8M441.8,321.1v3.8"/><path d="M450.3,385.8h3.8M452.1,383.9v3.8"/><path d="M445.3,327.6h3.8M447.2,325.7v3.8"/><path d="M445.7,350.4h3.8M447.6,348.5v3.8"/><path d="M434.2,377.7h3.8M436.1,375.8v3.8"/><path d="M440.9,366.7h3.8M442.8,364.8v3.8"/><path d="M444.5,381.2h3.8M446.3,379.3v3.8"/><path d="M448.2,366.9h3.8M450.1,365.1v3.8"/><path d="M448.2,381.3h3.8M450.1,379.4v3.8"/><path d="M442.1,355.9h3.8M444,354v3.8"/><path d="M442.7,365.5h3.8M444.6,363.6v3.8"/><path d="M446.8,355.9h3.8M448.7,354v3.8"/><path d="M439,368.6h3.8M440.9,366.7v3.8"/></g>
<g fill="#d21c1c" fill-opacity="1.0"><path d="M451.1,352.4l1.6,2.8h-3.2Z"/><path d="M445.2,369.7l1.6,2.8h-3.2Z"/><path d="M453.6,374.1l1.6,2.8h-3.2Z"/><path d="M449.5,383.4l1.6,2.8h-3.2Z"/><path d="M452,390.1l1.6,2.8h-3.2Z"/><path d="M443.9,379l1.6,2.8h-3.2Z"/><path d="M451.9,350.3l1.6,2.8h-3.2Z"/></g>
<g fill="none" stroke="#9a7b5b" stroke-opacity="1.0" stroke-width="0.8"><path d="M445,384.8h3.8M446.9,382.9v3.8"/><path d="M450,374.9h3.8M451.9,373v3.8"/><path d="M447.9,358.3h3.8M449.8,356.4v3.8"/><path d="M441.6,358.8h3.8M443.4,356.9v3.8"/><path d="M432.7,363.4h3.8M434.6,361.5v3.8"/><path d="M440.9,374.2h3.8M442.8,372.3v3.8"/><path d="M441,356.8h3.8M442.9,354.9v3.8"/><path d="M446.5,387.9h3.8M448.4,386.1v3.8"/></g>
<g fill="none" stroke="#8b3a2a" stroke-opacity="1.0" stroke-width="0.8"><path d="M440.8,391.7h3.8M442.7,389.8v3.8"/><path d="M456.5,356.4h3.8M458.3,354.5v3.8"/><path d="M450.2,321.6h3.8M452,319.8v3.8"/><path d="M452.2,341.7h3.8M454.1,339.8v3.8"/><path d="M434.5,371h3.8M436.4,369.1v3.8"/><path d="M452,397.5h3.8M453.8,395.6v3.8"/><path d="M450.4,376.8h3.8M452.3,374.9v3.8"/><path d="M447.6,364h3.8M449.5,362.1v3.8"/><path d="M440.9,341.8h3.8M442.8,339.9v3.8"/><path d="M458,383.8h3.8M459.9,381.9v3.8"/><path d="M446.3,376.5h3.8M448.2,374.6v3.8"/><path d="M450.8,369.7h3.8M452.7,367.8v3.8"/><path d="M438.7,325.1h3.8M440.6,323.2v3.8"/><path d="M440,388.6h3.8M441.9,386.7v3.8"/><path d="M452.5,360.8h3.8M454.4,359v3.8"/></g>
<g fill="#15a58e" fill-opacity="1.0"><circle cx="443.6" cy="339.9" r="1.2"/><circle cx="452.3" cy="370.1" r="1.2"/><circle cx="445.2" cy="360.8" r="1.2"/><circle cx="444.3" cy="391.5" r="1.2"/><circle cx="445.1" cy="359.8" r="1.2"/><circle cx="450.5" cy="367.4" r="1.2"/><circle cx="439" cy="355.1" r="1.2"/></g>
<g fill="#2d6db5" fill-opacity="1.0"><path d="M444.4,408.5l1.6,2.8h-3.2Z"/><path d="M447.3,372.7l1.6,2.8h-3.2Z"/><path d="M438.5,363.9l1.6,2.8h-3.2Z"/><path d="M452,373.2l1.6,2.8h-3.2Z"/><path d="M448.9,378.9l1.6,2.8h-3.2Z"/><path d="M452.8,364.2l1.6,2.8h-3.2Z"/><path d="M446.1,331.7l1.6,2.8h-3.2Z"/><path d="M453.8,369l1.6,2.8h-3.2Z"/><path d="M448,391.9l1.6,2.8h-3.2Z"/><path d="M443.1,366.7l1.6,2.8h-3.2Z"/><path d="M446.5,350.7l1.6,2.8h-3.2Z"/><path d="M457.2,328l1.6,2.8h-3.2Z"/><path d="M452.8,361.1l1.6,2.8h-3.2Z"/></g>
<g fill="#2d6db5" fill-opacity="1.0"><path d="M450.9,354.6l1.6,2.8h-3.2Z"/><path d="M447.9,375.1l1.6,2.8h-3.2Z"/><path d="M449.3,402.1l1.6,2.8h-3.2Z"/><path d="M436.4,333.8l1.6,2.8h-3.2Z"/><path d="M444.5,401.2l1.6,2.8h-3.2Z"/></g>
<g fill="none" stroke="#9a7b5b" stroke-opacity="1.0" stroke-width="0.8"><path d="M441.7,374.3h3.8M443.6,372.4v3.8"/><path d="M439.6,384h3.8M441.5,382.2v3.8"/><path d="M448.1,401.2h3.8M449.9,399.3v3.8"/><path d="M435.3,332.3h3.8M437.1,330.4v3.8"/></g>
<g fill="none" stroke="#8b3a2a" stroke-opacity="1.0" stroke-width="0.8"><path d="M444,339.4h3.8M445.9,337.5v3.8"/><path d="M444.9,357.3h3.8M446.8,355.4v3.8"/><path d="M439.5,367.2h3.8M441.4,365.3v3.8"/><path d="M446.3,363.4h3.8M448.2,361.5v3.8"/><path d="M438,374.5h3.8M439.9,372.6v3.8"/></g>
<g fill="#d21c1c" fill-opacity="1.0"><path d="M435.9,339.5l1.6,2.8h-3.2Z"/><path d="M452.7,370.2l1.6,2.8h-3.2Z"/><path d="M447.9,383.3l1.6,2.8h-3.2Z"/><path d="M445,359.7l1.6,2.8h-3.2Z"/><path d="M454.1,388.6l1.6,2.8h-3.2Z"/><path d="M456,360.4l1.6,2.8h-3.2Z"/><path d="M441.1,377.1l1.6,2.8h-3.2Z"/><path d="M437.5,367.6l1.6,2.8h-3.2Z"/><path d="M433.2,368.1l1.6,2.8h-3.2Z"/></g>
<g fill="#15a58e" fill-opacity="1.0"><circle cx="449.5" cy="379.7" r="1.2"/><circle cx="457.9" cy="370.1" r="1.2"/></g>
<ellipse cx="420.2" cy="367.2" rx="51.8" ry="74.5" transform="rotate(22 420.2 367.2)" fill="none" stroke="#6ab04c" stroke-width="0.95" stroke-dasharray="3.4 2.4"/>
<ellipse cx="420.5" cy="352.2" rx="49.1" ry="63.6" transform="rotate(-27 420.5 352.2)" fill="none" stroke="#1a1a1a" stroke-width="0.95" stroke-dasharray="3.4 2.4"/>
<ellipse cx="420" cy="349.5" rx="48.5" ry="58" transform="rotate(-10 420 349.5)" fill="none" stroke="#9a7b5b" stroke-width="0.95" stroke-dasharray="3.4 2.4"/>
<ellipse cx="421" cy="352" rx="50" ry="60" transform="rotate(-15 421 352)" fill="none" stroke="#8b3a2a" stroke-width="0.95" stroke-dasharray="3.4 2.4"/>
<ellipse cx="424" cy="362" rx="46" ry="60" transform="rotate(0 424 362)" fill="none" stroke="#2d6db5" stroke-width="0.95" stroke-dasharray="3.4 2.4"/>
<ellipse cx="422" cy="360" rx="47" ry="62" transform="rotate(5 422 360)" fill="none" stroke="#d21c1c" stroke-width="0.95" stroke-dasharray="3.4 2.4"/>
<ellipse cx="423" cy="360" rx="46" ry="58" transform="rotate(-5 423 360)" fill="none" stroke="#15a58e" stroke-width="0.95" stroke-dasharray="3.4 2.4"/>
<ellipse cx="423" cy="362" rx="45" ry="61" transform="rotate(8 423 362)" fill="none" stroke="#f5b800" stroke-width="0.95" stroke-dasharray="3.4 2.4"/>
<rect x="358.4" y="264.4" width="125.9" height="186.6" fill="none" stroke="#4a4a4a" stroke-width="0.8"/>
<line x1="537.1" y1="264.4" x2="537.1" y2="450.3" stroke="#f3f3f3" stroke-width="0.5"/>
<line x1="563.3" y1="264.4" x2="563.3" y2="450.3" stroke="#f3f3f3" stroke-width="0.5"/>
<line x1="589.5" y1="264.4" x2="589.5" y2="450.3" stroke="#f3f3f3" stroke-width="0.5"/>
<line x1="615.7" y1="264.4" x2="615.7" y2="450.3" stroke="#f3f3f3" stroke-width="0.5"/>
<line x1="513.3" y1="445.9" x2="638.6" y2="445.9" stroke="#f3f3f3" stroke-width="0.5"/>
<line x1="513.3" y1="410.7" x2="638.6" y2="410.7" stroke="#f3f3f3" stroke-width="0.5"/>
<line x1="513.3" y1="375.4" x2="638.6" y2="375.4" stroke="#f3f3f3" stroke-width="0.5"/>
<line x1="513.3" y1="340.2" x2="638.6" y2="340.2" stroke="#f3f3f3" stroke-width="0.5"/>
<line x1="513.3" y1="304.9" x2="638.6" y2="304.9" stroke="#f3f3f3" stroke-width="0.5"/>
<line x1="513.3" y1="269.7" x2="638.6" y2="269.7" stroke="#f3f3f3" stroke-width="0.5"/>
<line x1="524" y1="264.4" x2="524" y2="450.3" stroke="#e8e8e8" stroke-width="0.6"/>
<line x1="550.2" y1="264.4" x2="550.2" y2="450.3" stroke="#e8e8e8" stroke-width="0.6"/>
<line x1="576.4" y1="264.4" x2="576.4" y2="450.3" stroke="#e8e8e8" stroke-width="0.6"/>
<line x1="602.6" y1="264.4" x2="602.6" y2="450.3" stroke="#e8e8e8" stroke-width="0.6"/>
<line x1="628.8" y1="264.4" x2="628.8" y2="450.3" stroke="#e8e8e8" stroke-width="0.6"/>
<line x1="513.3" y1="428.3" x2="638.6" y2="428.3" stroke="#e8e8e8" stroke-width="0.6"/>
<line x1="513.3" y1="393.1" x2="638.6" y2="393.1" stroke="#e8e8e8" stroke-width="0.6"/>
<line x1="513.3" y1="357.8" x2="638.6" y2="357.8" stroke="#e8e8e8" stroke-width="0.6"/>
<line x1="513.3" y1="322.6" x2="638.6" y2="322.6" stroke="#e8e8e8" stroke-width="0.6"/>
<line x1="513.3" y1="287.3" x2="638.6" y2="287.3" stroke="#e8e8e8" stroke-width="0.6"/>
<g fill="#f5b800" fill-opacity="1.0"><path d="M573.4,371.8l1.6,2.8h-3.2Z"/><path d="M538.2,387.7l1.6,2.8h-3.2Z"/><path d="M571.9,345l1.6,2.8h-3.2Z"/><path d="M558.2,369.5l1.6,2.8h-3.2Z"/><path d="M552.5,350.2l1.6,2.8h-3.2Z"/><path d="M548.2,376.1l1.6,2.8h-3.2Z"/><path d="M563.6,350.4l1.6,2.8h-3.2Z"/><path d="M570.6,354.1l1.6,2.8h-3.2Z"/><path d="M560.1,327.6l1.6,2.8h-3.2Z"/><path d="M572.5,348.8l1.6,2.8h-3.2Z"/><path d="M574.8,370l1.6,2.8h-3.2Z"/><path d="M597.8,331.2l1.6,2.8h-3.2Z"/><path d="M557.1,310.6l1.6,2.8h-3.2Z"/><path d="M558.5,371.2l1.6,2.8h-3.2Z"/><path d="M550.4,320.3l1.6,2.8h-3.2Z"/></g>
<g fill="#15a58e" fill-opacity="1.0"><path d="M574,315.7l1.6,2.8h-3.2Z"/><path d="M546.9,333.3l1.6,2.8h-3.2Z"/><path d="M572.8,337.1l1.6,2.8h-3.2Z"/><path d="M568.9,365.4l1.6,2.8h-3.2Z"/><path d="M547.9,355.7l1.6,2.8h-3.2Z"/><path d="M544.9,359.5l1.6,2.8h-3.2Z"/><path d="M572.9,360.3l1.6,2.8h-3.2Z"/><path d="M570.7,328.9l1.6,2.8h-3.2Z"/><path d="M591.4,347.4l1.6,2.8h-3.2Z"/><path d="M572,346.5l1.6,2.8h-3.2Z"/><path d="M584.1,311.5l1.6,2.8h-3.2Z"/><path d="M585.1,329.6l1.6,2.8h-3.2Z"/><path d="M557.3,338.9l1.6,2.8h-3.2Z"/><path d="M581.5,325.6l1.6,2.8h-3.2Z"/></g>
<g fill="#2d6db5" fill-opacity="1.0"><path d="M593.5,374.2L594.1,375.4L595.4,376L594.1,376.7L593.5,377.9L592.9,376.7L591.7,376L592.9,375.4Z"/><path d="M604.5,329.7L605.1,331L606.4,331.6L605.1,332.2L604.5,333.5L603.9,332.2L602.6,331.6L603.9,331Z"/><path d="M575.7,340.3L576.3,341.5L577.6,342.2L576.3,342.8L575.7,344L575.1,342.8L573.8,342.2L575.1,341.5Z"/><path d="M546.9,381.1L547.5,382.3L548.7,382.9L547.5,383.6L546.9,384.8L546.2,383.6L545,382.9L546.2,382.3Z"/><path d="M574.8,376.5L575.4,377.8L576.7,378.4L575.4,379L574.8,380.3L574.2,379L572.9,378.4L574.2,377.8Z"/><path d="M569.1,409.1L569.7,410.4L571,411L569.7,411.6L569.1,412.9L568.5,411.6L567.2,411L568.5,410.4Z"/><path d="M592.1,384.3L592.8,385.6L594,386.2L592.8,386.8L592.1,388.1L591.5,386.8L590.3,386.2L591.5,385.6Z"/><path d="M630.3,389L630.9,390.2L632.2,390.8L630.9,391.5L630.3,392.7L629.7,391.5L628.4,390.8L629.7,390.2Z"/><path d="M606.9,379.8L607.5,381L608.8,381.6L607.5,382.3L606.9,383.5L606.3,382.3L605,381.6L606.3,381Z"/><path d="M589.8,315.1L590.4,316.3L591.7,316.9L590.4,317.6L589.8,318.8L589.2,317.6L587.9,316.9L589.2,316.3Z"/><path d="M594.6,373.8L595.2,375.1L596.5,375.7L595.2,376.3L594.6,377.6L594,376.3L592.7,375.7L594,375.1Z"/><path d="M607,324.7L607.6,326L608.9,326.6L607.6,327.2L607,328.5L606.4,327.2L605.1,326.6L606.4,326Z"/></g>
<g fill="#d21c1c" fill-opacity="1.0"><path d="M561.7,372.3L562.3,373.6L563.6,374.2L562.3,374.8L561.7,376.1L561.1,374.8L559.8,374.2L561.1,373.6Z"/><path d="M559.8,344.3L560.4,345.5L561.7,346.1L560.4,346.7L559.8,348L559.2,346.7L557.9,346.1L559.2,345.5Z"/><path d="M550.9,417.3L551.5,418.6L552.8,419.2L551.5,419.8L550.9,421.1L550.3,419.8L549,419.2L550.3,418.6Z"/><path d="M597.9,420.8L598.5,422.1L599.8,422.7L598.5,423.3L597.9,424.6L597.3,423.3L596,422.7L597.3,422.1Z"/><path d="M566.4,419.4L567.1,420.7L568.3,421.3L567.1,421.9L566.4,423.2L565.8,421.9L564.6,421.3L565.8,420.7Z"/><path d="M562.8,315.3L563.4,316.6L564.6,317.2L563.4,317.8L562.8,319.1L562.2,317.8L560.9,317.2L562.2,316.6Z"/><path d="M613.7,347.3L614.3,348.6L615.6,349.2L614.3,349.8L613.7,351.1L613.1,349.8L611.9,349.2L613.1,348.6Z"/><path d="M618.1,355.5L618.7,356.7L619.9,357.3L618.7,357.9L618.1,359.2L617.4,357.9L616.2,357.3L617.4,356.7Z"/><path d="M561.9,427.5L562.5,428.7L563.8,429.4L562.5,430L561.9,431.2L561.3,430L560,429.4L561.3,428.7Z"/></g>
<g fill="#d21c1c" fill-opacity="1.0"><path d="M583.2,392.7L583.8,394L585,394.6L583.8,395.2L583.2,396.5L582.6,395.2L581.3,394.6L582.6,394Z"/><path d="M559.2,349.6L559.8,350.9L561.1,351.5L559.8,352.1L559.2,353.4L558.6,352.1L557.3,351.5L558.6,350.9Z"/><path d="M575.5,366.4L576.1,367.7L577.4,368.3L576.1,368.9L575.5,370.2L574.9,368.9L573.6,368.3L574.9,367.7Z"/><path d="M544.5,376.7L545.1,378L546.4,378.6L545.1,379.2L544.5,380.5L543.9,379.2L542.6,378.6L543.9,378Z"/><path d="M559.4,358.8L560,360.1L561.3,360.7L560,361.3L559.4,362.6L558.8,361.3L557.5,360.7L558.8,360.1Z"/><path d="M607,391.7L607.6,393L608.9,393.6L607.6,394.2L607,395.5L606.4,394.2L605.2,393.6L606.4,393Z"/><path d="M597.4,354.4L598,355.7L599.3,356.3L598,356.9L597.4,358.2L596.8,356.9L595.5,356.3L596.8,355.7Z"/><path d="M591.2,343.5L591.8,344.7L593,345.3L591.8,346L591.2,347.2L590.5,346L589.3,345.3L590.5,344.7Z"/><path d="M552.5,372.2L553.2,373.5L554.4,374.1L553.2,374.7L552.5,376L551.9,374.7L550.7,374.1L551.9,373.5Z"/><path d="M616.2,410L616.8,411.3L618.1,411.9L616.8,412.5L616.2,413.8L615.6,412.5L614.3,411.9L615.6,411.3Z"/><path d="M560.4,435.5L561.1,436.7L562.3,437.3L561.1,437.9L560.4,439.2L559.8,437.9L558.6,437.3L559.8,436.7Z"/><path d="M572.4,375.9L573,377.2L574.2,377.8L573,378.4L572.4,379.7L571.8,378.4L570.5,377.8L571.8,377.2Z"/><path d="M578.5,414.4L579.1,415.7L580.4,416.3L579.1,416.9L578.5,418.2L577.9,416.9L576.6,416.3L577.9,415.7Z"/></g>
<g fill="#2d6db5" fill-opacity="1.0"><path d="M606.5,413.1L607.1,414.4L608.3,415L607.1,415.6L606.5,416.9L605.8,415.6L604.6,415L605.8,414.4Z"/><path d="M593.5,390.8L594.1,392.1L595.4,392.7L594.1,393.3L593.5,394.6L592.9,393.3L591.6,392.7L592.9,392.1Z"/><path d="M597.7,399.8L598.3,401.1L599.6,401.7L598.3,402.3L597.7,403.6L597.1,402.3L595.8,401.7L597.1,401.1Z"/><path d="M576.1,358.5L576.7,359.7L578,360.4L576.7,361L576.1,362.2L575.5,361L574.3,360.4L575.5,359.7Z"/><path d="M552.8,413.9L553.4,415.2L554.7,415.8L553.4,416.4L552.8,417.7L552.2,416.4L550.9,415.8L552.2,415.2Z"/><path d="M585.9,354.3L586.5,355.5L587.8,356.1L586.5,356.7L585.9,358L585.3,356.7L584.1,356.1L585.3,355.5Z"/><path d="M615.8,404.8L616.4,406.1L617.7,406.7L616.4,407.3L615.8,408.6L615.2,407.3L613.9,406.7L615.2,406.1Z"/><path d="M604.7,349.4L605.3,350.7L606.6,351.3L605.3,351.9L604.7,353.2L604.1,351.9L602.8,351.3L604.1,350.7Z"/><path d="M611.2,324.4L611.8,325.7L613.1,326.3L611.8,326.9L611.2,328.2L610.6,326.9L609.3,326.3L610.6,325.7Z"/><path d="M623.5,349.6L624.2,350.9L625.4,351.5L624.2,352.1L623.5,353.4L622.9,352.1L621.7,351.5L622.9,350.9Z"/><path d="M607.6,366.9L608.2,368.2L609.5,368.8L608.2,369.4L607.6,370.7L607,369.4L605.7,368.8L607,368.2Z"/><path d="M555.8,378.4L556.4,379.7L557.6,380.3L556.4,380.9L555.8,382.2L555.2,380.9L553.9,380.3L555.2,379.7Z"/><path d="M599.1,328.4L599.7,329.6L600.9,330.2L599.7,330.9L599.1,332.1L598.5,330.9L597.2,330.2L598.5,329.6Z"/></g>
<g fill="#15a58e" fill-opacity="1.0"><path d="M582.8,366.2l1.6,2.8h-3.2Z"/><path d="M555.5,339.5l1.6,2.8h-3.2Z"/><path d="M579.7,358.7l1.6,2.8h-3.2Z"/><path d="M565.9,325.3l1.6,2.8h-3.2Z"/><path d="M598.4,344l1.6,2.8h-3.2Z"/><path d="M547.1,341.2l1.6,2.8h-3.2Z"/><path d="M555.3,395.6l1.6,2.8h-3.2Z"/><path d="M580.5,326l1.6,2.8h-3.2Z"/><path d="M579.4,338.2l1.6,2.8h-3.2Z"/><path d="M543.8,318.5l1.6,2.8h-3.2Z"/><path d="M557.6,357.1l1.6,2.8h-3.2Z"/></g>
<g fill="#f5b800" fill-opacity="1.0"><path d="M576.8,375.5l1.6,2.8h-3.2Z"/><path d="M561.6,371.1l1.6,2.8h-3.2Z"/><path d="M556.4,382.9l1.6,2.8h-3.2Z"/><path d="M575,323l1.6,2.8h-3.2Z"/><path d="M558.3,394.2l1.6,2.8h-3.2Z"/><path d="M566.6,334.4l1.6,2.8h-3.2Z"/><path d="M557.6,361.5l1.6,2.8h-3.2Z"/><path d="M569.2,381.6l1.6,2.8h-3.2Z"/><path d="M568.5,356l1.6,2.8h-3.2Z"/><path d="M564.3,355.1l1.6,2.8h-3.2Z"/><path d="M558.5,310.6l1.6,2.8h-3.2Z"/><path d="M542.1,391.8l1.6,2.8h-3.2Z"/><path d="M566.7,303.7l1.6,2.8h-3.2Z"/></g>
<g fill="#d21c1c" fill-opacity="1.0"><path d="M563.1,418.4L563.7,419.6L564.9,420.2L563.7,420.9L563.1,422.1L562.5,420.9L561.2,420.2L562.5,419.6Z"/><path d="M592.7,359.4L593.3,360.7L594.6,361.3L593.3,361.9L592.7,363.2L592.1,361.9L590.8,361.3L592.1,360.7Z"/><path d="M581.4,359.2L582,360.5L583.3,361.1L582,361.7L581.4,363L580.8,361.7L579.5,361.1L580.8,360.5Z"/><path d="M555.3,395.1L555.9,396.3L557.2,397L555.9,397.6L555.3,398.8L554.7,397.6L553.4,397L554.7,396.3Z"/><path d="M581.2,422.1L581.8,423.3L583.1,423.9L581.8,424.6L581.2,425.8L580.6,424.6L579.3,423.9L580.6,423.3Z"/></g>
<g fill="#15a58e" fill-opacity="1.0"><path d="M575.3,359.2l1.6,2.8h-3.2Z"/><path d="M547.9,323.3l1.6,2.8h-3.2Z"/><path d="M587.4,296l1.6,2.8h-3.2Z"/><path d="M563.8,315.6l1.6,2.8h-3.2Z"/><path d="M588,372.9l1.6,2.8h-3.2Z"/><path d="M577,322.3l1.6,2.8h-3.2Z"/><path d="M566.1,357.8l1.6,2.8h-3.2Z"/><path d="M564.5,346.7l1.6,2.8h-3.2Z"/><path d="M556.2,344.4l1.6,2.8h-3.2Z"/><path d="M558.9,286.2l1.6,2.8h-3.2Z"/><path d="M586.1,357.7l1.6,2.8h-3.2Z"/><path d="M567.7,381l1.6,2.8h-3.2Z"/><path d="M569.4,383.5l1.6,2.8h-3.2Z"/><path d="M555.3,307.5l1.6,2.8h-3.2Z"/><path d="M563.8,384.4l1.6,2.8h-3.2Z"/><path d="M562,303.8l1.6,2.8h-3.2Z"/><path d="M581.9,357.6l1.6,2.8h-3.2Z"/></g>
<g fill="#2d6db5" fill-opacity="1.0"><path d="M566.3,364.3L566.9,365.6L568.1,366.2L566.9,366.8L566.3,368.1L565.6,366.8L564.4,366.2L565.6,365.6Z"/><path d="M572.3,381.7L572.9,383L574.2,383.6L572.9,384.2L572.3,385.5L571.7,384.2L570.4,383.6L571.7,383Z"/><path d="M625.1,383.9L625.7,385.2L627,385.8L625.7,386.4L625.1,387.7L624.5,386.4L623.2,385.8L624.5,385.2Z"/><path d="M599.3,357.9L599.9,359.2L601.2,359.8L599.9,360.4L599.3,361.7L598.7,360.4L597.4,359.8L598.7,359.2Z"/><path d="M576.5,362.2L577.1,363.4L578.4,364L577.1,364.7L576.5,365.9L575.9,364.7L574.6,364L575.9,363.4Z"/><path d="M628.6,348.3L629.2,349.6L630.5,350.2L629.2,350.8L628.6,352.1L628,350.8L626.7,350.2L628,349.6Z"/><path d="M614.5,413.1L615.1,414.4L616.4,415L615.1,415.6L614.5,416.9L613.9,415.6L612.6,415L613.9,414.4Z"/><path d="M582.8,380.2L583.4,381.4L584.7,382L583.4,382.6L582.8,383.9L582.2,382.6L580.9,382L582.2,381.4Z"/><path d="M601.6,357.7L602.2,359L603.5,359.6L602.2,360.2L601.6,361.5L601,360.2L599.7,359.6L601,359Z"/><path d="M568.8,382.2L569.4,383.4L570.7,384L569.4,384.7L568.8,385.9L568.2,384.7L566.9,384L568.2,383.4Z"/><path d="M568.4,403.2L569,404.5L570.3,405.1L569,405.7L568.4,407L567.8,405.7L566.5,405.1L567.8,404.5Z"/><path d="M546.6,357.1L547.2,358.4L548.5,359L547.2,359.6L546.6,360.9L546,359.6L544.7,359L546,358.4Z"/><path d="M580.1,343.6L580.7,344.8L582,345.5L580.7,346.1L580.1,347.3L579.5,346.1L578.2,345.5L579.5,344.8Z"/><path d="M604.8,408.3L605.4,409.6L606.7,410.2L605.4,410.8L604.8,412.1L604.2,410.8L602.9,410.2L604.2,409.6Z"/></g>
<g fill="#f5b800" fill-opacity="1.0"><path d="M586.2,354.9l1.6,2.8h-3.2Z"/><path d="M550.7,354.7l1.6,2.8h-3.2Z"/><path d="M575.7,323.5l1.6,2.8h-3.2Z"/><path d="M545.3,361.6l1.6,2.8h-3.2Z"/><path d="M566.4,311.3l1.6,2.8h-3.2Z"/><path d="M565.8,326.2l1.6,2.8h-3.2Z"/><path d="M553.4,332.3l1.6,2.8h-3.2Z"/><path d="M543.7,333.8l1.6,2.8h-3.2Z"/><path d="M566.6,323.5l1.6,2.8h-3.2Z"/><path d="M592.6,361.7l1.6,2.8h-3.2Z"/><path d="M597.3,336.2l1.6,2.8h-3.2Z"/><path d="M548.9,368.1l1.6,2.8h-3.2Z"/><path d="M572.2,335l1.6,2.8h-3.2Z"/><path d="M553.2,353l1.6,2.8h-3.2Z"/></g>
<g fill="#15a58e" fill-opacity="1.0"><path d="M560.6,315l1.6,2.8h-3.2Z"/><path d="M563.6,298.8l1.6,2.8h-3.2Z"/><path d="M554.2,339.4l1.6,2.8h-3.2Z"/><path d="M564.9,308l1.6,2.8h-3.2Z"/><path d="M585.1,356.2l1.6,2.8h-3.2Z"/><path d="M578.3,322.6l1.6,2.8h-3.2Z"/><path d="M554.3,353.4l1.6,2.8h-3.2Z"/><path d="M576.3,351.7l1.6,2.8h-3.2Z"/><path d="M591.7,295l1.6,2.8h-3.2Z"/><path d="M572.4,368.6l1.6,2.8h-3.2Z"/><path d="M559.1,374.9l1.6,2.8h-3.2Z"/><path d="M590.9,305.9l1.6,2.8h-3.2Z"/></g>
<g fill="#d21c1c" fill-opacity="1.0"><path d="M571,381.2L571.6,382.4L572.9,383L571.6,383.6L571,384.9L570.4,383.6L569.1,383L570.4,382.4Z"/><path d="M629.3,363L630,364.3L631.2,364.9L630,365.5L629.3,366.8L628.7,365.5L627.5,364.9L628.7,364.3Z"/><path d="M602.4,366.2L603,367.5L604.3,368.1L603,368.7L602.4,370L601.8,368.7L600.5,368.1L601.8,367.5Z"/><path d="M568.3,372.4L568.9,373.7L570.2,374.3L568.9,374.9L568.3,376.1L567.7,374.9L566.4,374.3L567.7,373.7Z"/><path d="M620,388.5L620.6,389.8L621.9,390.4L620.6,391L620,392.3L619.4,391L618.1,390.4L619.4,389.8Z"/><path d="M559.2,362.7L559.8,364L561.1,364.6L559.8,365.2L559.2,366.4L558.6,365.2L557.3,364.6L558.6,364Z"/><path d="M558.2,336.1L558.8,337.4L560.1,338L558.8,338.6L558.2,339.9L557.6,338.6L556.3,338L557.6,337.4Z"/><path d="M577.2,345.5L577.8,346.8L579,347.4L577.8,348L577.2,349.3L576.5,348L575.3,347.4L576.5,346.8Z"/><path d="M579.8,359.1L580.4,360.4L581.7,361L580.4,361.6L579.8,362.9L579.2,361.6L577.9,361L579.2,360.4Z"/><path d="M593.1,330.9L593.7,332.2L595,332.8L593.7,333.4L593.1,334.7L592.5,333.4L591.2,332.8L592.5,332.2Z"/><path d="M593.9,368.3L594.5,369.6L595.8,370.2L594.5,370.8L593.9,372.1L593.3,370.8L592.1,370.2L593.3,369.6Z"/><path d="M616.3,380L616.9,381.3L618.1,381.9L616.9,382.5L616.3,383.8L615.6,382.5L614.4,381.9L615.6,381.3Z"/><path d="M584.9,351.4L585.5,352.7L586.7,353.3L585.5,353.9L584.9,355.1L584.2,353.9L583,353.3L584.2,352.7Z"/><path d="M580.1,355L580.7,356.3L582,356.9L580.7,357.5L580.1,358.8L579.5,357.5L578.2,356.9L579.5,356.3Z"/></g>
<g fill="#f5b800" fill-opacity="1.0"><path d="M562.9,343.9l1.6,2.8h-3.2Z"/><path d="M557.5,335.3l1.6,2.8h-3.2Z"/><path d="M550.2,361.8l1.6,2.8h-3.2Z"/><path d="M552,363.9l1.6,2.8h-3.2Z"/><path d="M574.8,320.7l1.6,2.8h-3.2Z"/><path d="M555.1,372.4l1.6,2.8h-3.2Z"/><path d="M563.5,350.7l1.6,2.8h-3.2Z"/><path d="M565.1,362.7l1.6,2.8h-3.2Z"/><path d="M551.6,350l1.6,2.8h-3.2Z"/><path d="M564.3,360.7l1.6,2.8h-3.2Z"/><path d="M581.9,334l1.6,2.8h-3.2Z"/><path d="M577.6,336.3l1.6,2.8h-3.2Z"/><path d="M561.5,344.1l1.6,2.8h-3.2Z"/><path d="M550.5,328.5l1.6,2.8h-3.2Z"/><path d="M583.5,370.8l1.6,2.8h-3.2Z"/></g>
<g fill="#2d6db5" fill-opacity="1.0"><path d="M587,393.2L587.6,394.5L588.8,395.1L587.6,395.7L587,397L586.4,395.7L585.1,395.1L586.4,394.5Z"/><path d="M546.1,357L546.7,358.3L547.9,358.9L546.7,359.5L546.1,360.8L545.4,359.5L544.2,358.9L545.4,358.3Z"/><path d="M576.3,384.1L576.9,385.4L578.2,386L576.9,386.6L576.3,387.9L575.7,386.6L574.4,386L575.7,385.4Z"/><path d="M570.2,365.1L570.8,366.4L572.1,367L570.8,367.6L570.2,368.9L569.6,367.6L568.3,367L569.6,366.4Z"/><path d="M546.6,377.6L547.3,378.8L548.5,379.4L547.3,380L546.6,381.3L546,380L544.8,379.4L546,378.8Z"/><path d="M605.8,342L606.4,343.3L607.7,343.9L606.4,344.5L605.8,345.8L605.2,344.5L603.9,343.9L605.2,343.3Z"/><path d="M580.3,376.3L580.9,377.6L582.2,378.2L580.9,378.8L580.3,380.1L579.7,378.8L578.4,378.2L579.7,377.6Z"/><path d="M609,364.1L609.6,365.4L610.9,366L609.6,366.6L609,367.9L608.4,366.6L607.1,366L608.4,365.4Z"/><path d="M614.8,361L615.4,362.3L616.7,362.9L615.4,363.5L614.8,364.8L614.2,363.5L612.9,362.9L614.2,362.3Z"/></g>
<g fill="#f5b800" fill-opacity="1.0"><path d="M590.2,303.1l1.6,2.8h-3.2Z"/><path d="M574.1,308.9l1.6,2.8h-3.2Z"/><path d="M585.3,314.5l1.6,2.8h-3.2Z"/><path d="M546.3,319.9l1.6,2.8h-3.2Z"/><path d="M582.8,366.6l1.6,2.8h-3.2Z"/><path d="M550.8,340.5l1.6,2.8h-3.2Z"/><path d="M568.6,364.4l1.6,2.8h-3.2Z"/><path d="M576,335.2l1.6,2.8h-3.2Z"/><path d="M564.1,313.3l1.6,2.8h-3.2Z"/><path d="M596.1,325.5l1.6,2.8h-3.2Z"/><path d="M561.2,339.5l1.6,2.8h-3.2Z"/><path d="M570.7,356.3l1.6,2.8h-3.2Z"/><path d="M581.6,302.6l1.6,2.8h-3.2Z"/><path d="M579.8,336l1.6,2.8h-3.2Z"/><path d="M579.2,324.5l1.6,2.8h-3.2Z"/><path d="M580.6,320.4l1.6,2.8h-3.2Z"/></g>
<g fill="#2d6db5" fill-opacity="1.0"><path d="M561.4,398.9L562,400.2L563.3,400.8L562,401.4L561.4,402.7L560.8,401.4L559.5,400.8L560.8,400.2Z"/><path d="M578.7,331.9L579.4,333.2L580.6,333.8L579.4,334.4L578.7,335.7L578.1,334.4L576.9,333.8L578.1,333.2Z"/><path d="M554.7,368.5L555.3,369.8L556.6,370.4L555.3,371L554.7,372.3L554.1,371L552.8,370.4L554.1,369.8Z"/><path d="M576.1,366.2L576.7,367.5L578,368.1L576.7,368.7L576.1,370L575.5,368.7L574.2,368.1L575.5,367.5Z"/><path d="M567,350L567.6,351.3L568.9,351.9L567.6,352.5L567,353.8L566.4,352.5L565.1,351.9L566.4,351.3Z"/><path d="M597.9,381.2L598.5,382.5L599.8,383.1L598.5,383.7L597.9,385L597.3,383.7L596,383.1L597.3,382.5Z"/><path d="M580.6,419.7L581.2,420.9L582.5,421.5L581.2,422.2L580.6,423.4L580,422.2L578.7,421.5L580,420.9Z"/><path d="M572.2,358.9L572.8,360.2L574.1,360.8L572.8,361.4L572.2,362.7L571.6,361.4L570.3,360.8L571.6,360.2Z"/></g>
<g fill="#15a58e" fill-opacity="1.0"><path d="M567.3,307.8l1.6,2.8h-3.2Z"/><path d="M542.4,325.6l1.6,2.8h-3.2Z"/><path d="M577.7,354.3l1.6,2.8h-3.2Z"/><path d="M592.9,331l1.6,2.8h-3.2Z"/><path d="M541.9,319.8l1.6,2.8h-3.2Z"/><path d="M570.5,323.1l1.6,2.8h-3.2Z"/><path d="M591.4,328.8l1.6,2.8h-3.2Z"/><path d="M584.5,315.3l1.6,2.8h-3.2Z"/><path d="M565.6,337.9l1.6,2.8h-3.2Z"/><path d="M581.9,301.2l1.6,2.8h-3.2Z"/><path d="M567.3,305.6l1.6,2.8h-3.2Z"/><path d="M578.6,360.3l1.6,2.8h-3.2Z"/></g>
<g fill="#d21c1c" fill-opacity="1.0"><path d="M580.6,441.6L581.2,442.9L582.5,443.5L581.2,444.1L580.6,445.4L580,444.1L578.7,443.5L580,442.9Z"/><path d="M567.8,421.3L568.4,422.6L569.7,423.2L568.4,423.8L567.8,425.1L567.2,423.8L565.9,423.2L567.2,422.6Z"/><path d="M589.8,415.4L590.4,416.6L591.7,417.3L590.4,417.9L589.8,419.1L589.2,417.9L587.9,417.3L589.2,416.6Z"/><path d="M602.4,399.8L603,401.1L604.3,401.7L603,402.3L602.4,403.6L601.8,402.3L600.5,401.7L601.8,401.1Z"/><path d="M578,390.3L578.6,391.6L579.8,392.2L578.6,392.8L578,394.1L577.3,392.8L576.1,392.2L577.3,391.6Z"/><path d="M598.4,439.8L599,441L600.2,441.7L599,442.3L598.4,443.5L597.7,442.3L596.5,441.7L597.7,441Z"/><path d="M594.3,343.5L594.9,344.8L596.2,345.4L594.9,346L594.3,347.3L593.7,346L592.4,345.4L593.7,344.8Z"/><path d="M606.2,396.4L606.8,397.6L608.1,398.2L606.8,398.9L606.2,400.1L605.6,398.9L604.3,398.2L605.6,397.6Z"/><path d="M570.9,401.7L571.5,402.9L572.8,403.5L571.5,404.2L570.9,405.4L570.3,404.2L569,403.5L570.3,402.9Z"/><path d="M598.5,372.7L599.1,374L600.4,374.6L599.1,375.2L598.5,376.5L597.9,375.2L596.6,374.6L597.9,374Z"/><path d="M608.2,370.6L608.8,371.9L610.1,372.5L608.8,373.1L608.2,374.4L607.6,373.1L606.3,372.5L607.6,371.9Z"/><path d="M580.6,380.1L581.2,381.4L582.5,382L581.2,382.6L580.6,383.9L580,382.6L578.7,382L580,381.4Z"/><path d="M592.3,420.4L592.9,421.6L594.1,422.2L592.9,422.9L592.3,424.1L591.6,422.9L590.4,422.2L591.6,421.6Z"/><path d="M576.2,364.5L576.8,365.8L578,366.4L576.8,367L576.2,368.3L575.6,367L574.3,366.4L575.6,365.8Z"/></g>
<g fill="#f5b800" fill-opacity="1.0"><path d="M562.8,308.5l1.6,2.8h-3.2Z"/><path d="M540.7,374.2l1.6,2.8h-3.2Z"/><path d="M574.8,344.1l1.6,2.8h-3.2Z"/></g>
<g fill="#2d6db5" fill-opacity="1.0"><path d="M586.6,373.3L587.2,374.6L588.5,375.2L587.2,375.8L586.6,377.1L586,375.8L584.7,375.2L586,374.6Z"/><path d="M595.2,361.6L595.8,362.9L597.1,363.5L595.8,364.1L595.2,365.4L594.6,364.1L593.3,363.5L594.6,362.9Z"/></g>
<g fill="#d21c1c" fill-opacity="1.0"><path d="M585.7,368.2L586.3,369.5L587.6,370.1L586.3,370.7L585.7,372L585.1,370.7L583.8,370.1L585.1,369.5Z"/></g>
<ellipse cx="582" cy="356.5" rx="36" ry="81" transform="rotate(2 582 356.5)" fill="none" stroke="#d21c1c" stroke-width="0.95" stroke-dasharray="3.4 2.4"/>
<ellipse cx="579" cy="360" rx="36" ry="76.5" transform="rotate(2 579 360)" fill="none" stroke="#2d6db5" stroke-width="0.95" stroke-dasharray="3.4 2.4"/>
<ellipse cx="569" cy="352" rx="29" ry="75" transform="rotate(12 569 352)" fill="none" stroke="#f5b800" stroke-width="0.95" stroke-dasharray="3.4 2.4"/>
<ellipse cx="569" cy="353" rx="30" ry="70" transform="rotate(12 569 353)" fill="none" stroke="#15a58e" stroke-width="0.95" stroke-dasharray="3.4 2.4"/>
<rect x="513.3" y="264.4" width="125.3" height="185.9" fill="none" stroke="#4a4a4a" stroke-width="0.8"/>
<text x="355.6" y="289" font-size="6.5" text-anchor="end" fill="#4d4d4d">0.10</text>
<line x1="356.2" y1="286.7" x2="358.4" y2="286.7" stroke="#4d4d4d" stroke-width="0.5"/>
<text x="510.8" y="289.6" font-size="6.5" text-anchor="end" fill="#4d4d4d">0.10</text>
<line x1="511.2" y1="287.3" x2="513.3" y2="287.3" stroke="#4d4d4d" stroke-width="0.5"/>
<text x="355.6" y="324.6" font-size="6.5" text-anchor="end" fill="#4d4d4d">0.05</text>
<line x1="356.2" y1="322.2" x2="358.4" y2="322.2" stroke="#4d4d4d" stroke-width="0.5"/>
<text x="510.8" y="324.9" font-size="6.5" text-anchor="end" fill="#4d4d4d">0.05</text>
<line x1="511.2" y1="322.6" x2="513.3" y2="322.6" stroke="#4d4d4d" stroke-width="0.5"/>
<text x="355.6" y="360.1" font-size="6.5" text-anchor="end" fill="#4d4d4d">0.00</text>
<line x1="356.2" y1="357.8" x2="358.4" y2="357.8" stroke="#4d4d4d" stroke-width="0.5"/>
<text x="510.8" y="360.1" font-size="6.5" text-anchor="end" fill="#4d4d4d">0.00</text>
<line x1="511.2" y1="357.8" x2="513.3" y2="357.8" stroke="#4d4d4d" stroke-width="0.5"/>
<text x="355.6" y="395.7" font-size="6.5" text-anchor="end" fill="#4d4d4d">-0.05</text>
<line x1="356.2" y1="393.4" x2="358.4" y2="393.4" stroke="#4d4d4d" stroke-width="0.5"/>
<text x="510.8" y="395.4" font-size="6.5" text-anchor="end" fill="#4d4d4d">-0.05</text>
<line x1="511.2" y1="393.1" x2="513.3" y2="393.1" stroke="#4d4d4d" stroke-width="0.5"/>
<text x="355.6" y="431.2" font-size="6.5" text-anchor="end" fill="#4d4d4d">-0.10</text>
<line x1="356.2" y1="428.9" x2="358.4" y2="428.9" stroke="#4d4d4d" stroke-width="0.5"/>
<text x="510.8" y="430.6" font-size="6.5" text-anchor="end" fill="#4d4d4d">-0.10</text>
<line x1="511.2" y1="428.3" x2="513.3" y2="428.3" stroke="#4d4d4d" stroke-width="0.5"/>
<text x="369.3" y="459.8" font-size="6" text-anchor="middle" fill="#4d4d4d">-0.2</text>
<line x1="369.3" y1="451" x2="369.3" y2="452.8" stroke="#4d4d4d" stroke-width="0.5"/>
<text x="524" y="459.8" font-size="6" text-anchor="middle" fill="#4d4d4d">-0.2</text>
<line x1="524" y1="450.3" x2="524" y2="452.1" stroke="#4d4d4d" stroke-width="0.5"/>
<text x="395.3" y="459.8" font-size="6" text-anchor="middle" fill="#4d4d4d">-0.1</text>
<line x1="395.3" y1="451" x2="395.3" y2="452.8" stroke="#4d4d4d" stroke-width="0.5"/>
<text x="550.2" y="459.8" font-size="6" text-anchor="middle" fill="#4d4d4d">-0.1</text>
<line x1="550.2" y1="450.3" x2="550.2" y2="452.1" stroke="#4d4d4d" stroke-width="0.5"/>
<text x="421.3" y="459.8" font-size="6" text-anchor="middle" fill="#4d4d4d">0.0</text>
<line x1="421.3" y1="451" x2="421.3" y2="452.8" stroke="#4d4d4d" stroke-width="0.5"/>
<text x="576.4" y="459.8" font-size="6" text-anchor="middle" fill="#4d4d4d">0.0</text>
<line x1="576.4" y1="450.3" x2="576.4" y2="452.1" stroke="#4d4d4d" stroke-width="0.5"/>
<text x="447.3" y="459.8" font-size="6" text-anchor="middle" fill="#4d4d4d">0.1</text>
<line x1="447.3" y1="451" x2="447.3" y2="452.8" stroke="#4d4d4d" stroke-width="0.5"/>
<text x="602.6" y="459.8" font-size="6" text-anchor="middle" fill="#4d4d4d">0.1</text>
<line x1="602.6" y1="450.3" x2="602.6" y2="452.1" stroke="#4d4d4d" stroke-width="0.5"/>
<text x="473.3" y="459.8" font-size="6" text-anchor="middle" fill="#4d4d4d">0.2</text>
<line x1="473.3" y1="451" x2="473.3" y2="452.8" stroke="#4d4d4d" stroke-width="0.5"/>
<text x="628.8" y="459.8" font-size="6" text-anchor="middle" fill="#4d4d4d">0.2</text>
<line x1="628.8" y1="450.3" x2="628.8" y2="452.1" stroke="#4d4d4d" stroke-width="0.5"/>
<text x="422" y="468.3" font-size="6.9" text-anchor="middle" fill="#000">PCoA1 [21.5%]</text>
<text x="581.7" y="468.3" font-size="6.9" text-anchor="middle" fill="#000">PCoA1 [15%]</text>
<text transform="translate(333.5,355.6) rotate(-90)" x="0" y="2.3" font-size="6.9" text-anchor="middle" fill="#000">PCoA2 [5.3%]</text>
<text transform="translate(494.2,352.9) rotate(-90)" x="0" y="2.3" font-size="6.9" text-anchor="middle" fill="#000">PCoA2 [9.3%]</text>
<line x1="646.4" y1="306.2" x2="658.3" y2="306.2" stroke="#1a1a1a" stroke-width="0.9" stroke-dasharray="3 2"/>
<circle cx="652.3" cy="306.2" r="1.9" fill="#1a1a1a"/>
<text x="664.8" y="304.3" font-size="5.6" text-anchor="start" fill="#1a1a1a">Interv.</text>
<text x="664.8" y="312.1" font-size="5.6" text-anchor="start" fill="#1a1a1a">Tri2</text>
<line x1="646.4" y1="325.7" x2="658.3" y2="325.7" stroke="#6ab04c" stroke-width="0.9" stroke-dasharray="3 2"/>
<circle cx="652.3" cy="325.7" r="1.9" fill="#6ab04c"/>
<text x="664.8" y="323.8" font-size="5.6" text-anchor="start" fill="#1a1a1a">Contr.</text>
<text x="664.8" y="331.6" font-size="5.6" text-anchor="start" fill="#1a1a1a">Tri2</text>
<line x1="646.4" y1="345.1" x2="658.3" y2="345.1" stroke="#8b3a2a" stroke-width="0.9" stroke-dasharray="3 2"/>
<circle cx="652.3" cy="345.1" r="1.9" fill="#8b3a2a"/>
<text x="664.8" y="343.2" font-size="5.6" text-anchor="start" fill="#1a1a1a">Interv.</text>
<text x="664.8" y="351" font-size="5.6" text-anchor="start" fill="#1a1a1a">Tri3</text>
<line x1="646.4" y1="364.6" x2="658.3" y2="364.6" stroke="#9a7b5b" stroke-width="0.9" stroke-dasharray="3 2"/>
<circle cx="652.3" cy="364.6" r="1.9" fill="#9a7b5b"/>
<text x="664.8" y="362.7" font-size="5.6" text-anchor="start" fill="#1a1a1a">Contr.</text>
<text x="664.8" y="370.5" font-size="5.6" text-anchor="start" fill="#1a1a1a">Tri3</text>
<line x1="646.4" y1="384" x2="658.3" y2="384" stroke="#15a58e" stroke-width="0.9" stroke-dasharray="3 2"/>
<circle cx="652.3" cy="384" r="1.9" fill="#15a58e"/>
<text x="664.8" y="382.2" font-size="5.6" text-anchor="start" fill="#1a1a1a">Interv.</text>
<text x="664.8" y="390" font-size="5.6" text-anchor="start" fill="#1a1a1a">Pn12</text>
<line x1="646.4" y1="403.5" x2="658.3" y2="403.5" stroke="#f5b800" stroke-width="0.9" stroke-dasharray="3 2"/>
<circle cx="652.3" cy="403.5" r="1.9" fill="#f5b800"/>
<text x="664.8" y="401.6" font-size="5.6" text-anchor="start" fill="#1a1a1a">Contr.</text>
<text x="664.8" y="409.4" font-size="5.6" text-anchor="start" fill="#1a1a1a">Pn12</text>
<line x1="646.4" y1="423" x2="658.3" y2="423" stroke="#2d6db5" stroke-width="0.9" stroke-dasharray="3 2"/>
<circle cx="652.3" cy="423" r="1.9" fill="#2d6db5"/>
<text x="664.8" y="421.1" font-size="5.6" text-anchor="start" fill="#1a1a1a">Interv.</text>
<text x="664.8" y="428.9" font-size="5.6" text-anchor="start" fill="#1a1a1a">Pn56</text>
<line x1="646.4" y1="442.4" x2="658.3" y2="442.4" stroke="#d21c1c" stroke-width="0.9" stroke-dasharray="3 2"/>
<circle cx="652.3" cy="442.4" r="1.9" fill="#d21c1c"/>
<text x="664.8" y="440.5" font-size="5.6" text-anchor="start" fill="#1a1a1a">Contr.</text>
<text x="664.8" y="448.3" font-size="5.6" text-anchor="start" fill="#1a1a1a">Pn56</text>
<text x="327" y="495.9" font-size="11.5" fill="#1a1a1a">F</text>
<rect x="353.4" y="486.4" width="132.6" height="14.6" fill="#d9d9d9" stroke="#4a4a4a" stroke-width="0.8"/>
<text x="419.7" y="496.5" font-size="8" text-anchor="middle" fill="#1a1a1a">Mother</text>
<rect x="512.7" y="486.8" width="126" height="14.6" fill="#d9d9d9" stroke="#4a4a4a" stroke-width="0.8"/>
<text x="575.7" y="496.9" font-size="8" text-anchor="middle" fill="#1a1a1a">Infant</text>
<line x1="362.2" y1="501" x2="362.2" y2="692" stroke="#f3f3f3" stroke-width="0.5"/>
<line x1="388.6" y1="501" x2="388.6" y2="692" stroke="#f3f3f3" stroke-width="0.5"/>
<line x1="414.9" y1="501" x2="414.9" y2="692" stroke="#f3f3f3" stroke-width="0.5"/>
<line x1="441.1" y1="501" x2="441.1" y2="692" stroke="#f3f3f3" stroke-width="0.5"/>
<line x1="467.4" y1="501" x2="467.4" y2="692" stroke="#f3f3f3" stroke-width="0.5"/>
<line x1="353.5" y1="677" x2="486" y2="677" stroke="#f3f3f3" stroke-width="0.5"/>
<line x1="353.5" y1="620.6" x2="486" y2="620.6" stroke="#f3f3f3" stroke-width="0.5"/>
<line x1="353.5" y1="564.2" x2="486" y2="564.2" stroke="#f3f3f3" stroke-width="0.5"/>
<line x1="353.5" y1="507.8" x2="486" y2="507.8" stroke="#f3f3f3" stroke-width="0.5"/>
<line x1="375.4" y1="501" x2="375.4" y2="692" stroke="#e8e8e8" stroke-width="0.6"/>
<line x1="401.7" y1="501" x2="401.7" y2="692" stroke="#e8e8e8" stroke-width="0.6"/>
<line x1="428" y1="501" x2="428" y2="692" stroke="#e8e8e8" stroke-width="0.6"/>
<line x1="454.3" y1="501" x2="454.3" y2="692" stroke="#e8e8e8" stroke-width="0.6"/>
<line x1="480.6" y1="501" x2="480.6" y2="692" stroke="#e8e8e8" stroke-width="0.6"/>
<line x1="353.5" y1="648.8" x2="486" y2="648.8" stroke="#e8e8e8" stroke-width="0.6"/>
<line x1="353.5" y1="592.4" x2="486" y2="592.4" stroke="#e8e8e8" stroke-width="0.6"/>
<line x1="353.5" y1="536" x2="486" y2="536" stroke="#e8e8e8" stroke-width="0.6"/>
<g fill="#f5b800" fill-opacity="1.0"><circle cx="429.6" cy="594.6" r="1.2"/><circle cx="451.3" cy="619.4" r="1.2"/><circle cx="420.3" cy="568.7" r="1.2"/><circle cx="438.9" cy="562.3" r="1.2"/><circle cx="458.1" cy="593.5" r="1.2"/><circle cx="451.5" cy="587" r="1.2"/><circle cx="447.5" cy="575.1" r="1.2"/><circle cx="408.1" cy="542" r="1.2"/><circle cx="403.8" cy="596.8" r="1.2"/><circle cx="446.3" cy="613.4" r="1.2"/></g>
<g fill="#2d6db5" fill-opacity="1.0"><path d="M473,567.3l1.6,2.8h-3.2Z"/><path d="M431,624.7l1.6,2.8h-3.2Z"/><path d="M400.5,622.8l1.6,2.8h-3.2Z"/><path d="M394.6,591.6l1.6,2.8h-3.2Z"/><path d="M417.2,579l1.6,2.8h-3.2Z"/><path d="M432.7,613.6l1.6,2.8h-3.2Z"/><path d="M438.1,546.8l1.6,2.8h-3.2Z"/></g>
<g fill="#d21c1c" fill-opacity="1.0"><path d="M439.3,605.6l1.6,2.8h-3.2Z"/><path d="M450.6,557.1l1.6,2.8h-3.2Z"/><path d="M471.9,598.2l1.6,2.8h-3.2Z"/><path d="M447.9,583.8l1.6,2.8h-3.2Z"/><path d="M416.8,574.6l1.6,2.8h-3.2Z"/><path d="M463.9,577.4l1.6,2.8h-3.2Z"/><path d="M445.6,598.4l1.6,2.8h-3.2Z"/></g>
<g fill="none" stroke="#9a7b5b" stroke-opacity="1.0" stroke-width="0.8"><path d="M453.9,597.1h3.8M455.8,595.2v3.8"/><path d="M464.8,547.3h3.8M466.7,545.4v3.8"/><path d="M427.3,603.7h3.8M429.1,601.8v3.8"/><path d="M436.7,589.8h3.8M438.6,587.9v3.8"/><path d="M423.4,619.1h3.8M425.3,617.2v3.8"/><path d="M392.7,584.7h3.8M394.6,582.8v3.8"/><path d="M424.5,567.3h3.8M426.4,565.4v3.8"/><path d="M417.5,632.3h3.8M419.4,630.4v3.8"/><path d="M422.8,587.5h3.8M424.6,585.6v3.8"/><path d="M436.1,615.7h3.8M438,613.8v3.8"/><path d="M436.4,629.7h3.8M438.3,627.9v3.8"/></g>
<g fill="#15a58e" fill-opacity="1.0"><circle cx="409.5" cy="614.3" r="1.2"/><circle cx="428.2" cy="625.3" r="1.2"/><circle cx="451.8" cy="582.7" r="1.2"/><circle cx="416.7" cy="566.3" r="1.2"/><circle cx="430.1" cy="591.6" r="1.2"/><circle cx="432" cy="555.7" r="1.2"/></g>
<g fill="none" stroke="#8b3a2a" stroke-opacity="1.0" stroke-width="0.8"><path d="M416.9,582.7h3.8M418.8,580.9v3.8"/><path d="M451.1,585h3.8M453,583.1v3.8"/><path d="M448.2,551.1h3.8M450.1,549.2v3.8"/><path d="M394.6,602.5h3.8M396.5,600.6v3.8"/></g>
<g fill="none" stroke="#6ab04c" stroke-opacity="1.0" stroke-width="0.8"><circle cx="419" cy="587.7" r="1.2"/><circle cx="449.1" cy="548.9" r="1.2"/><circle cx="429.5" cy="610.9" r="1.2"/><circle cx="409" cy="598" r="1.2"/></g>
<g fill="none" stroke="#1a1a1a" stroke-opacity="1.0" stroke-width="0.8"><circle cx="451.8" cy="628.5" r="1.2"/></g>
<g fill="#15a58e" fill-opacity="1.0"><circle cx="427.4" cy="595.2" r="1.2"/><circle cx="393.4" cy="596.5" r="1.2"/><circle cx="415.6" cy="589.3" r="1.2"/><circle cx="388.3" cy="597" r="1.2"/><circle cx="444.2" cy="618.6" r="1.2"/></g>
<g fill="none" stroke="#9a7b5b" stroke-opacity="1.0" stroke-width="0.8"><path d="M424.9,574.5h3.8M426.8,572.6v3.8"/><path d="M380.3,581.2h3.8M382.2,579.4v3.8"/><path d="M418.8,585h3.8M420.7,583.1v3.8"/><path d="M477.7,565.2h3.8M479.6,563.3v3.8"/><path d="M396.2,628.7h3.8M398.1,626.8v3.8"/><path d="M446.4,579.7h3.8M448.3,577.8v3.8"/><path d="M444.9,557.6h3.8M446.8,555.7v3.8"/><path d="M385,534.6h3.8M386.9,532.8v3.8"/><path d="M455.2,611.7h3.8M457,609.8v3.8"/><path d="M432.2,612.8h3.8M434.1,610.9v3.8"/></g>
<g fill="#2d6db5" fill-opacity="1.0"><path d="M436.9,612.5l1.6,2.8h-3.2Z"/><path d="M419.1,614.4l1.6,2.8h-3.2Z"/><path d="M419.8,599.7l1.6,2.8h-3.2Z"/><path d="M443.5,620.7l1.6,2.8h-3.2Z"/><path d="M421.7,604.9l1.6,2.8h-3.2Z"/><path d="M480,617.3l1.6,2.8h-3.2Z"/></g>
<g fill="#d21c1c" fill-opacity="1.0"><path d="M447.3,608.7l1.6,2.8h-3.2Z"/><path d="M399.9,559.2l1.6,2.8h-3.2Z"/><path d="M437.3,559.4l1.6,2.8h-3.2Z"/><path d="M456.3,606.8l1.6,2.8h-3.2Z"/><path d="M429.5,624.2l1.6,2.8h-3.2Z"/><path d="M404.6,605.5l1.6,2.8h-3.2Z"/><path d="M458.4,616.5l1.6,2.8h-3.2Z"/><path d="M400.7,584.1l1.6,2.8h-3.2Z"/><path d="M420.8,537.7l1.6,2.8h-3.2Z"/><path d="M429.9,560.8l1.6,2.8h-3.2Z"/></g>
<g fill="none" stroke="#8b3a2a" stroke-opacity="1.0" stroke-width="0.8"><path d="M405.2,546.2h3.8M407.1,544.4v3.8"/><path d="M457.2,567.4h3.8M459,565.5v3.8"/><path d="M381.5,599.1h3.8M383.3,597.2v3.8"/><path d="M423.1,603.3h3.8M425,601.4v3.8"/><path d="M416.9,567.1h3.8M418.8,565.2v3.8"/><path d="M383.4,582.1h3.8M385.3,580.2v3.8"/><path d="M438.8,587.1h3.8M440.6,585.2v3.8"/><path d="M389.8,565.8h3.8M391.7,564v3.8"/><path d="M404.2,578.7h3.8M406.1,576.9v3.8"/></g>
<g fill="#f5b800" fill-opacity="1.0"><circle cx="414" cy="574.3" r="1.2"/><circle cx="405.7" cy="624.9" r="1.2"/><circle cx="438.8" cy="604.5" r="1.2"/><circle cx="439.8" cy="576.2" r="1.2"/><circle cx="428.7" cy="569.2" r="1.2"/><circle cx="426.4" cy="588.1" r="1.2"/></g>
<g fill="none" stroke="#1a1a1a" stroke-opacity="1.0" stroke-width="0.8"><circle cx="432.7" cy="550.2" r="1.2"/><circle cx="405" cy="591.3" r="1.2"/><circle cx="426.5" cy="573.3" r="1.2"/></g>
<g fill="none" stroke="#6ab04c" stroke-opacity="1.0" stroke-width="0.8"><circle cx="454.4" cy="616.5" r="1.2"/></g>
<g fill="none" stroke="#9a7b5b" stroke-opacity="1.0" stroke-width="0.8"><path d="M447.3,580.7h3.8M449.1,578.8v3.8"/><path d="M386.1,547.6h3.8M388,545.8v3.8"/><path d="M419.2,600h3.8M421.1,598.1v3.8"/><path d="M422.9,551.3h3.8M424.7,549.5v3.8"/><path d="M393.2,613h3.8M395,611.1v3.8"/><path d="M397.7,598.4h3.8M399.5,596.6v3.8"/><path d="M461.6,586.8h3.8M463.5,584.9v3.8"/><path d="M429.9,574.4h3.8M431.8,572.5v3.8"/><path d="M429.1,543.3h3.8M431,541.4v3.8"/></g>
<g fill="#2d6db5" fill-opacity="1.0"><path d="M452.9,567.8l1.6,2.8h-3.2Z"/><path d="M448.3,639l1.6,2.8h-3.2Z"/><path d="M417.8,578.1l1.6,2.8h-3.2Z"/><path d="M445,622.9l1.6,2.8h-3.2Z"/><path d="M404.3,606.6l1.6,2.8h-3.2Z"/></g>
<g fill="#d21c1c" fill-opacity="1.0"><path d="M416.6,554.3l1.6,2.8h-3.2Z"/><path d="M413.9,645.2l1.6,2.8h-3.2Z"/><path d="M424,588.6l1.6,2.8h-3.2Z"/><path d="M433.6,604.3l1.6,2.8h-3.2Z"/><path d="M397.5,624.8l1.6,2.8h-3.2Z"/><path d="M394.2,561.2l1.6,2.8h-3.2Z"/><path d="M431.1,563.6l1.6,2.8h-3.2Z"/><path d="M425.2,622.9l1.6,2.8h-3.2Z"/><path d="M442.8,618.5l1.6,2.8h-3.2Z"/></g>
<g fill="none" stroke="#6ab04c" stroke-opacity="1.0" stroke-width="0.8"><circle cx="393.3" cy="630.4" r="1.2"/></g>
<g fill="#f5b800" fill-opacity="1.0"><circle cx="417.9" cy="543.4" r="1.2"/><circle cx="429.6" cy="592.6" r="1.2"/><circle cx="442.1" cy="582.8" r="1.2"/><circle cx="402.4" cy="592.1" r="1.2"/><circle cx="453.2" cy="569.8" r="1.2"/><circle cx="414.3" cy="609.1" r="1.2"/><circle cx="447.2" cy="599.2" r="1.2"/><circle cx="414" cy="556.3" r="1.2"/><circle cx="467.1" cy="574.8" r="1.2"/></g>
<g fill="#15a58e" fill-opacity="1.0"><circle cx="389.2" cy="580.1" r="1.2"/><circle cx="458.8" cy="603.5" r="1.2"/><circle cx="413.1" cy="588.3" r="1.2"/><circle cx="461.1" cy="611.1" r="1.2"/><circle cx="440.5" cy="538.9" r="1.2"/><circle cx="424.8" cy="552.7" r="1.2"/><circle cx="395.8" cy="623.1" r="1.2"/><circle cx="430.3" cy="612.2" r="1.2"/></g>
<g fill="none" stroke="#1a1a1a" stroke-opacity="1.0" stroke-width="0.8"><circle cx="387.3" cy="599.8" r="1.2"/><circle cx="420" cy="622" r="1.2"/><circle cx="446.2" cy="567.9" r="1.2"/></g>
<g fill="none" stroke="#8b3a2a" stroke-opacity="1.0" stroke-width="0.8"><path d="M424.3,630.9h3.8M426.2,629v3.8"/><path d="M385.2,580.5h3.8M387.1,578.6v3.8"/><path d="M399.1,597.8h3.8M400.9,595.9v3.8"/><path d="M433.6,585h3.8M435.5,583.1v3.8"/><path d="M428.1,572h3.8M430,570.1v3.8"/><path d="M433.4,552.2h3.8M435.3,550.3v3.8"/></g>
<g fill="#2d6db5" fill-opacity="1.0"><path d="M422.4,579.6l1.6,2.8h-3.2Z"/><path d="M388.3,579.7l1.6,2.8h-3.2Z"/><path d="M439.7,572.2l1.6,2.8h-3.2Z"/><path d="M432.2,555.5l1.6,2.8h-3.2Z"/><path d="M404.7,577.8l1.6,2.8h-3.2Z"/><path d="M427.9,626.2l1.6,2.8h-3.2Z"/><path d="M444.2,598.1l1.6,2.8h-3.2Z"/><path d="M427.9,583.4l1.6,2.8h-3.2Z"/></g>
<g fill="none" stroke="#9a7b5b" stroke-opacity="1.0" stroke-width="0.8"><path d="M421.7,577.3h3.8M423.6,575.4v3.8"/><path d="M437.7,540.7h3.8M439.6,538.9v3.8"/><path d="M445.6,581.9h3.8M447.5,580v3.8"/><path d="M432.9,619.9h3.8M434.8,618v3.8"/><path d="M392.5,638.2h3.8M394.3,636.3v3.8"/><path d="M415.5,553.4h3.8M417.4,551.5v3.8"/><path d="M408.3,607.8h3.8M410.1,605.9v3.8"/><path d="M432.7,606.2h3.8M434.6,604.4v3.8"/><path d="M390.4,577.1h3.8M392.2,575.2v3.8"/></g>
<g fill="#d21c1c" fill-opacity="1.0"><path d="M445.9,578.9l1.6,2.8h-3.2Z"/><path d="M431,599.5l1.6,2.8h-3.2Z"/><path d="M465.1,624.6l1.6,2.8h-3.2Z"/><path d="M437.3,587.3l1.6,2.8h-3.2Z"/><path d="M475,575.5l1.6,2.8h-3.2Z"/><path d="M448,567.2l1.6,2.8h-3.2Z"/><path d="M429.1,601.4l1.6,2.8h-3.2Z"/></g>
<g fill="#15a58e" fill-opacity="1.0"><circle cx="431.2" cy="557" r="1.2"/><circle cx="410.2" cy="577" r="1.2"/><circle cx="438.8" cy="569.7" r="1.2"/><circle cx="473.3" cy="627.5" r="1.2"/><circle cx="410.7" cy="539.5" r="1.2"/><circle cx="411.3" cy="540.9" r="1.2"/></g>
<g fill="#f5b800" fill-opacity="1.0"><circle cx="467.9" cy="583.8" r="1.2"/><circle cx="405.8" cy="572" r="1.2"/><circle cx="445.1" cy="607.1" r="1.2"/><circle cx="407.7" cy="586.7" r="1.2"/><circle cx="447.1" cy="582.8" r="1.2"/><circle cx="405.6" cy="620.5" r="1.2"/><circle cx="429.2" cy="593.8" r="1.2"/><circle cx="416.2" cy="632.2" r="1.2"/><circle cx="458.8" cy="548.2" r="1.2"/></g>
<g fill="none" stroke="#8b3a2a" stroke-opacity="1.0" stroke-width="0.8"><path d="M444.3,569.6h3.8M446.2,567.7v3.8"/><path d="M415.4,543.2h3.8M417.3,541.4v3.8"/><path d="M397.8,567.3h3.8M399.7,565.4v3.8"/><path d="M427.5,567.1h3.8M429.4,565.2v3.8"/><path d="M403.2,588.5h3.8M405,586.6v3.8"/><path d="M441,605.4h3.8M442.9,603.6v3.8"/></g>
<g fill="none" stroke="#1a1a1a" stroke-opacity="1.0" stroke-width="0.8"><circle cx="405.8" cy="602.7" r="1.2"/><circle cx="390.2" cy="629" r="1.2"/><circle cx="438.6" cy="604.3" r="1.2"/><circle cx="437.6" cy="582.7" r="1.2"/></g>
<g fill="none" stroke="#6ab04c" stroke-opacity="1.0" stroke-width="0.8"><circle cx="397.8" cy="622.9" r="1.2"/></g>
<g fill="#15a58e" fill-opacity="1.0"><circle cx="428.1" cy="569.6" r="1.2"/><circle cx="439" cy="589.4" r="1.2"/><circle cx="450.1" cy="559.2" r="1.2"/><circle cx="430" cy="566.6" r="1.2"/><circle cx="480" cy="615" r="1.2"/><circle cx="419.4" cy="593.2" r="1.2"/><circle cx="412.8" cy="615.3" r="1.2"/><circle cx="405.9" cy="615.6" r="1.2"/></g>
<g fill="#f5b800" fill-opacity="1.0"><circle cx="418.4" cy="606" r="1.2"/><circle cx="427.1" cy="573.4" r="1.2"/><circle cx="433.7" cy="590" r="1.2"/><circle cx="432.2" cy="608.3" r="1.2"/><circle cx="404.1" cy="600.9" r="1.2"/><circle cx="428.6" cy="589.7" r="1.2"/><circle cx="403.7" cy="551.6" r="1.2"/></g>
<g fill="#2d6db5" fill-opacity="1.0"><path d="M413.9,566.7l1.6,2.8h-3.2Z"/><path d="M416,619.9l1.6,2.8h-3.2Z"/><path d="M410.2,628.9l1.6,2.8h-3.2Z"/><path d="M428.8,617.9l1.6,2.8h-3.2Z"/><path d="M468.7,558.8l1.6,2.8h-3.2Z"/><path d="M426.2,612.1l1.6,2.8h-3.2Z"/><path d="M446.6,590l1.6,2.8h-3.2Z"/></g>
<g fill="none" stroke="#9a7b5b" stroke-opacity="1.0" stroke-width="0.8"><path d="M448.5,600h3.8M450.3,598.1v3.8"/><path d="M394.7,584.7h3.8M396.6,582.8v3.8"/><path d="M435.6,597.5h3.8M437.4,595.6v3.8"/><path d="M441,605.8h3.8M442.8,603.9v3.8"/><path d="M438.4,584.8h3.8M440.3,582.9v3.8"/><path d="M439.8,605.5h3.8M441.7,603.6v3.8"/></g>
<g fill="none" stroke="#8b3a2a" stroke-opacity="1.0" stroke-width="0.8"><path d="M403.8,609h3.8M405.6,607.2v3.8"/><path d="M429.9,573.4h3.8M431.7,571.6v3.8"/><path d="M430.1,594.6h3.8M432,592.7v3.8"/><path d="M419.9,585.4h3.8M421.8,583.6v3.8"/><path d="M415.1,595.7h3.8M416.9,593.8v3.8"/><path d="M428.4,592.6h3.8M430.3,590.7v3.8"/><path d="M417.4,591.7h3.8M419.3,589.8v3.8"/><path d="M461.2,609.8h3.8M463.1,607.9v3.8"/></g>
<g fill="#d21c1c" fill-opacity="1.0"><path d="M390,602.1l1.6,2.8h-3.2Z"/><path d="M450.2,582.7l1.6,2.8h-3.2Z"/><path d="M433.6,607.1l1.6,2.8h-3.2Z"/><path d="M463.6,599l1.6,2.8h-3.2Z"/><path d="M426.5,594.3l1.6,2.8h-3.2Z"/><path d="M393.4,553.3l1.6,2.8h-3.2Z"/><path d="M415.2,552.7l1.6,2.8h-3.2Z"/></g>
<g fill="none" stroke="#1a1a1a" stroke-opacity="1.0" stroke-width="0.8"><circle cx="376.9" cy="582.9" r="1.2"/><circle cx="399.3" cy="620.3" r="1.2"/><circle cx="421.9" cy="571.8" r="1.2"/><circle cx="432" cy="567.6" r="1.2"/><circle cx="393.3" cy="588.1" r="1.2"/></g>
<g fill="none" stroke="#6ab04c" stroke-opacity="1.0" stroke-width="0.8"><circle cx="455" cy="571.3" r="1.2"/><circle cx="410.3" cy="594.2" r="1.2"/></g>
<g fill="#15a58e" fill-opacity="1.0"><circle cx="461.1" cy="595.8" r="1.2"/><circle cx="421.2" cy="631.1" r="1.2"/><circle cx="438.6" cy="585.5" r="1.2"/><circle cx="431.5" cy="544.1" r="1.2"/><circle cx="461.3" cy="583.3" r="1.2"/><circle cx="452.9" cy="615.5" r="1.2"/><circle cx="431.6" cy="564.4" r="1.2"/><circle cx="449" cy="595.5" r="1.2"/></g>
<g fill="none" stroke="#9a7b5b" stroke-opacity="1.0" stroke-width="0.8"><path d="M419.1,546.5h3.8M420.9,544.6v3.8"/><path d="M444.2,598.7h3.8M446,596.8v3.8"/><path d="M392.2,556.5h3.8M394.1,554.6v3.8"/><path d="M397,567.1h3.8M398.9,565.2v3.8"/><path d="M456.4,593.6h3.8M458.3,591.7v3.8"/><path d="M404.7,585.1h3.8M406.6,583.2v3.8"/><path d="M440.4,585.4h3.8M442.3,583.6v3.8"/><path d="M436.1,599.8h3.8M438,597.9v3.8"/><path d="M452.9,564.5h3.8M454.8,562.7v3.8"/><path d="M429.1,590.8h3.8M431,588.9v3.8"/></g>
<g fill="#d21c1c" fill-opacity="1.0"><path d="M482.3,588l1.6,2.8h-3.2Z"/><path d="M417.3,558.7l1.6,2.8h-3.2Z"/><path d="M443.6,614.8l1.6,2.8h-3.2Z"/><path d="M389.6,608.1l1.6,2.8h-3.2Z"/><path d="M420.8,641.6l1.6,2.8h-3.2Z"/><path d="M449.4,601.5l1.6,2.8h-3.2Z"/><path d="M449.4,629.7l1.6,2.8h-3.2Z"/><path d="M408.2,594.4l1.6,2.8h-3.2Z"/><path d="M429.8,600l1.6,2.8h-3.2Z"/></g>
<g fill="none" stroke="#1a1a1a" stroke-opacity="1.0" stroke-width="0.8"><circle cx="401.6" cy="575.7" r="1.2"/><circle cx="416.3" cy="613.3" r="1.2"/></g>
<g fill="#f5b800" fill-opacity="1.0"><circle cx="465.6" cy="554.5" r="1.2"/><circle cx="407.7" cy="604.8" r="1.2"/><circle cx="437.5" cy="587.7" r="1.2"/><circle cx="430.7" cy="582" r="1.2"/><circle cx="452.8" cy="589.9" r="1.2"/></g>
<g fill="#2d6db5" fill-opacity="1.0"><path d="M396.9,575.2l1.6,2.8h-3.2Z"/><path d="M426.9,618.6l1.6,2.8h-3.2Z"/><path d="M425.9,621.7l1.6,2.8h-3.2Z"/><path d="M465.2,606l1.6,2.8h-3.2Z"/><path d="M420.9,616.6l1.6,2.8h-3.2Z"/><path d="M414.9,614.5l1.6,2.8h-3.2Z"/></g>
<g fill="none" stroke="#8b3a2a" stroke-opacity="1.0" stroke-width="0.8"><path d="M453.8,611h3.8M455.7,609.1v3.8"/><path d="M452.2,592.3h3.8M454.1,590.4v3.8"/><path d="M425.2,528.8h3.8M427.1,526.9v3.8"/><path d="M431,563.5h3.8M432.8,561.6v3.8"/><path d="M432.6,577h3.8M434.5,575.1v3.8"/><path d="M459.6,588.1h3.8M461.5,586.3v3.8"/><path d="M411.5,572.3h3.8M413.3,570.5v3.8"/><path d="M446.5,575.7h3.8M448.4,573.8v3.8"/><path d="M413.9,608.3h3.8M415.7,606.4v3.8"/></g>
<g fill="none" stroke="#6ab04c" stroke-opacity="1.0" stroke-width="0.8"><circle cx="410.8" cy="640.3" r="1.2"/></g>
<g fill="#f5b800" fill-opacity="1.0"><circle cx="435.4" cy="561.2" r="1.2"/><circle cx="404.4" cy="628.4" r="1.2"/><circle cx="394.6" cy="632.3" r="1.2"/><circle cx="455.7" cy="588.7" r="1.2"/><circle cx="449.7" cy="591" r="1.2"/><circle cx="409.8" cy="632.3" r="1.2"/><circle cx="420" cy="592.9" r="1.2"/><circle cx="426.7" cy="548.1" r="1.2"/><circle cx="410" cy="635.4" r="1.2"/></g>
<g fill="none" stroke="#9a7b5b" stroke-opacity="1.0" stroke-width="0.8"><path d="M397.8,601.3h3.8M399.7,599.4v3.8"/><path d="M426.7,549h3.8M428.6,547.1v3.8"/><path d="M404,610.4h3.8M405.8,608.5v3.8"/><path d="M441.3,567.3h3.8M443.1,565.4v3.8"/><path d="M426.2,577.1h3.8M428.1,575.2v3.8"/><path d="M452.1,608.1h3.8M454,606.2v3.8"/><path d="M440.8,578.8h3.8M442.7,577v3.8"/><path d="M435.8,582.7h3.8M437.7,580.8v3.8"/><path d="M397.1,564h3.8M399,562.1v3.8"/><path d="M424.5,602.4h3.8M426.4,600.5v3.8"/></g>
<g fill="#15a58e" fill-opacity="1.0"><circle cx="392.3" cy="585.2" r="1.2"/><circle cx="432.6" cy="595.2" r="1.2"/><circle cx="414.8" cy="621.7" r="1.2"/><circle cx="434.8" cy="542" r="1.2"/><circle cx="411.7" cy="614.2" r="1.2"/><circle cx="398.7" cy="574.8" r="1.2"/><circle cx="416.2" cy="550.7" r="1.2"/></g>
<g fill="#d21c1c" fill-opacity="1.0"><path d="M412.7,589.9l1.6,2.8h-3.2Z"/><path d="M427.7,550.8l1.6,2.8h-3.2Z"/><path d="M440,618.4l1.6,2.8h-3.2Z"/><path d="M444.1,577l1.6,2.8h-3.2Z"/><path d="M436.6,598.2l1.6,2.8h-3.2Z"/><path d="M425,560.1l1.6,2.8h-3.2Z"/></g>
<g fill="none" stroke="#8b3a2a" stroke-opacity="1.0" stroke-width="0.8"><path d="M440,582.1h3.8M441.9,580.2v3.8"/><path d="M449.8,607.9h3.8M451.6,606v3.8"/><path d="M430,596h3.8M431.9,594.1v3.8"/><path d="M384.5,617h3.8M386.3,615.1v3.8"/><path d="M436.7,588.2h3.8M438.6,586.3v3.8"/><path d="M391.5,580.3h3.8M393.4,578.4v3.8"/><path d="M458,576h3.8M459.9,574.1v3.8"/><path d="M395,604.6h3.8M396.9,602.7v3.8"/><path d="M463.8,623.2h3.8M465.6,621.3v3.8"/><path d="M432.6,561.7h3.8M434.5,559.8v3.8"/><path d="M471.9,588h3.8M473.7,586.1v3.8"/></g>
<g fill="none" stroke="#6ab04c" stroke-opacity="1.0" stroke-width="0.8"><circle cx="421.7" cy="648.5" r="1.2"/><circle cx="459.3" cy="619.6" r="1.2"/></g>
<g fill="#2d6db5" fill-opacity="1.0"><path d="M429.3,582.2l1.6,2.8h-3.2Z"/><path d="M420.5,611.7l1.6,2.8h-3.2Z"/><path d="M427.5,556.4l1.6,2.8h-3.2Z"/></g>
<g fill="none" stroke="#1a1a1a" stroke-opacity="1.0" stroke-width="0.8"><circle cx="464.1" cy="589.4" r="1.2"/><circle cx="388.4" cy="587.6" r="1.2"/></g>
<g fill="none" stroke="#8b3a2a" stroke-opacity="1.0" stroke-width="0.8"><path d="M430.9,612.6h3.8M432.8,610.7v3.8"/><path d="M429.9,608h3.8M431.7,606.1v3.8"/><path d="M430.4,572.6h3.8M432.3,570.7v3.8"/></g>
<g fill="#15a58e" fill-opacity="1.0"><circle cx="408.8" cy="603" r="1.2"/><circle cx="414.6" cy="624.1" r="1.2"/><circle cx="430.9" cy="563.5" r="1.2"/><circle cx="464.2" cy="636.2" r="1.2"/><circle cx="421.5" cy="562.9" r="1.2"/><circle cx="463.8" cy="624.3" r="1.2"/><circle cx="454.7" cy="566.7" r="1.2"/><circle cx="410.1" cy="645" r="1.2"/><circle cx="462.2" cy="605.5" r="1.2"/><circle cx="462.9" cy="576.4" r="1.2"/></g>
<g fill="none" stroke="#9a7b5b" stroke-opacity="1.0" stroke-width="0.8"><path d="M404.4,631.7h3.8M406.3,629.8v3.8"/><path d="M404.3,633.6h3.8M406.2,631.7v3.8"/><path d="M409.6,556.3h3.8M411.4,554.4v3.8"/><path d="M438.6,536.8h3.8M440.5,534.9v3.8"/><path d="M429.1,571.3h3.8M430.9,569.5v3.8"/><path d="M411.4,549.8h3.8M413.3,547.9v3.8"/><path d="M427.4,577.2h3.8M429.3,575.3v3.8"/><path d="M447.5,571.9h3.8M449.4,570v3.8"/></g>
<g fill="none" stroke="#6ab04c" stroke-opacity="1.0" stroke-width="0.8"><circle cx="456.2" cy="639.3" r="1.2"/><circle cx="411.7" cy="606.3" r="1.2"/><circle cx="423.6" cy="621.6" r="1.2"/><circle cx="393.1" cy="607.1" r="1.2"/><circle cx="419.6" cy="577.4" r="1.2"/></g>
<g fill="#f5b800" fill-opacity="1.0"><circle cx="458.2" cy="599.1" r="1.2"/><circle cx="400.7" cy="596.8" r="1.2"/><circle cx="393.5" cy="614.9" r="1.2"/><circle cx="442" cy="590.5" r="1.2"/><circle cx="418.5" cy="556.5" r="1.2"/><circle cx="412.3" cy="599.5" r="1.2"/><circle cx="449" cy="552.1" r="1.2"/></g>
<g fill="#2d6db5" fill-opacity="1.0"><path d="M465.9,607.2l1.6,2.8h-3.2Z"/><path d="M434.8,597.3l1.6,2.8h-3.2Z"/><path d="M462.7,629.5l1.6,2.8h-3.2Z"/><path d="M419.6,572.1l1.6,2.8h-3.2Z"/><path d="M452.5,608.4l1.6,2.8h-3.2Z"/><path d="M434.6,561.2l1.6,2.8h-3.2Z"/><path d="M420.9,578.1l1.6,2.8h-3.2Z"/></g>
<g fill="#d21c1c" fill-opacity="1.0"><path d="M400.2,585.5l1.6,2.8h-3.2Z"/><path d="M443.1,572.7l1.6,2.8h-3.2Z"/><path d="M421.1,567.6l1.6,2.8h-3.2Z"/><path d="M465.7,562.9l1.6,2.8h-3.2Z"/><path d="M458.8,612.4l1.6,2.8h-3.2Z"/><path d="M417.2,598.3l1.6,2.8h-3.2Z"/><path d="M431.7,580.5l1.6,2.8h-3.2Z"/><path d="M446.9,625.1l1.6,2.8h-3.2Z"/><path d="M455.9,608.9l1.6,2.8h-3.2Z"/></g>
<g fill="none" stroke="#1a1a1a" stroke-opacity="1.0" stroke-width="0.8"><circle cx="425.5" cy="592.6" r="1.2"/></g>
<g fill="#2d6db5" fill-opacity="1.0"><path d="M432.7,572.7l1.6,2.8h-3.2Z"/><path d="M469,564.9l1.6,2.8h-3.2Z"/><path d="M451.5,607.1l1.6,2.8h-3.2Z"/><path d="M427.7,599.8l1.6,2.8h-3.2Z"/><path d="M427.8,612.4l1.6,2.8h-3.2Z"/><path d="M427.9,550.6l1.6,2.8h-3.2Z"/><path d="M431.5,593.5l1.6,2.8h-3.2Z"/><path d="M430,599.7l1.6,2.8h-3.2Z"/></g>
<g fill="#f5b800" fill-opacity="1.0"><circle cx="422.5" cy="547.7" r="1.2"/><circle cx="419.9" cy="598.4" r="1.2"/><circle cx="466.8" cy="591.4" r="1.2"/><circle cx="421.9" cy="626.2" r="1.2"/><circle cx="412.5" cy="615.6" r="1.2"/><circle cx="452.2" cy="571.9" r="1.2"/><circle cx="434.8" cy="594.7" r="1.2"/><circle cx="433" cy="565.8" r="1.2"/><circle cx="459" cy="567.9" r="1.2"/><circle cx="426.6" cy="544.1" r="1.2"/><circle cx="441.3" cy="565.8" r="1.2"/><circle cx="401" cy="610.6" r="1.2"/></g>
<g fill="#15a58e" fill-opacity="1.0"><circle cx="433.6" cy="602.4" r="1.2"/><circle cx="394.8" cy="591.2" r="1.2"/><circle cx="461.8" cy="580.8" r="1.2"/><circle cx="444" cy="593.5" r="1.2"/><circle cx="412.3" cy="602.1" r="1.2"/><circle cx="415.1" cy="600.3" r="1.2"/><circle cx="429.6" cy="613.2" r="1.2"/></g>
<g fill="none" stroke="#8b3a2a" stroke-opacity="1.0" stroke-width="0.8"><path d="M429.6,599.6h3.8M431.4,597.7v3.8"/><path d="M420.2,583.9h3.8M422.1,582.1v3.8"/><path d="M413.5,564.6h3.8M415.4,562.7v3.8"/><path d="M447.8,620.9h3.8M449.7,619v3.8"/><path d="M463.3,579h3.8M465.2,577.1v3.8"/><path d="M421.3,553.3h3.8M423.2,551.5v3.8"/><path d="M424.7,538h3.8M426.5,536.1v3.8"/><path d="M392.7,539.2h3.8M394.6,537.4v3.8"/><path d="M402.4,576.8h3.8M404.3,574.9v3.8"/><path d="M450.9,638.9h3.8M452.8,637v3.8"/></g>
<g fill="#d21c1c" fill-opacity="1.0"><path d="M423.3,582.9l1.6,2.8h-3.2Z"/><path d="M444.5,577.2l1.6,2.8h-3.2Z"/><path d="M446.1,625.9l1.6,2.8h-3.2Z"/><path d="M427.2,588.7l1.6,2.8h-3.2Z"/><path d="M443.8,548.5l1.6,2.8h-3.2Z"/><path d="M403.1,604l1.6,2.8h-3.2Z"/><path d="M405.5,586.2l1.6,2.8h-3.2Z"/></g>
<g fill="none" stroke="#1a1a1a" stroke-opacity="1.0" stroke-width="0.8"><circle cx="467.1" cy="552.9" r="1.2"/></g>
<g fill="none" stroke="#9a7b5b" stroke-opacity="1.0" stroke-width="0.8"><path d="M407.1,581h3.8M409,579.1v3.8"/><path d="M434.8,619.7h3.8M436.7,617.9v3.8"/><path d="M407.4,621.2h3.8M409.3,619.3v3.8"/><path d="M379.9,587.3h3.8M381.8,585.4v3.8"/></g>
<g fill="none" stroke="#6ab04c" stroke-opacity="1.0" stroke-width="0.8"><circle cx="412" cy="628.1" r="1.2"/></g>
<g fill="#d21c1c" fill-opacity="1.0"><path d="M418.2,547.3l1.6,2.8h-3.2Z"/><path d="M440.1,584.1l1.6,2.8h-3.2Z"/><path d="M424.9,583.4l1.6,2.8h-3.2Z"/><path d="M427.6,566l1.6,2.8h-3.2Z"/></g>
<g fill="#2d6db5" fill-opacity="1.0"><path d="M432.1,582.7l1.6,2.8h-3.2Z"/><path d="M397.7,619.9l1.6,2.8h-3.2Z"/><path d="M437.2,613.3l1.6,2.8h-3.2Z"/><path d="M449.3,570l1.6,2.8h-3.2Z"/><path d="M435.6,583.6l1.6,2.8h-3.2Z"/><path d="M419.9,596.7l1.6,2.8h-3.2Z"/><path d="M441.1,565.7l1.6,2.8h-3.2Z"/><path d="M461.9,604l1.6,2.8h-3.2Z"/><path d="M411.3,580.9l1.6,2.8h-3.2Z"/><path d="M427.6,615.6l1.6,2.8h-3.2Z"/></g>
<g fill="none" stroke="#8b3a2a" stroke-opacity="1.0" stroke-width="0.8"><path d="M446.5,608.1h3.8M448.4,606.2v3.8"/><path d="M385.2,588.8h3.8M387.1,586.9v3.8"/><path d="M419,544.8h3.8M420.9,542.9v3.8"/><path d="M417.1,616.4h3.8M419,614.5v3.8"/><path d="M402.6,552.9h3.8M404.4,551.1v3.8"/></g>
<g fill="#15a58e" fill-opacity="1.0"><circle cx="432.8" cy="566.1" r="1.2"/></g>
<g fill="none" stroke="#9a7b5b" stroke-opacity="1.0" stroke-width="0.8"><path d="M474.3,608.8h3.8M476.2,606.9v3.8"/></g>
<g fill="none" stroke="#6ab04c" stroke-opacity="1.0" stroke-width="0.8"><circle cx="407.9" cy="633" r="1.2"/><circle cx="439.8" cy="630.8" r="1.2"/></g>
<g fill="#f5b800" fill-opacity="1.0"><circle cx="444.3" cy="570.4" r="1.2"/><circle cx="401.4" cy="606.9" r="1.2"/></g>
<g fill="none" stroke="#8b3a2a" stroke-opacity="1.0" stroke-width="0.8"><path d="M444.1,601.6h3.8M446,599.7v3.8"/><path d="M436.5,616.3h3.8M438.3,614.4v3.8"/><path d="M441.3,601.3h3.8M443.2,599.4v3.8"/><path d="M451.1,602h3.8M453,600.1v3.8"/><path d="M449.7,580.4h3.8M451.6,578.6v3.8"/><path d="M457.4,605.2h3.8M459.3,603.3v3.8"/><path d="M449.7,590.7h3.8M451.6,588.8v3.8"/><path d="M441.7,610.1h3.8M443.6,608.2v3.8"/><path d="M443.1,620.5h3.8M445,618.6v3.8"/><path d="M448.7,575.4h3.8M450.6,573.5v3.8"/><path d="M441,624.5h3.8M442.9,622.6v3.8"/><path d="M445.1,597.2h3.8M447,595.3v3.8"/><path d="M448.3,582.4h3.8M450.2,580.5v3.8"/><path d="M447.7,585.5h3.8M449.6,583.6v3.8"/><path d="M442.1,606.7h3.8M443.9,604.8v3.8"/></g>
<g fill="#2d6db5" fill-opacity="1.0"><path d="M447.2,571.7l1.6,2.8h-3.2Z"/><path d="M447.7,604.7l1.6,2.8h-3.2Z"/><path d="M440.1,603.4l1.6,2.8h-3.2Z"/><path d="M438.1,602.3l1.6,2.8h-3.2Z"/><path d="M454.5,600l1.6,2.8h-3.2Z"/><path d="M452.8,594.8l1.6,2.8h-3.2Z"/><path d="M445.4,583.8l1.6,2.8h-3.2Z"/><path d="M450.2,597.7l1.6,2.8h-3.2Z"/><path d="M443.4,591.5l1.6,2.8h-3.2Z"/><path d="M445,580.2l1.6,2.8h-3.2Z"/><path d="M439.4,600.9l1.6,2.8h-3.2Z"/></g>
<g fill="#f5b800" fill-opacity="1.0"><circle cx="437.3" cy="615" r="1.2"/><circle cx="449.8" cy="596.5" r="1.2"/><circle cx="429.7" cy="610.5" r="1.2"/><circle cx="440.6" cy="601" r="1.2"/><circle cx="431.9" cy="588.4" r="1.2"/><circle cx="431.8" cy="593" r="1.2"/><circle cx="426.5" cy="590.8" r="1.2"/><circle cx="446.2" cy="584.5" r="1.2"/><circle cx="439.5" cy="603" r="1.2"/><circle cx="427.6" cy="608" r="1.2"/><circle cx="440.9" cy="606.2" r="1.2"/></g>
<g fill="#d21c1c" fill-opacity="1.0"><path d="M442.6,589.7l1.6,2.8h-3.2Z"/><path d="M443,590l1.6,2.8h-3.2Z"/><path d="M436.2,587.5l1.6,2.8h-3.2Z"/><path d="M451.6,612.5l1.6,2.8h-3.2Z"/><path d="M440,581.5l1.6,2.8h-3.2Z"/><path d="M438.4,612.5l1.6,2.8h-3.2Z"/><path d="M436.9,573.3l1.6,2.8h-3.2Z"/><path d="M457.1,594.3l1.6,2.8h-3.2Z"/><path d="M450.7,581.3l1.6,2.8h-3.2Z"/><path d="M442.6,584l1.6,2.8h-3.2Z"/><path d="M437.3,588.8l1.6,2.8h-3.2Z"/><path d="M432.7,612.8l1.6,2.8h-3.2Z"/><path d="M443.3,600.8l1.6,2.8h-3.2Z"/></g>
<g fill="none" stroke="#8b3a2a" stroke-opacity="1.0" stroke-width="0.8"><path d="M439.2,615.3h3.8M441.1,613.4v3.8"/><path d="M453,587.5h3.8M454.9,585.6v3.8"/><path d="M434.5,607h3.8M436.4,605.2v3.8"/><path d="M436.2,583h3.8M438,581.1v3.8"/><path d="M446.6,599.4h3.8M448.5,597.5v3.8"/><path d="M443.3,600.3h3.8M445.2,598.4v3.8"/><path d="M459.2,608.9h3.8M461.1,607v3.8"/><path d="M453.6,603.1h3.8M455.5,601.2v3.8"/><path d="M429,605.7h3.8M430.9,603.9v3.8"/><path d="M438,595.3h3.8M439.9,593.4v3.8"/></g>
<g fill="#d21c1c" fill-opacity="1.0"><path d="M444.5,614.5l1.6,2.8h-3.2Z"/><path d="M448,621.3l1.6,2.8h-3.2Z"/><path d="M450.5,611.5l1.6,2.8h-3.2Z"/><path d="M443.3,591.2l1.6,2.8h-3.2Z"/><path d="M440.2,576.3l1.6,2.8h-3.2Z"/><path d="M443.3,596.6l1.6,2.8h-3.2Z"/><path d="M438.9,600.1l1.6,2.8h-3.2Z"/><path d="M449.7,590.2l1.6,2.8h-3.2Z"/><path d="M448.4,581.8l1.6,2.8h-3.2Z"/><path d="M447.4,593l1.6,2.8h-3.2Z"/><path d="M435.7,604.8l1.6,2.8h-3.2Z"/><path d="M447.6,591.5l1.6,2.8h-3.2Z"/></g>
<g fill="#f5b800" fill-opacity="1.0"><circle cx="437.8" cy="602.2" r="1.2"/><circle cx="434" cy="595.5" r="1.2"/><circle cx="442.2" cy="593" r="1.2"/><circle cx="432.5" cy="612.4" r="1.2"/><circle cx="440.5" cy="612.6" r="1.2"/><circle cx="456.6" cy="600.2" r="1.2"/><circle cx="430.9" cy="590.1" r="1.2"/><circle cx="440.6" cy="592.6" r="1.2"/><circle cx="438.4" cy="607.4" r="1.2"/></g>
<g fill="#2d6db5" fill-opacity="1.0"><path d="M444.8,615.6l1.6,2.8h-3.2Z"/><path d="M440.3,584.3l1.6,2.8h-3.2Z"/><path d="M451.2,614.9l1.6,2.8h-3.2Z"/><path d="M451.4,599.6l1.6,2.8h-3.2Z"/><path d="M437.2,600.3l1.6,2.8h-3.2Z"/><path d="M437.6,579.7l1.6,2.8h-3.2Z"/><path d="M442.8,627.2l1.6,2.8h-3.2Z"/><path d="M443.9,584.2l1.6,2.8h-3.2Z"/><path d="M443.1,598.5l1.6,2.8h-3.2Z"/><path d="M459.5,590.7l1.6,2.8h-3.2Z"/><path d="M447.4,591.1l1.6,2.8h-3.2Z"/><path d="M457.6,609.6l1.6,2.8h-3.2Z"/><path d="M447.3,623.8l1.6,2.8h-3.2Z"/><path d="M454.5,603.8l1.6,2.8h-3.2Z"/></g>
<ellipse cx="427.8" cy="599.9" rx="50.7" ry="62.9" transform="rotate(17.6 427.8 599.9)" fill="none" stroke="#6ab04c" stroke-width="0.95" stroke-dasharray="3.4 2.4"/>
<ellipse cx="429.5" cy="590" rx="48" ry="58" transform="rotate(0 429.5 590)" fill="none" stroke="#15a58e" stroke-width="0.95" stroke-dasharray="3.4 2.4"/>
<ellipse cx="430" cy="590" rx="46" ry="56" transform="rotate(10 430 590)" fill="none" stroke="#f5b800" stroke-width="0.95" stroke-dasharray="3.4 2.4"/>
<ellipse cx="428" cy="596" rx="45" ry="55" transform="rotate(-5 428 596)" fill="none" stroke="#d21c1c" stroke-width="0.95" stroke-dasharray="3.4 2.4"/>
<ellipse cx="433" cy="598" rx="43" ry="48" transform="rotate(0 433 598)" fill="none" stroke="#2d6db5" stroke-width="0.95" stroke-dasharray="3.4 2.4"/>
<ellipse cx="428" cy="595" rx="47.5" ry="49" transform="rotate(0 428 595)" fill="none" stroke="#1a1a1a" stroke-width="0.95" stroke-dasharray="3.4 2.4"/>
<ellipse cx="429" cy="584" rx="44" ry="50" transform="rotate(0 429 584)" fill="none" stroke="#9a7b5b" stroke-width="0.95" stroke-dasharray="3.4 2.4"/>
<ellipse cx="430" cy="587" rx="45" ry="52" transform="rotate(5 430 587)" fill="none" stroke="#8b3a2a" stroke-width="0.95" stroke-dasharray="3.4 2.4"/>
<rect x="353.5" y="501" width="132.5" height="191" fill="none" stroke="#4a4a4a" stroke-width="0.8"/>
<line x1="537.9" y1="501.4" x2="537.9" y2="691.8" stroke="#f3f3f3" stroke-width="0.5"/>
<line x1="564.8" y1="501.4" x2="564.8" y2="691.8" stroke="#f3f3f3" stroke-width="0.5"/>
<line x1="591.8" y1="501.4" x2="591.8" y2="691.8" stroke="#f3f3f3" stroke-width="0.5"/>
<line x1="618.6" y1="501.4" x2="618.6" y2="691.8" stroke="#f3f3f3" stroke-width="0.5"/>
<line x1="513" y1="678" x2="638.4" y2="678" stroke="#f3f3f3" stroke-width="0.5"/>
<line x1="513" y1="624.1" x2="638.4" y2="624.1" stroke="#f3f3f3" stroke-width="0.5"/>
<line x1="513" y1="570.1" x2="638.4" y2="570.1" stroke="#f3f3f3" stroke-width="0.5"/>
<line x1="513" y1="516.2" x2="638.4" y2="516.2" stroke="#f3f3f3" stroke-width="0.5"/>
<line x1="524.5" y1="501.4" x2="524.5" y2="691.8" stroke="#e8e8e8" stroke-width="0.6"/>
<line x1="551.4" y1="501.4" x2="551.4" y2="691.8" stroke="#e8e8e8" stroke-width="0.6"/>
<line x1="578.3" y1="501.4" x2="578.3" y2="691.8" stroke="#e8e8e8" stroke-width="0.6"/>
<line x1="605.2" y1="501.4" x2="605.2" y2="691.8" stroke="#e8e8e8" stroke-width="0.6"/>
<line x1="632.1" y1="501.4" x2="632.1" y2="691.8" stroke="#e8e8e8" stroke-width="0.6"/>
<line x1="513" y1="651" x2="638.4" y2="651" stroke="#e8e8e8" stroke-width="0.6"/>
<line x1="513" y1="597.1" x2="638.4" y2="597.1" stroke="#e8e8e8" stroke-width="0.6"/>
<line x1="513" y1="543.2" x2="638.4" y2="543.2" stroke="#e8e8e8" stroke-width="0.6"/>
<g fill="#2d6db5" fill-opacity="1.0"><path d="M614.2,551L614.8,552.3L616.1,552.9L614.8,553.5L614.2,554.8L613.6,553.5L612.3,552.9L613.6,552.3Z"/><path d="M553,584.1L553.7,585.4L554.9,586L553.7,586.6L553,587.9L552.4,586.6L551.2,586L552.4,585.4Z"/><path d="M587.6,603.8L588.2,605.1L589.5,605.7L588.2,606.3L587.6,607.6L587,606.3L585.7,605.7L587,605.1Z"/><path d="M557.6,571.5L558.2,572.7L559.5,573.3L558.2,573.9L557.6,575.2L557,573.9L555.7,573.3L557,572.7Z"/><path d="M595.7,531.6L596.3,532.9L597.5,533.5L596.3,534.1L595.7,535.4L595,534.1L593.8,533.5L595,532.9Z"/><path d="M622,587L622.6,588.3L623.9,588.9L622.6,589.5L622,590.8L621.4,589.5L620.1,588.9L621.4,588.3Z"/><path d="M590.7,610L591.3,611.3L592.6,611.9L591.3,612.5L590.7,613.8L590.1,612.5L588.8,611.9L590.1,611.3Z"/><path d="M580.9,590.2L581.5,591.5L582.7,592.1L581.5,592.7L580.9,594L580.2,592.7L579,592.1L580.2,591.5Z"/><path d="M592.2,548.2L592.9,549.5L594.1,550.1L592.9,550.7L592.2,552L591.6,550.7L590.4,550.1L591.6,549.5Z"/><path d="M618.4,586.2L619,587.4L620.2,588L619,588.6L618.4,589.9L617.7,588.6L616.5,588L617.7,587.4Z"/></g>
<g fill="#f5b800" fill-opacity="1.0"><path d="M569.8,635.3l1.6,2.8h-3.2Z"/><path d="M558.6,674.9l1.6,2.8h-3.2Z"/><path d="M567.2,629.1l1.6,2.8h-3.2Z"/><path d="M545.9,605.2l1.6,2.8h-3.2Z"/><path d="M574.6,639.3l1.6,2.8h-3.2Z"/><path d="M608,623.3l1.6,2.8h-3.2Z"/><path d="M591.8,664.6l1.6,2.8h-3.2Z"/><path d="M603.4,623.5l1.6,2.8h-3.2Z"/><path d="M550.5,585.7l1.6,2.8h-3.2Z"/><path d="M565.9,624.6l1.6,2.8h-3.2Z"/><path d="M573,581.6l1.6,2.8h-3.2Z"/><path d="M575,596l1.6,2.8h-3.2Z"/><path d="M541.7,639.8l1.6,2.8h-3.2Z"/><path d="M575.5,643.7l1.6,2.8h-3.2Z"/><path d="M605.1,611.7l1.6,2.8h-3.2Z"/></g>
<g fill="#d21c1c" fill-opacity="1.0"><path d="M553.7,576.6L554.3,577.8L555.5,578.4L554.3,579.1L553.7,580.3L553,579.1L551.8,578.4L553,577.8Z"/><path d="M591.1,610.4L591.7,611.7L592.9,612.3L591.7,612.9L591.1,614.2L590.4,612.9L589.2,612.3L590.4,611.7Z"/><path d="M559.5,596.7L560.1,598L561.4,598.6L560.1,599.2L559.5,600.4L558.9,599.2L557.6,598.6L558.9,598Z"/><path d="M575.6,578.3L576.2,579.6L577.5,580.2L576.2,580.8L575.6,582.1L575,580.8L573.7,580.2L575,579.6Z"/><path d="M569.3,616.5L569.9,617.7L571.2,618.3L569.9,619L569.3,620.2L568.7,619L567.4,618.3L568.7,617.7Z"/><path d="M600.3,555L600.9,556.3L602.2,556.9L600.9,557.5L600.3,558.8L599.7,557.5L598.4,556.9L599.7,556.3Z"/><path d="M591.2,537L591.9,538.3L593.1,538.9L591.9,539.5L591.2,540.8L590.6,539.5L589.4,538.9L590.6,538.3Z"/><path d="M591.9,598.6L592.5,599.9L593.8,600.5L592.5,601.1L591.9,602.4L591.3,601.1L590,600.5L591.3,599.9Z"/><path d="M590.7,593.4L591.3,594.6L592.6,595.2L591.3,595.9L590.7,597.1L590.1,595.9L588.8,595.2L590.1,594.6Z"/><path d="M592.7,546L593.3,547.3L594.6,547.9L593.3,548.5L592.7,549.8L592.1,548.5L590.8,547.9L592.1,547.3Z"/></g>
<g fill="#15a58e" fill-opacity="1.0"><path d="M546.8,648.4l1.6,2.8h-3.2Z"/><path d="M623.1,619.4l1.6,2.8h-3.2Z"/><path d="M589.8,603.1l1.6,2.8h-3.2Z"/><path d="M569.5,609.9l1.6,2.8h-3.2Z"/><path d="M548,657.1l1.6,2.8h-3.2Z"/><path d="M562.4,607.7l1.6,2.8h-3.2Z"/><path d="M610.1,631.3l1.6,2.8h-3.2Z"/><path d="M550.4,619.8l1.6,2.8h-3.2Z"/><path d="M545.2,593.9l1.6,2.8h-3.2Z"/><path d="M574.5,586.1l1.6,2.8h-3.2Z"/><path d="M577.4,575.2l1.6,2.8h-3.2Z"/><path d="M577.5,627.5l1.6,2.8h-3.2Z"/><path d="M579.5,630.2l1.6,2.8h-3.2Z"/><path d="M599.4,648.6l1.6,2.8h-3.2Z"/><path d="M603.3,653.2l1.6,2.8h-3.2Z"/></g>
<g fill="#f5b800" fill-opacity="1.0"><path d="M595.7,601.1l1.6,2.8h-3.2Z"/><path d="M618.2,622.5l1.6,2.8h-3.2Z"/><path d="M538.7,617.8l1.6,2.8h-3.2Z"/><path d="M573.3,638.4l1.6,2.8h-3.2Z"/><path d="M588,582.9l1.6,2.8h-3.2Z"/><path d="M552.4,625.3l1.6,2.8h-3.2Z"/><path d="M598.5,629.2l1.6,2.8h-3.2Z"/><path d="M572.2,591.9l1.6,2.8h-3.2Z"/><path d="M614.3,635.6l1.6,2.8h-3.2Z"/></g>
<g fill="#15a58e" fill-opacity="1.0"><path d="M582.8,613.8l1.6,2.8h-3.2Z"/><path d="M569.1,630.8l1.6,2.8h-3.2Z"/><path d="M559.4,638.9l1.6,2.8h-3.2Z"/><path d="M588.3,648.4l1.6,2.8h-3.2Z"/><path d="M571.9,607.3l1.6,2.8h-3.2Z"/><path d="M554.5,667.8l1.6,2.8h-3.2Z"/><path d="M579.6,626.9l1.6,2.8h-3.2Z"/><path d="M571.9,597.3l1.6,2.8h-3.2Z"/><path d="M611.8,626l1.6,2.8h-3.2Z"/><path d="M565.8,614.4l1.6,2.8h-3.2Z"/><path d="M544.3,608.9l1.6,2.8h-3.2Z"/><path d="M564.7,625.6l1.6,2.8h-3.2Z"/><path d="M581.5,630.9l1.6,2.8h-3.2Z"/></g>
<g fill="#2d6db5" fill-opacity="1.0"><path d="M598.5,547.1L599.2,548.3L600.4,549L599.2,549.6L598.5,550.8L597.9,549.6L596.7,549L597.9,548.3Z"/><path d="M602,568.4L602.6,569.7L603.9,570.3L602.6,570.9L602,572.1L601.4,570.9L600.1,570.3L601.4,569.7Z"/><path d="M565.8,612.9L566.4,614.2L567.7,614.8L566.4,615.4L565.8,616.7L565.2,615.4L563.9,614.8L565.2,614.2Z"/><path d="M578.5,552.9L579.1,554.2L580.4,554.8L579.1,555.4L578.5,556.7L577.9,555.4L576.7,554.8L577.9,554.2Z"/><path d="M563.8,604.9L564.4,606.2L565.7,606.8L564.4,607.4L563.8,608.7L563.2,607.4L561.9,606.8L563.2,606.2Z"/><path d="M592,585.7L592.6,587L593.8,587.6L592.6,588.2L592,589.5L591.3,588.2L590.1,587.6L591.3,587Z"/><path d="M578.2,577.1L578.8,578.4L580.1,579L578.8,579.6L578.2,580.9L577.6,579.6L576.3,579L577.6,578.4Z"/><path d="M575.9,607.6L576.5,608.9L577.8,609.5L576.5,610.1L575.9,611.4L575.3,610.1L574,609.5L575.3,608.9Z"/><path d="M581.1,611.3L581.8,612.6L583,613.2L581.8,613.8L581.1,615.1L580.5,613.8L579.3,613.2L580.5,612.6Z"/><path d="M598.9,574.2L599.5,575.5L600.7,576.1L599.5,576.7L598.9,578L598.3,576.7L597,576.1L598.3,575.5Z"/><path d="M570.4,622.1L571,623.4L572.3,624L571,624.6L570.4,625.9L569.8,624.6L568.5,624L569.8,623.4Z"/><path d="M583.2,555.9L583.9,557.2L585.1,557.8L583.9,558.4L583.2,559.7L582.6,558.4L581.4,557.8L582.6,557.2Z"/><path d="M569.5,580.5L570.1,581.8L571.4,582.4L570.1,583L569.5,584.3L568.9,583L567.6,582.4L568.9,581.8Z"/><path d="M589.8,598.4L590.4,599.6L591.6,600.3L590.4,600.9L589.8,602.1L589.1,600.9L587.9,600.3L589.1,599.6Z"/></g>
<g fill="#d21c1c" fill-opacity="1.0"><path d="M573.9,605.7L574.5,607L575.8,607.6L574.5,608.2L573.9,609.5L573.3,608.2L572,607.6L573.3,607Z"/><path d="M574.6,552.3L575.2,553.6L576.5,554.2L575.2,554.8L574.6,556.1L574,554.8L572.7,554.2L574,553.6Z"/><path d="M588.9,602.3L589.5,603.6L590.8,604.2L589.5,604.8L588.9,606.1L588.3,604.8L587,604.2L588.3,603.6Z"/><path d="M600.9,606.3L601.5,607.6L602.8,608.2L601.5,608.8L600.9,610L600.3,608.8L599,608.2L600.3,607.6Z"/><path d="M567.8,573.8L568.4,575.1L569.6,575.7L568.4,576.3L567.8,577.6L567.1,576.3L565.9,575.7L567.1,575.1Z"/><path d="M577.2,601.9L577.8,603.1L579.1,603.8L577.8,604.4L577.2,605.6L576.6,604.4L575.3,603.8L576.6,603.1Z"/><path d="M573.7,601.8L574.3,603.1L575.6,603.7L574.3,604.3L573.7,605.6L573.1,604.3L571.9,603.7L573.1,603.1Z"/><path d="M566.8,605.7L567.4,606.9L568.7,607.5L567.4,608.2L566.8,609.4L566.2,608.2L564.9,607.5L566.2,606.9Z"/><path d="M572,578.1L572.6,579.4L573.9,580L572.6,580.6L572,581.9L571.4,580.6L570.1,580L571.4,579.4Z"/><path d="M596.1,634L596.7,635.3L598,635.9L596.7,636.5L596.1,637.8L595.5,636.5L594.2,635.9L595.5,635.3Z"/><path d="M592.3,518.5L592.9,519.8L594.2,520.4L592.9,521L592.3,522.3L591.7,521L590.4,520.4L591.7,519.8Z"/><path d="M616.7,536.4L617.3,537.6L618.6,538.3L617.3,538.9L616.7,540.1L616.1,538.9L614.8,538.3L616.1,537.6Z"/><path d="M598.3,594.1L598.9,595.4L600.2,596L598.9,596.6L598.3,597.9L597.7,596.6L596.4,596L597.7,595.4Z"/><path d="M587.3,568.7L587.9,569.9L589.2,570.6L587.9,571.2L587.3,572.4L586.7,571.2L585.4,570.6L586.7,569.9Z"/></g>
<g fill="#15a58e" fill-opacity="1.0"><path d="M555.3,580.6l1.6,2.8h-3.2Z"/><path d="M562.6,588.7l1.6,2.8h-3.2Z"/><path d="M556.2,600.2l1.6,2.8h-3.2Z"/><path d="M595.2,645.9l1.6,2.8h-3.2Z"/><path d="M543.2,612.2l1.6,2.8h-3.2Z"/><path d="M591.7,641.7l1.6,2.8h-3.2Z"/><path d="M581.2,651.1l1.6,2.8h-3.2Z"/><path d="M572,623.7l1.6,2.8h-3.2Z"/><path d="M549.1,627.8l1.6,2.8h-3.2Z"/><path d="M561.5,593.2l1.6,2.8h-3.2Z"/><path d="M561.2,586.4l1.6,2.8h-3.2Z"/><path d="M583,604.2l1.6,2.8h-3.2Z"/><path d="M556.4,610.4l1.6,2.8h-3.2Z"/></g>
<g fill="#2d6db5" fill-opacity="1.0"><path d="M595.4,578.7L596,580L597.3,580.6L596,581.2L595.4,582.5L594.8,581.2L593.5,580.6L594.8,580Z"/><path d="M605.4,594.7L606,596L607.3,596.6L606,597.2L605.4,598.5L604.8,597.2L603.5,596.6L604.8,596Z"/><path d="M595.7,554.1L596.3,555.4L597.6,556L596.3,556.6L595.7,557.9L595.1,556.6L593.8,556L595.1,555.4Z"/><path d="M587,526.9L587.6,528.2L588.9,528.8L587.6,529.4L587,530.7L586.4,529.4L585.1,528.8L586.4,528.2Z"/><path d="M573.3,565.3L573.9,566.6L575.2,567.2L573.9,567.8L573.3,569.1L572.7,567.8L571.4,567.2L572.7,566.6Z"/><path d="M583.1,589.7L583.7,591L585,591.6L583.7,592.2L583.1,593.4L582.5,592.2L581.2,591.6L582.5,591Z"/><path d="M593.7,608.1L594.3,609.4L595.6,610L594.3,610.6L593.7,611.9L593.1,610.6L591.8,610L593.1,609.4Z"/><path d="M551.8,618.5L552.4,619.7L553.7,620.4L552.4,621L551.8,622.2L551.2,621L549.9,620.4L551.2,619.7Z"/><path d="M591.9,562.1L592.5,563.4L593.8,564L592.5,564.6L591.9,565.9L591.3,564.6L590,564L591.3,563.4Z"/><path d="M572.3,566.5L572.9,567.7L574.2,568.3L572.9,568.9L572.3,570.2L571.7,568.9L570.4,568.3L571.7,567.7Z"/></g>
<g fill="#d21c1c" fill-opacity="1.0"><path d="M574,596L574.6,597.3L575.9,597.9L574.6,598.5L574,599.8L573.4,598.5L572.1,597.9L573.4,597.3Z"/><path d="M602.1,576.2L602.7,577.5L604,578.1L602.7,578.7L602.1,580L601.5,578.7L600.2,578.1L601.5,577.5Z"/><path d="M562.8,580.1L563.4,581.4L564.7,582L563.4,582.6L562.8,583.9L562.2,582.6L560.9,582L562.2,581.4Z"/><path d="M575.1,599.1L575.7,600.3L577,600.9L575.7,601.5L575.1,602.8L574.5,601.5L573.2,600.9L574.5,600.3Z"/><path d="M590.2,546.4L590.8,547.7L592.1,548.3L590.8,548.9L590.2,550.2L589.6,548.9L588.3,548.3L589.6,547.7Z"/><path d="M558.7,635.7L559.3,637L560.6,637.6L559.3,638.2L558.7,639.5L558.1,638.2L556.8,637.6L558.1,637Z"/><path d="M566.5,577.9L567.1,579.1L568.3,579.7L567.1,580.4L566.5,581.6L565.9,580.4L564.6,579.7L565.9,579.1Z"/><path d="M588.8,556L589.4,557.3L590.6,557.9L589.4,558.5L588.8,559.8L588.2,558.5L586.9,557.9L588.2,557.3Z"/></g>
<g fill="#f5b800" fill-opacity="1.0"><path d="M561.6,637.7l1.6,2.8h-3.2Z"/><path d="M554.3,616.5l1.6,2.8h-3.2Z"/><path d="M566.3,611l1.6,2.8h-3.2Z"/><path d="M562.2,631.8l1.6,2.8h-3.2Z"/><path d="M604.2,615.8l1.6,2.8h-3.2Z"/><path d="M576.1,570.5l1.6,2.8h-3.2Z"/><path d="M601.3,585.4l1.6,2.8h-3.2Z"/><path d="M559.4,578.6l1.6,2.8h-3.2Z"/><path d="M625.7,602.3l1.6,2.8h-3.2Z"/><path d="M566.5,664.7l1.6,2.8h-3.2Z"/><path d="M592.1,602.5l1.6,2.8h-3.2Z"/><path d="M584.3,618.1l1.6,2.8h-3.2Z"/><path d="M567.7,610.6l1.6,2.8h-3.2Z"/><path d="M598.3,602l1.6,2.8h-3.2Z"/><path d="M607.5,640.4l1.6,2.8h-3.2Z"/><path d="M586,601.4l1.6,2.8h-3.2Z"/><path d="M563.6,597.2l1.6,2.8h-3.2Z"/><path d="M577.3,621.4l1.6,2.8h-3.2Z"/><path d="M580.3,634.8l1.6,2.8h-3.2Z"/></g>
<g fill="#2d6db5" fill-opacity="1.0"><path d="M571.2,533.9L571.8,535.2L573.1,535.8L571.8,536.4L571.2,537.7L570.6,536.4L569.3,535.8L570.6,535.2Z"/><path d="M571.3,624.3L571.9,625.6L573.1,626.2L571.9,626.8L571.3,628.1L570.6,626.8L569.4,626.2L570.6,625.6Z"/><path d="M575.7,601.2L576.3,602.5L577.6,603.1L576.3,603.7L575.7,605L575.1,603.7L573.8,603.1L575.1,602.5Z"/><path d="M578.7,578.4L579.3,579.6L580.6,580.2L579.3,580.8L578.7,582.1L578.1,580.8L576.9,580.2L578.1,579.6Z"/><path d="M583.8,610.5L584.4,611.8L585.6,612.4L584.4,613L583.8,614.3L583.2,613L581.9,612.4L583.2,611.8Z"/><path d="M594.8,591.2L595.4,592.5L596.7,593.1L595.4,593.7L594.8,595L594.2,593.7L592.9,593.1L594.2,592.5Z"/><path d="M596.6,576.3L597.2,577.5L598.4,578.2L597.2,578.8L596.6,580L596,578.8L594.7,578.2L596,577.5Z"/><path d="M587.3,594.4L587.9,595.7L589.2,596.3L587.9,596.9L587.3,598.2L586.7,596.9L585.4,596.3L586.7,595.7Z"/><path d="M560.2,571.9L560.8,573.2L562.1,573.8L560.8,574.4L560.2,575.7L559.6,574.4L558.3,573.8L559.6,573.2Z"/><path d="M602.8,625.2L603.4,626.5L604.7,627.1L603.4,627.7L602.8,629L602.2,627.7L600.9,627.1L602.2,626.5Z"/><path d="M609.2,526.2L609.9,527.5L611.1,528.1L609.9,528.7L609.2,529.9L608.6,528.7L607.4,528.1L608.6,527.5Z"/></g>
<g fill="#d21c1c" fill-opacity="1.0"><path d="M582.1,612.8L582.7,614L584,614.6L582.7,615.2L582.1,616.5L581.5,615.2L580.2,614.6L581.5,614Z"/><path d="M603.4,564.3L604,565.5L605.3,566.1L604,566.8L603.4,568L602.8,566.8L601.5,566.1L602.8,565.5Z"/><path d="M584,604.2L584.6,605.5L585.9,606.1L584.6,606.7L584,608L583.4,606.7L582.1,606.1L583.4,605.5Z"/><path d="M578.1,635.7L578.7,637L580,637.6L578.7,638.2L578.1,639.5L577.5,638.2L576.2,637.6L577.5,637Z"/><path d="M572.5,629.5L573.1,630.8L574.4,631.4L573.1,632L572.5,633.3L571.9,632L570.6,631.4L571.9,630.8Z"/><path d="M599.9,533.3L600.5,534.6L601.8,535.2L600.5,535.8L599.9,537.1L599.3,535.8L598,535.2L599.3,534.6Z"/><path d="M562.9,618.3L563.5,619.5L564.7,620.1L563.5,620.8L562.9,622L562.2,620.8L561,620.1L562.2,619.5Z"/><path d="M567.4,566.2L568,567.4L569.2,568L568,568.6L567.4,569.9L566.7,568.6L565.5,568L566.7,567.4Z"/><path d="M584.9,541.4L585.5,542.6L586.7,543.3L585.5,543.9L584.9,545.1L584.3,543.9L583,543.3L584.3,542.6Z"/><path d="M559.1,574.9L559.7,576.2L561,576.8L559.7,577.4L559.1,578.7L558.5,577.4L557.2,576.8L558.5,576.2Z"/><path d="M570.1,617L570.7,618.2L572,618.8L570.7,619.4L570.1,620.7L569.5,619.4L568.2,618.8L569.5,618.2Z"/><path d="M561.5,589.4L562.1,590.7L563.3,591.3L562.1,591.9L561.5,593.1L560.8,591.9L559.6,591.3L560.8,590.7Z"/><path d="M595,620.7L595.6,622L596.9,622.6L595.6,623.2L595,624.5L594.4,623.2L593.1,622.6L594.4,622Z"/><path d="M611.7,520.6L612.3,521.8L613.6,522.4L612.3,523L611.7,524.3L611.1,523L609.8,522.4L611.1,521.8Z"/><path d="M575.7,599.2L576.3,600.4L577.6,601L576.3,601.6L575.7,602.9L575.1,601.6L573.8,601L575.1,600.4Z"/><path d="M585.6,582.7L586.2,584L587.5,584.6L586.2,585.2L585.6,586.5L585,585.2L583.7,584.6L585,584Z"/></g>
<g fill="#f5b800" fill-opacity="1.0"><path d="M575,652.5l1.6,2.8h-3.2Z"/><path d="M579.6,614l1.6,2.8h-3.2Z"/><path d="M566.7,628.4l1.6,2.8h-3.2Z"/><path d="M567.6,615.5l1.6,2.8h-3.2Z"/><path d="M609.3,665.9l1.6,2.8h-3.2Z"/><path d="M565.6,646.9l1.6,2.8h-3.2Z"/><path d="M561.8,628.7l1.6,2.8h-3.2Z"/><path d="M569.8,620.4l1.6,2.8h-3.2Z"/><path d="M578.7,575.9l1.6,2.8h-3.2Z"/><path d="M591.9,586.7l1.6,2.8h-3.2Z"/><path d="M609.6,613.1l1.6,2.8h-3.2Z"/><path d="M553,629.3l1.6,2.8h-3.2Z"/><path d="M580.7,612.8l1.6,2.8h-3.2Z"/><path d="M550.9,590.8l1.6,2.8h-3.2Z"/><path d="M572.1,682.1l1.6,2.8h-3.2Z"/></g>
<g fill="#15a58e" fill-opacity="1.0"><path d="M612.5,633.9l1.6,2.8h-3.2Z"/><path d="M584.3,589.5l1.6,2.8h-3.2Z"/><path d="M576.1,671.6l1.6,2.8h-3.2Z"/><path d="M566.5,638.2l1.6,2.8h-3.2Z"/><path d="M542.8,598.7l1.6,2.8h-3.2Z"/><path d="M595.1,601.2l1.6,2.8h-3.2Z"/><path d="M561.8,645.5l1.6,2.8h-3.2Z"/><path d="M565.9,662l1.6,2.8h-3.2Z"/></g>
<g fill="#2d6db5" fill-opacity="1.0"><path d="M566.6,557.2L567.2,558.5L568.4,559.1L567.2,559.7L566.6,561L565.9,559.7L564.7,559.1L565.9,558.5Z"/><path d="M578.7,626.8L579.3,628L580.6,628.7L579.3,629.3L578.7,630.5L578.1,629.3L576.8,628.7L578.1,628Z"/><path d="M584.8,596.5L585.4,597.8L586.7,598.4L585.4,599L584.8,600.3L584.2,599L582.9,598.4L584.2,597.8Z"/><path d="M575.3,575.1L575.9,576.4L577.2,577L575.9,577.6L575.3,578.9L574.7,577.6L573.4,577L574.7,576.4Z"/><path d="M592.1,537.8L592.7,539.1L594,539.7L592.7,540.3L592.1,541.6L591.5,540.3L590.2,539.7L591.5,539.1Z"/><path d="M600.9,565.6L601.5,566.9L602.8,567.5L601.5,568.1L600.9,569.4L600.3,568.1L599,567.5L600.3,566.9Z"/><path d="M583.3,560.5L583.9,561.8L585.2,562.4L583.9,563L583.3,564.3L582.7,563L581.4,562.4L582.7,561.8Z"/><path d="M566.7,584.4L567.3,585.7L568.6,586.3L567.3,586.9L566.7,588.2L566.1,586.9L564.9,586.3L566.1,585.7Z"/><path d="M583.2,614.4L583.8,615.6L585.1,616.3L583.8,616.9L583.2,618.1L582.6,616.9L581.3,616.3L582.6,615.6Z"/><path d="M583.1,584.3L583.7,585.6L585,586.2L583.7,586.8L583.1,588.1L582.5,586.8L581.2,586.2L582.5,585.6Z"/><path d="M570.4,532.1L571,533.4L572.3,534L571,534.6L570.4,535.9L569.8,534.6L568.5,534L569.8,533.4Z"/><path d="M560.3,549.3L560.9,550.6L562.1,551.2L560.9,551.8L560.3,553.1L559.6,551.8L558.4,551.2L559.6,550.6Z"/></g>
<g fill="#15a58e" fill-opacity="1.0"><path d="M569.3,630.8l1.6,2.8h-3.2Z"/><path d="M582.7,616.4l1.6,2.8h-3.2Z"/><path d="M572,641l1.6,2.8h-3.2Z"/><path d="M574.1,637.6l1.6,2.8h-3.2Z"/><path d="M624.7,623.8l1.6,2.8h-3.2Z"/><path d="M591,630.8l1.6,2.8h-3.2Z"/><path d="M571.2,671.7l1.6,2.8h-3.2Z"/><path d="M578.3,630.8l1.6,2.8h-3.2Z"/><path d="M552.1,626.2l1.6,2.8h-3.2Z"/><path d="M557.8,630.8l1.6,2.8h-3.2Z"/><path d="M553.5,648.8l1.6,2.8h-3.2Z"/><path d="M562.2,642.2l1.6,2.8h-3.2Z"/><path d="M566.5,585l1.6,2.8h-3.2Z"/><path d="M548,656l1.6,2.8h-3.2Z"/><path d="M597.5,631.3l1.6,2.8h-3.2Z"/><path d="M588.9,609.2l1.6,2.8h-3.2Z"/></g>
<g fill="#f5b800" fill-opacity="1.0"><path d="M597.8,662.5l1.6,2.8h-3.2Z"/><path d="M565.7,592.4l1.6,2.8h-3.2Z"/><path d="M586.8,586.3l1.6,2.8h-3.2Z"/><path d="M554.3,635l1.6,2.8h-3.2Z"/><path d="M614.3,630.4l1.6,2.8h-3.2Z"/><path d="M584.9,618.4l1.6,2.8h-3.2Z"/><path d="M570,602.9l1.6,2.8h-3.2Z"/><path d="M564.1,650.3l1.6,2.8h-3.2Z"/><path d="M568.8,608.4l1.6,2.8h-3.2Z"/><path d="M570.8,631.8l1.6,2.8h-3.2Z"/><path d="M549.1,652.4l1.6,2.8h-3.2Z"/><path d="M606.4,603.9l1.6,2.8h-3.2Z"/><path d="M545.1,615.1l1.6,2.8h-3.2Z"/><path d="M617.3,577.3l1.6,2.8h-3.2Z"/><path d="M582.4,651.5l1.6,2.8h-3.2Z"/></g>
<g fill="#d21c1c" fill-opacity="1.0"><path d="M594.2,571.3L594.8,572.6L596.1,573.2L594.8,573.8L594.2,575.1L593.6,573.8L592.3,573.2L593.6,572.6Z"/><path d="M577.1,615.6L577.7,616.8L579,617.5L577.7,618.1L577.1,619.3L576.5,618.1L575.2,617.5L576.5,616.8Z"/><path d="M571.6,534.3L572.2,535.6L573.5,536.2L572.2,536.8L571.6,538.1L571,536.8L569.7,536.2L571,535.6Z"/><path d="M604.5,535.1L605.2,536.3L606.4,536.9L605.2,537.6L604.5,538.8L603.9,537.6L602.7,536.9L603.9,536.3Z"/><path d="M595.4,573.6L596,574.9L597.2,575.5L596,576.1L595.4,577.4L594.7,576.1L593.5,575.5L594.7,574.9Z"/><path d="M590.5,572.7L591.1,574L592.4,574.6L591.1,575.2L590.5,576.5L589.9,575.2L588.6,574.6L589.9,574Z"/><path d="M591.5,571.8L592.1,573.1L593.4,573.7L592.1,574.3L591.5,575.6L590.9,574.3L589.6,573.7L590.9,573.1Z"/></g>
<g fill="#f5b800" fill-opacity="1.0"><path d="M580.4,605.7l1.6,2.8h-3.2Z"/><path d="M574.6,569.3l1.6,2.8h-3.2Z"/><path d="M569.1,621.2l1.6,2.8h-3.2Z"/></g>
<g fill="#2d6db5" fill-opacity="1.0"><path d="M582.6,607.2L583.2,608.4L584.5,609L583.2,609.7L582.6,610.9L582,609.7L580.7,609L582,608.4Z"/></g>
<g fill="#15a58e" fill-opacity="1.0"><path d="M549,629.9l1.6,2.8h-3.2Z"/></g>
<g fill="#d21c1c" fill-opacity="1.0"><path d="M564.1,557.6L564.7,558.9L566,559.5L564.7,560.1L564.1,561.4L563.5,560.1L562.3,559.5L563.5,558.9Z"/></g>
<ellipse cx="583" cy="589" rx="39.5" ry="78" transform="rotate(0 583 589)" fill="none" stroke="#2d6db5" stroke-width="0.95" stroke-dasharray="3.4 2.4"/>
<ellipse cx="580" cy="588" rx="33" ry="77" transform="rotate(15 580 588)" fill="none" stroke="#d21c1c" stroke-width="0.95" stroke-dasharray="3.4 2.4"/>
<ellipse cx="575" cy="603" rx="48" ry="66.6" transform="rotate(-8 575 603)" fill="none" stroke="#f5b800" stroke-width="0.95" stroke-dasharray="3.4 2.4"/>
<ellipse cx="573" cy="609" rx="47.5" ry="67" transform="rotate(-10 573 609)" fill="none" stroke="#15a58e" stroke-width="0.95" stroke-dasharray="3.4 2.4"/>
<rect x="513" y="501.4" width="125.4" height="190.4" fill="none" stroke="#4a4a4a" stroke-width="0.8"/>
<text x="349" y="538.3" font-size="6.5" text-anchor="end" fill="#4d4d4d">0.04</text>
<line x1="349.8" y1="536" x2="353.5" y2="536" stroke="#4d4d4d" stroke-width="0.5"/>
<text x="349" y="594.7" font-size="6.5" text-anchor="end" fill="#4d4d4d">0.00</text>
<line x1="349.8" y1="592.4" x2="353.5" y2="592.4" stroke="#4d4d4d" stroke-width="0.5"/>
<text x="349" y="651.1" font-size="6.5" text-anchor="end" fill="#4d4d4d">-0.04</text>
<line x1="349.8" y1="648.8" x2="353.5" y2="648.8" stroke="#4d4d4d" stroke-width="0.5"/>
<text x="511" y="545.5" font-size="6.5" text-anchor="end" fill="#4d4d4d">0.1</text>
<line x1="511.2" y1="543.2" x2="513" y2="543.2" stroke="#4d4d4d" stroke-width="0.5"/>
<text x="511" y="599.4" font-size="6.5" text-anchor="end" fill="#4d4d4d">0.0</text>
<line x1="511.2" y1="597.1" x2="513" y2="597.1" stroke="#4d4d4d" stroke-width="0.5"/>
<text x="511" y="653.3" font-size="6.5" text-anchor="end" fill="#4d4d4d">-0.1</text>
<line x1="511.2" y1="651" x2="513" y2="651" stroke="#4d4d4d" stroke-width="0.5"/>
<text x="375.4" y="701.8" font-size="6" text-anchor="middle" fill="#4d4d4d">-0.10</text>
<line x1="375.4" y1="692" x2="375.4" y2="693.8" stroke="#4d4d4d" stroke-width="0.5"/>
<text x="401.7" y="701.8" font-size="6" text-anchor="middle" fill="#4d4d4d">-0.05</text>
<line x1="401.7" y1="692" x2="401.7" y2="693.8" stroke="#4d4d4d" stroke-width="0.5"/>
<text x="428" y="701.8" font-size="6" text-anchor="middle" fill="#4d4d4d">0.00</text>
<line x1="428" y1="692" x2="428" y2="693.8" stroke="#4d4d4d" stroke-width="0.5"/>
<text x="454.3" y="701.8" font-size="6" text-anchor="middle" fill="#4d4d4d">0.05</text>
<line x1="454.3" y1="692" x2="454.3" y2="693.8" stroke="#4d4d4d" stroke-width="0.5"/>
<text x="480.6" y="701.8" font-size="6" text-anchor="middle" fill="#4d4d4d">0.10</text>
<line x1="480.6" y1="692" x2="480.6" y2="693.8" stroke="#4d4d4d" stroke-width="0.5"/>
<text x="524.5" y="701.6" font-size="6" text-anchor="middle" fill="#4d4d4d">-0.2</text>
<line x1="524.5" y1="691.8" x2="524.5" y2="693.6" stroke="#4d4d4d" stroke-width="0.5"/>
<text x="551.4" y="701.6" font-size="6" text-anchor="middle" fill="#4d4d4d">-0.1</text>
<line x1="551.4" y1="691.8" x2="551.4" y2="693.6" stroke="#4d4d4d" stroke-width="0.5"/>
<text x="578.3" y="701.6" font-size="6" text-anchor="middle" fill="#4d4d4d">0.0</text>
<line x1="578.3" y1="691.8" x2="578.3" y2="693.6" stroke="#4d4d4d" stroke-width="0.5"/>
<text x="605.2" y="701.6" font-size="6" text-anchor="middle" fill="#4d4d4d">0.1</text>
<line x1="605.2" y1="691.8" x2="605.2" y2="693.6" stroke="#4d4d4d" stroke-width="0.5"/>
<text x="632.1" y="701.6" font-size="6" text-anchor="middle" fill="#4d4d4d">0.2</text>
<line x1="632.1" y1="691.8" x2="632.1" y2="693.6" stroke="#4d4d4d" stroke-width="0.5"/>
<text x="426.4" y="711.9" font-size="6.9" text-anchor="middle" fill="#000">PCoA1 [49.4%]</text>
<text x="585.8" y="712.3" font-size="6.9" text-anchor="middle" fill="#000">PCoA1 [29.1%]</text>
<text transform="translate(331.5,589.2) rotate(-90)" x="0" y="2.3" font-size="6.9" text-anchor="middle" fill="#000">PCoA2 [10.3%]</text>
<text transform="translate(494.2,590.2) rotate(-90)" x="0" y="2.3" font-size="6.9" text-anchor="middle" fill="#000">PCoA2 [20.4%]</text>
<line x1="646.4" y1="526.4" x2="658.3" y2="526.4" stroke="#1a1a1a" stroke-width="0.9" stroke-dasharray="3 2"/>
<circle cx="652.3" cy="526.4" r="1.9" fill="#1a1a1a"/>
<text x="664.8" y="524.5" font-size="5.6" text-anchor="start" fill="#1a1a1a">Interv.</text>
<text x="664.8" y="532.3" font-size="5.6" text-anchor="start" fill="#1a1a1a">Tri2</text>
<line x1="646.4" y1="546.6" x2="658.3" y2="546.6" stroke="#6ab04c" stroke-width="0.9" stroke-dasharray="3 2"/>
<circle cx="652.3" cy="546.6" r="1.9" fill="#6ab04c"/>
<text x="664.8" y="544.7" font-size="5.6" text-anchor="start" fill="#1a1a1a">Contr.</text>
<text x="664.8" y="552.5" font-size="5.6" text-anchor="start" fill="#1a1a1a">Tri2</text>
<line x1="646.4" y1="566.8" x2="658.3" y2="566.8" stroke="#8b3a2a" stroke-width="0.9" stroke-dasharray="3 2"/>
<circle cx="652.3" cy="566.8" r="1.9" fill="#8b3a2a"/>
<text x="664.8" y="564.9" font-size="5.6" text-anchor="start" fill="#1a1a1a">Interv.</text>
<text x="664.8" y="572.7" font-size="5.6" text-anchor="start" fill="#1a1a1a">Tri3</text>
<line x1="646.4" y1="587" x2="658.3" y2="587" stroke="#9a7b5b" stroke-width="0.9" stroke-dasharray="3 2"/>
<circle cx="652.3" cy="587" r="1.9" fill="#9a7b5b"/>
<text x="664.8" y="585.1" font-size="5.6" text-anchor="start" fill="#1a1a1a">Contr.</text>
<text x="664.8" y="592.9" font-size="5.6" text-anchor="start" fill="#1a1a1a">Tri3</text>
<line x1="646.4" y1="607.2" x2="658.3" y2="607.2" stroke="#15a58e" stroke-width="0.9" stroke-dasharray="3 2"/>
<circle cx="652.3" cy="607.2" r="1.9" fill="#15a58e"/>
<text x="664.8" y="605.3" font-size="5.6" text-anchor="start" fill="#1a1a1a">Interv.</text>
<text x="664.8" y="613.1" font-size="5.6" text-anchor="start" fill="#1a1a1a">Pn12</text>
<line x1="646.4" y1="627.4" x2="658.3" y2="627.4" stroke="#f5b800" stroke-width="0.9" stroke-dasharray="3 2"/>
<circle cx="652.3" cy="627.4" r="1.9" fill="#f5b800"/>
<text x="664.8" y="625.5" font-size="5.6" text-anchor="start" fill="#1a1a1a">Contr.</text>
<text x="664.8" y="633.3" font-size="5.6" text-anchor="start" fill="#1a1a1a">Pn12</text>
<line x1="646.4" y1="647.6" x2="658.3" y2="647.6" stroke="#2d6db5" stroke-width="0.9" stroke-dasharray="3 2"/>
<circle cx="652.3" cy="647.6" r="1.9" fill="#2d6db5"/>
<text x="664.8" y="645.7" font-size="5.6" text-anchor="start" fill="#1a1a1a">Interv.</text>
<text x="664.8" y="653.5" font-size="5.6" text-anchor="start" fill="#1a1a1a">Pn56</text>
<line x1="646.4" y1="667.8" x2="658.3" y2="667.8" stroke="#d21c1c" stroke-width="0.9" stroke-dasharray="3 2"/>
<circle cx="652.3" cy="667.8" r="1.9" fill="#d21c1c"/>
<text x="664.8" y="665.9" font-size="5.6" text-anchor="start" fill="#1a1a1a">Contr.</text>
<text x="664.8" y="673.7" font-size="5.6" text-anchor="start" fill="#1a1a1a">Pn56</text>
<g fill="#2d6db5" fill-opacity="1.0"><path d="M378.3,507.9l1.6,2.8h-3.2Z"/><path d="M402,422.4l1.6,2.8h-3.2Z"/><path d="M423.3,422.4l1.6,2.8h-3.2Z"/><path d="M632.1,666.1L632.7,667.4L634,668L632.7,668.6L632.1,669.9L631.5,668.6L630.2,668L631.5,667.4Z"/></g>
<g fill="#d21c1c" fill-opacity="1.0"><path d="M393.3,509.3l1.6,2.8h-3.2Z"/><path d="M449.3,527.4l1.6,2.8h-3.2Z"/><path d="M360.2,556l1.6,2.8h-3.2Z"/><path d="M382.3,411.4l1.6,2.8h-3.2Z"/><path d="M381,405.9l1.6,2.8h-3.2Z"/><path d="M608.5,507.6L609.1,508.9L610.4,509.5L609.1,510.1L608.5,511.4L607.9,510.1L606.6,509.5L607.9,508.9Z"/></g>
<g fill="none" stroke="#6ab04c" stroke-opacity="1.0" stroke-width="0.8"><circle cx="409.8" cy="512.2" r="1.2"/><circle cx="409" cy="665.2" r="1.2"/><circle cx="372.4" cy="637" r="1.2"/></g>
<g fill="#f5b800" fill-opacity="1.0"><circle cx="441.6" cy="516.8" r="1.2"/><circle cx="367" cy="637.2" r="1.2"/><circle cx="385.9" cy="280.5" r="1.2"/><path d="M518.8,600.3l1.6,2.8h-3.2Z"/><path d="M607.1,516.1l1.6,2.8h-3.2Z"/><path d="M627.5,660.9l1.6,2.8h-3.2Z"/></g>
<g fill="#15a58e" fill-opacity="1.0"><circle cx="439.7" cy="530.4" r="1.2"/><circle cx="462" cy="664.7" r="1.2"/><circle cx="400.6" cy="286" r="1.2"/><path d="M632.9,682.6l1.6,2.8h-3.2Z"/><path d="M623.4,661.4l1.6,2.8h-3.2Z"/></g>
<g fill="none" stroke="#9a7b5b" stroke-opacity="1.0" stroke-width="0.8"><path d="M356.9,684.2h3.8M358.8,682.3v3.8"/><path d="M406.4,289.5h3.8M408.3,287.6v3.8"/><path d="M381.8,429.4h3.8M383.7,427.5v3.8"/></g>
<g fill="none" stroke="#8b3a2a" stroke-opacity="1.0" stroke-width="0.8"><path d="M390.5,292.8h3.8M392.4,290.9v3.8"/></g>
</svg></body></html>
